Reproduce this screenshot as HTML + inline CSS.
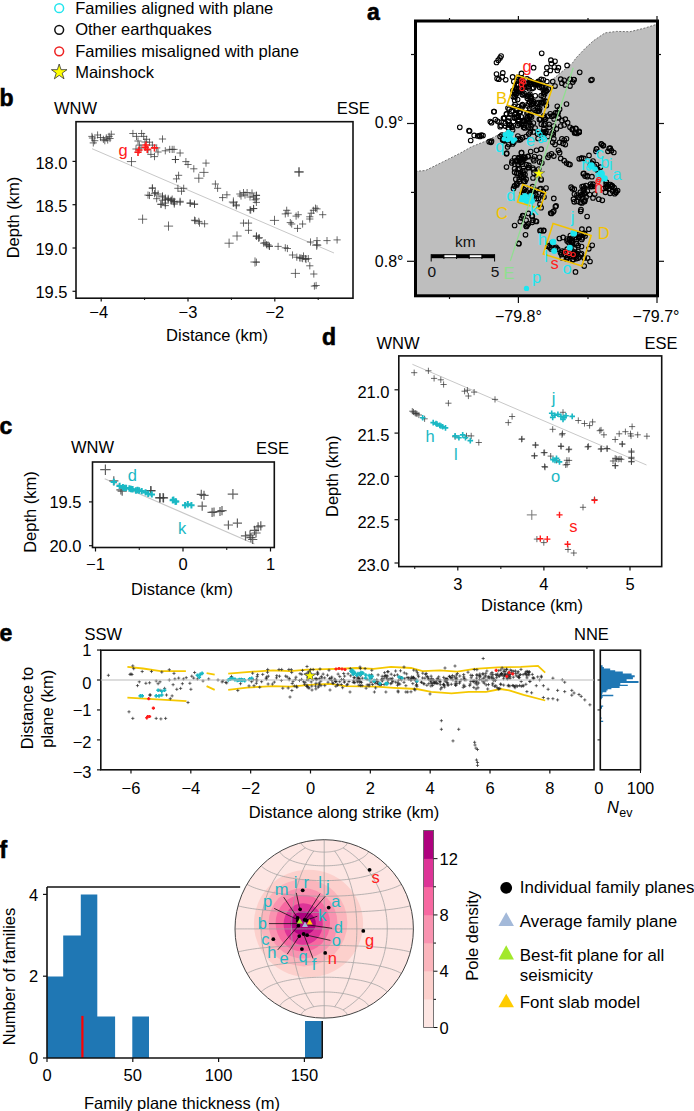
<!DOCTYPE html>
<html><head><meta charset="utf-8"><style>
html,body{margin:0;padding:0;background:#fff;}
body{width:694px;height:1111px;overflow:hidden;}
svg{display:block;font-family:"Liberation Sans", sans-serif;}
</style></head><body>
<svg width="694" height="1111" viewBox="0 0 694 1111">
<circle cx="59.2" cy="8.2" r="4.4" fill="none" stroke="#22e5ee" stroke-width="1.5"/>
<text x="75.2" y="13.8" font-size="16.5" fill="#000">Families aligned with plane</text>
<circle cx="59.2" cy="29.8" r="4.4" fill="none" stroke="#111" stroke-width="1.5"/>
<text x="75.2" y="35.35" font-size="16.5" fill="#000">Other earthquakes</text>
<circle cx="59.2" cy="51.3" r="4.4" fill="none" stroke="#ee2222" stroke-width="1.5"/>
<text x="75.2" y="56.900000000000006" font-size="16.5" fill="#000">Families misaligned with plane</text>
<polygon points="59.20,64.00 61.04,69.67 67.00,69.67 62.18,73.17 64.02,78.83 59.20,75.33 54.38,78.83 56.22,73.17 51.40,69.67 57.36,69.67" fill="#ffff00" stroke="#333" stroke-width="0.8"/>
<text x="75.2" y="78.4" font-size="16.5" fill="#000">Mainshock</text>
<line x1="92" y1="148.7" x2="334" y2="253" stroke="#c8c8c8" stroke-width="1"/>
<g fill="none">
<path d="M88.3,136.4h7.2M91.9,132.8v7.2" stroke="#3a3a3a" stroke-width="1.0" stroke-opacity="0.75"/>
<path d="M91.1,140.7h7.2M94.7,137.1v7.2" stroke="#3a3a3a" stroke-width="1.0" stroke-opacity="0.75"/>
<path d="M94.0,135.0h7.2M97.6,131.4v7.2" stroke="#3a3a3a" stroke-width="1.0" stroke-opacity="0.75"/>
<path d="M99.8,139.3h7.2M103.4,135.7v7.2" stroke="#3a3a3a" stroke-width="1.0" stroke-opacity="0.75"/>
<path d="M102.7,137.9h7.2M106.3,134.3v7.2" stroke="#3a3a3a" stroke-width="1.0" stroke-opacity="0.75"/>
<path d="M105.5,136.4h7.2M109.1,132.8v7.2" stroke="#3a3a3a" stroke-width="1.0" stroke-opacity="0.75"/>
<path d="M107.7,134.2h7.2M111.3,130.6v7.2" stroke="#3a3a3a" stroke-width="1.0" stroke-opacity="0.75"/>
<path d="M89.7,142.9h7.2M93.3,139.3v7.2" stroke="#3a3a3a" stroke-width="1.0" stroke-opacity="0.75"/>
<path d="M101.2,140.7h7.2M104.8,137.1v7.2" stroke="#3a3a3a" stroke-width="1.0" stroke-opacity="0.75"/>
<path d="M104.1,140.0h7.2M107.7,136.4v7.2" stroke="#3a3a3a" stroke-width="1.0" stroke-opacity="0.75"/>
<path d="M88.9,138.0h7.2M92.5,134.4v7.2" stroke="#3a3a3a" stroke-width="1.0" stroke-opacity="0.75"/>
<path d="M96.9,137.5h7.2M100.5,133.9v7.2" stroke="#3a3a3a" stroke-width="1.0" stroke-opacity="0.75"/>
<path d="M106.4,138.5h7.2M110.0,134.9v7.2" stroke="#3a3a3a" stroke-width="1.0" stroke-opacity="0.75"/>
<path d="M129.3,133.5h7.2M132.9,129.9v7.2" stroke="#3a3a3a" stroke-width="1.0" stroke-opacity="0.75"/>
<path d="M132.9,136.4h7.2M136.5,132.8v7.2" stroke="#3a3a3a" stroke-width="1.0" stroke-opacity="0.75"/>
<path d="M138.0,133.5h7.2M141.6,129.9v7.2" stroke="#3a3a3a" stroke-width="1.0" stroke-opacity="0.75"/>
<path d="M140.1,136.4h7.2M143.7,132.8v7.2" stroke="#3a3a3a" stroke-width="1.0" stroke-opacity="0.75"/>
<path d="M143.0,139.3h7.2M146.6,135.7v7.2" stroke="#3a3a3a" stroke-width="1.0" stroke-opacity="0.75"/>
<path d="M145.9,142.2h7.2M149.5,138.6v7.2" stroke="#3a3a3a" stroke-width="1.0" stroke-opacity="0.75"/>
<path d="M148.8,145.1h7.2M152.4,141.5v7.2" stroke="#3a3a3a" stroke-width="1.0" stroke-opacity="0.75"/>
<path d="M153.1,147.9h7.2M156.7,144.3v7.2" stroke="#3a3a3a" stroke-width="1.0" stroke-opacity="0.75"/>
<path d="M158.9,139.0h7.2M162.5,135.4v7.2" stroke="#3a3a3a" stroke-width="1.0" stroke-opacity="0.75"/>
<path d="M135.8,145.1h7.2M139.4,141.5v7.2" stroke="#3a3a3a" stroke-width="1.0" stroke-opacity="0.75"/>
<path d="M147.3,154.4h7.2M150.9,150.8v7.2" stroke="#3a3a3a" stroke-width="1.0" stroke-opacity="0.75"/>
<path d="M150.9,156.6h7.2M154.5,153.0v7.2" stroke="#3a3a3a" stroke-width="1.0" stroke-opacity="0.75"/>
<path d="M126.9,161.6h9.2M131.5,157.0v9.2" stroke="#3a3a3a" stroke-width="1.0" stroke-opacity="0.75"/>
<path d="M161.7,150.8h7.2M165.3,147.2v7.2" stroke="#3a3a3a" stroke-width="1.0" stroke-opacity="0.75"/>
<path d="M166.1,149.4h7.2M169.7,145.8v7.2" stroke="#3a3a3a" stroke-width="1.0" stroke-opacity="0.75"/>
<path d="M170.4,149.4h7.2M174.0,145.8v7.2" stroke="#3a3a3a" stroke-width="1.0" stroke-opacity="0.75"/>
<path d="M171.8,159.5h7.2M175.4,155.9v7.2" stroke="#3a3a3a" stroke-width="1.0" stroke-opacity="0.75"/>
<path d="M134.4,141.0h7.2M138.0,137.4v7.2" stroke="#3a3a3a" stroke-width="1.0" stroke-opacity="0.75"/>
<path d="M141.4,142.0h7.2M145.0,138.4v7.2" stroke="#3a3a3a" stroke-width="1.0" stroke-opacity="0.75"/>
<path d="M137.4,148.0h7.2M141.0,144.4v7.2" stroke="#3a3a3a" stroke-width="1.0" stroke-opacity="0.75"/>
<path d="M132.4,149.0h7.2M136.0,145.4v7.2" stroke="#3a3a3a" stroke-width="1.0" stroke-opacity="0.75"/>
<path d="M144.4,150.0h7.2M148.0,146.4v7.2" stroke="#3a3a3a" stroke-width="1.0" stroke-opacity="0.75"/>
<path d="M154.4,152.0h7.2M158.0,148.4v7.2" stroke="#3a3a3a" stroke-width="1.0" stroke-opacity="0.75"/>
<path d="M148.8,188.3h7.2M152.4,184.7v7.2" stroke="#3a3a3a" stroke-width="1.0" stroke-opacity="0.75"/>
<path d="M145.9,195.5h7.2M149.5,191.9v7.2" stroke="#3a3a3a" stroke-width="1.0" stroke-opacity="0.75"/>
<path d="M151.7,192.6h7.2M155.3,189.0v7.2" stroke="#3a3a3a" stroke-width="1.0" stroke-opacity="0.75"/>
<path d="M154.5,194.0h7.2M158.1,190.4v7.2" stroke="#3a3a3a" stroke-width="1.0" stroke-opacity="0.75"/>
<path d="M158.9,196.9h7.2M162.5,193.3v7.2" stroke="#3a3a3a" stroke-width="1.0" stroke-opacity="0.75"/>
<path d="M161.7,199.8h7.2M165.3,196.2v7.2" stroke="#3a3a3a" stroke-width="1.0" stroke-opacity="0.75"/>
<path d="M164.6,198.4h7.2M168.2,194.8v7.2" stroke="#3a3a3a" stroke-width="1.0" stroke-opacity="0.75"/>
<path d="M167.5,200.6h7.2M171.1,197.0v7.2" stroke="#3a3a3a" stroke-width="1.0" stroke-opacity="0.75"/>
<path d="M170.4,201.3h7.2M174.0,197.7v7.2" stroke="#3a3a3a" stroke-width="1.0" stroke-opacity="0.75"/>
<path d="M157.4,204.1h7.2M161.0,200.5v7.2" stroke="#3a3a3a" stroke-width="1.0" stroke-opacity="0.75"/>
<path d="M161.7,205.6h7.2M165.3,202.0v7.2" stroke="#3a3a3a" stroke-width="1.0" stroke-opacity="0.75"/>
<path d="M148.8,187.9h7.2M152.4,184.3v7.2" stroke="#3a3a3a" stroke-width="1.0" stroke-opacity="0.75"/>
<path d="M144.4,195.1h7.2M148.0,191.5v7.2" stroke="#3a3a3a" stroke-width="1.0" stroke-opacity="0.75"/>
<path d="M150.9,193.7h7.2M154.5,190.1v7.2" stroke="#3a3a3a" stroke-width="1.0" stroke-opacity="0.75"/>
<path d="M158.9,195.9h7.2M162.5,192.3v7.2" stroke="#3a3a3a" stroke-width="1.0" stroke-opacity="0.75"/>
<path d="M161.7,198.0h7.2M165.3,194.4v7.2" stroke="#3a3a3a" stroke-width="1.0" stroke-opacity="0.75"/>
<path d="M164.6,199.5h7.2M168.2,195.9v7.2" stroke="#3a3a3a" stroke-width="1.0" stroke-opacity="0.75"/>
<path d="M167.5,200.2h7.2M171.1,196.6v7.2" stroke="#3a3a3a" stroke-width="1.0" stroke-opacity="0.75"/>
<path d="M170.4,201.6h7.2M174.0,198.0v7.2" stroke="#3a3a3a" stroke-width="1.0" stroke-opacity="0.75"/>
<path d="M157.4,204.5h7.2M161.0,200.9v7.2" stroke="#3a3a3a" stroke-width="1.0" stroke-opacity="0.75"/>
<path d="M161.7,203.1h7.2M165.3,199.5v7.2" stroke="#3a3a3a" stroke-width="1.0" stroke-opacity="0.75"/>
<path d="M153.1,198.7h7.2M156.7,195.1v7.2" stroke="#3a3a3a" stroke-width="1.0" stroke-opacity="0.75"/>
<path d="M158.9,200.2h7.2M162.5,196.6v7.2" stroke="#3a3a3a" stroke-width="1.0" stroke-opacity="0.75"/>
<path d="M138.0,219.2h9.2M142.6,214.6v9.2" stroke="#3a3a3a" stroke-width="1.0" stroke-opacity="0.75"/>
<path d="M163.9,226.1h9.2M168.5,221.5v9.2" stroke="#3a3a3a" stroke-width="1.0" stroke-opacity="0.75"/>
<path d="M168.6,149.4h7.2M172.2,145.8v7.2" stroke="#3a3a3a" stroke-width="1.0" stroke-opacity="0.75"/>
<path d="M176.5,153.0h7.2M180.1,149.4v7.2" stroke="#3a3a3a" stroke-width="1.0" stroke-opacity="0.75"/>
<path d="M171.9,159.5h7.2M175.5,155.9v7.2" stroke="#3a3a3a" stroke-width="1.0" stroke-opacity="0.75"/>
<path d="M182.3,161.6h7.2M185.9,158.0v7.2" stroke="#3a3a3a" stroke-width="1.0" stroke-opacity="0.75"/>
<path d="M184.4,164.5h7.2M188.0,160.9v7.2" stroke="#3a3a3a" stroke-width="1.0" stroke-opacity="0.75"/>
<path d="M190.2,168.8h7.2M193.8,165.2v7.2" stroke="#3a3a3a" stroke-width="1.0" stroke-opacity="0.75"/>
<path d="M194.2,178.2h9.2M198.8,173.6v9.2" stroke="#3a3a3a" stroke-width="1.0" stroke-opacity="0.75"/>
<path d="M199.3,172.4h9.2M203.9,167.8v9.2" stroke="#3a3a3a" stroke-width="1.0" stroke-opacity="0.75"/>
<path d="M202.4,163.1h7.2M206.0,159.5v7.2" stroke="#3a3a3a" stroke-width="1.0" stroke-opacity="0.75"/>
<path d="M175.0,175.3h7.2M178.6,171.7v7.2" stroke="#3a3a3a" stroke-width="1.0" stroke-opacity="0.75"/>
<path d="M172.9,178.9h7.2M176.5,175.3v7.2" stroke="#3a3a3a" stroke-width="1.0" stroke-opacity="0.75"/>
<path d="M174.3,188.3h7.2M177.9,184.7v7.2" stroke="#3a3a3a" stroke-width="1.0" stroke-opacity="0.75"/>
<path d="M177.9,191.2h7.2M181.5,187.6v7.2" stroke="#3a3a3a" stroke-width="1.0" stroke-opacity="0.75"/>
<path d="M180.1,188.3h7.2M183.7,184.7v7.2" stroke="#3a3a3a" stroke-width="1.0" stroke-opacity="0.75"/>
<path d="M168.6,199.1h7.2M172.2,195.5v7.2" stroke="#3a3a3a" stroke-width="1.0" stroke-opacity="0.75"/>
<path d="M176.5,201.3h7.2M180.1,197.7v7.2" stroke="#3a3a3a" stroke-width="1.0" stroke-opacity="0.75"/>
<path d="M170.7,204.1h7.2M174.3,200.5v7.2" stroke="#3a3a3a" stroke-width="1.0" stroke-opacity="0.75"/>
<path d="M186.6,203.4h7.2M190.2,199.8v7.2" stroke="#3a3a3a" stroke-width="1.0" stroke-opacity="0.75"/>
<path d="M190.9,204.1h7.2M194.5,200.5v7.2" stroke="#3a3a3a" stroke-width="1.0" stroke-opacity="0.75"/>
<path d="M211.8,184.0h7.2M215.4,180.4v7.2" stroke="#3a3a3a" stroke-width="1.0" stroke-opacity="0.75"/>
<path d="M214.0,188.3h7.2M217.6,184.7v7.2" stroke="#3a3a3a" stroke-width="1.0" stroke-opacity="0.75"/>
<path d="M219.0,197.6h7.2M222.6,194.0v7.2" stroke="#3a3a3a" stroke-width="1.0" stroke-opacity="0.75"/>
<path d="M223.3,194.8h7.2M226.9,191.2v7.2" stroke="#3a3a3a" stroke-width="1.0" stroke-opacity="0.75"/>
<path d="M228.8,202.0h9.2M233.4,197.4v9.2" stroke="#3a3a3a" stroke-width="1.0" stroke-opacity="0.75"/>
<path d="M232.7,204.9h7.2M236.3,201.3v7.2" stroke="#3a3a3a" stroke-width="1.0" stroke-opacity="0.75"/>
<path d="M236.3,194.0h7.2M239.9,190.4v7.2" stroke="#3a3a3a" stroke-width="1.0" stroke-opacity="0.75"/>
<path d="M239.9,192.6h7.2M243.5,189.0v7.2" stroke="#3a3a3a" stroke-width="1.0" stroke-opacity="0.75"/>
<path d="M243.5,192.6h7.2M247.1,189.0v7.2" stroke="#3a3a3a" stroke-width="1.0" stroke-opacity="0.75"/>
<path d="M250.0,196.9h7.2M253.6,193.3v7.2" stroke="#3a3a3a" stroke-width="1.0" stroke-opacity="0.75"/>
<path d="M252.9,195.5h7.2M256.5,191.9v7.2" stroke="#3a3a3a" stroke-width="1.0" stroke-opacity="0.75"/>
<path d="M251.4,199.8h7.2M255.0,196.2v7.2" stroke="#3a3a3a" stroke-width="1.0" stroke-opacity="0.75"/>
<path d="M246.4,209.9h7.2M250.0,206.3v7.2" stroke="#3a3a3a" stroke-width="1.0" stroke-opacity="0.75"/>
<path d="M250.0,208.5h7.2M253.6,204.9v7.2" stroke="#3a3a3a" stroke-width="1.0" stroke-opacity="0.75"/>
<path d="M191.6,220.7h7.2M195.2,217.1v7.2" stroke="#3a3a3a" stroke-width="1.0" stroke-opacity="0.75"/>
<path d="M195.2,221.4h7.2M198.8,217.8v7.2" stroke="#3a3a3a" stroke-width="1.0" stroke-opacity="0.75"/>
<path d="M237.4,196.0h7.2M241.0,192.4v7.2" stroke="#3a3a3a" stroke-width="1.0" stroke-opacity="0.75"/>
<path d="M241.4,195.0h7.2M245.0,191.4v7.2" stroke="#3a3a3a" stroke-width="1.0" stroke-opacity="0.75"/>
<path d="M246.4,197.0h7.2M250.0,193.4v7.2" stroke="#3a3a3a" stroke-width="1.0" stroke-opacity="0.75"/>
<path d="M248.4,193.0h7.2M252.0,189.4v7.2" stroke="#3a3a3a" stroke-width="1.0" stroke-opacity="0.75"/>
<path d="M294.4,172.2h9.2M299.0,167.6v9.2" stroke="#3a3a3a" stroke-width="1.0" stroke-opacity="0.75"/>
<path d="M252.8,195.2h7.2M256.4,191.6v7.2" stroke="#3a3a3a" stroke-width="1.0" stroke-opacity="0.75"/>
<path d="M252.8,198.8h7.2M256.4,195.2v7.2" stroke="#3a3a3a" stroke-width="1.0" stroke-opacity="0.75"/>
<path d="M252.8,202.4h7.2M256.4,198.8v7.2" stroke="#3a3a3a" stroke-width="1.0" stroke-opacity="0.75"/>
<path d="M269.9,220.4h9.2M274.5,215.8v9.2" stroke="#3a3a3a" stroke-width="1.0" stroke-opacity="0.75"/>
<path d="M283.1,210.3h7.2M286.7,206.7v7.2" stroke="#3a3a3a" stroke-width="1.0" stroke-opacity="0.75"/>
<path d="M281.7,213.9h7.2M285.3,210.3v7.2" stroke="#3a3a3a" stroke-width="1.0" stroke-opacity="0.75"/>
<path d="M284.5,213.2h7.2M288.1,209.6v7.2" stroke="#3a3a3a" stroke-width="1.0" stroke-opacity="0.75"/>
<path d="M292.5,216.1h7.2M296.1,212.5v7.2" stroke="#3a3a3a" stroke-width="1.0" stroke-opacity="0.75"/>
<path d="M294.6,214.7h7.2M298.2,211.1v7.2" stroke="#3a3a3a" stroke-width="1.0" stroke-opacity="0.75"/>
<path d="M286.7,222.6h7.2M290.3,219.0v7.2" stroke="#3a3a3a" stroke-width="1.0" stroke-opacity="0.75"/>
<path d="M288.1,224.0h7.2M291.7,220.4v7.2" stroke="#3a3a3a" stroke-width="1.0" stroke-opacity="0.75"/>
<path d="M293.9,228.4h7.2M297.5,224.8v7.2" stroke="#3a3a3a" stroke-width="1.0" stroke-opacity="0.75"/>
<path d="M299.0,224.0h7.2M302.6,220.4v7.2" stroke="#3a3a3a" stroke-width="1.0" stroke-opacity="0.75"/>
<path d="M306.2,216.8h7.2M309.8,213.2v7.2" stroke="#3a3a3a" stroke-width="1.0" stroke-opacity="0.75"/>
<path d="M307.6,213.2h7.2M311.2,209.6v7.2" stroke="#3a3a3a" stroke-width="1.0" stroke-opacity="0.75"/>
<path d="M309.8,210.3h7.2M313.4,206.7v7.2" stroke="#3a3a3a" stroke-width="1.0" stroke-opacity="0.75"/>
<path d="M311.9,208.2h7.2M315.5,204.6v7.2" stroke="#3a3a3a" stroke-width="1.0" stroke-opacity="0.75"/>
<path d="M313.4,208.9h7.2M317.0,205.3v7.2" stroke="#3a3a3a" stroke-width="1.0" stroke-opacity="0.75"/>
<path d="M319.1,214.7h7.2M322.7,211.1v7.2" stroke="#3a3a3a" stroke-width="1.0" stroke-opacity="0.75"/>
<path d="M306.2,219.0h7.2M309.8,215.4v7.2" stroke="#3a3a3a" stroke-width="1.0" stroke-opacity="0.75"/>
<path d="M306.9,242.0h7.2M310.5,238.4v7.2" stroke="#3a3a3a" stroke-width="1.0" stroke-opacity="0.75"/>
<path d="M313.4,240.6h7.2M317.0,237.0v7.2" stroke="#3a3a3a" stroke-width="1.0" stroke-opacity="0.75"/>
<path d="M313.4,244.9h7.2M317.0,241.3v7.2" stroke="#3a3a3a" stroke-width="1.0" stroke-opacity="0.75"/>
<path d="M323.4,240.6h7.2M327.0,237.0v7.2" stroke="#3a3a3a" stroke-width="1.0" stroke-opacity="0.75"/>
<path d="M333.5,239.9h7.2M337.1,236.3v7.2" stroke="#3a3a3a" stroke-width="1.0" stroke-opacity="0.75"/>
<path d="M252.8,236.3h7.2M256.4,232.7v7.2" stroke="#3a3a3a" stroke-width="1.0" stroke-opacity="0.75"/>
<path d="M255.7,237.7h7.2M259.3,234.1v7.2" stroke="#3a3a3a" stroke-width="1.0" stroke-opacity="0.75"/>
<path d="M261.5,242.8h7.2M265.1,239.2v7.2" stroke="#3a3a3a" stroke-width="1.0" stroke-opacity="0.75"/>
<path d="M264.4,244.9h7.2M268.0,241.3v7.2" stroke="#3a3a3a" stroke-width="1.0" stroke-opacity="0.75"/>
<path d="M265.8,246.4h7.2M269.4,242.8v7.2" stroke="#3a3a3a" stroke-width="1.0" stroke-opacity="0.75"/>
<path d="M274.5,246.4h7.2M278.1,242.8v7.2" stroke="#3a3a3a" stroke-width="1.0" stroke-opacity="0.75"/>
<path d="M281.7,247.8h7.2M285.3,244.2v7.2" stroke="#3a3a3a" stroke-width="1.0" stroke-opacity="0.75"/>
<path d="M283.8,248.5h7.2M287.4,244.9v7.2" stroke="#3a3a3a" stroke-width="1.0" stroke-opacity="0.75"/>
<path d="M288.9,255.0h7.2M292.5,251.4v7.2" stroke="#3a3a3a" stroke-width="1.0" stroke-opacity="0.75"/>
<path d="M293.2,257.2h7.2M296.8,253.6v7.2" stroke="#3a3a3a" stroke-width="1.0" stroke-opacity="0.75"/>
<path d="M296.1,257.9h7.2M299.7,254.3v7.2" stroke="#3a3a3a" stroke-width="1.0" stroke-opacity="0.75"/>
<path d="M299.0,258.6h7.2M302.6,255.0v7.2" stroke="#3a3a3a" stroke-width="1.0" stroke-opacity="0.75"/>
<path d="M301.8,258.6h7.2M305.4,255.0v7.2" stroke="#3a3a3a" stroke-width="1.0" stroke-opacity="0.75"/>
<path d="M304.7,258.6h7.2M308.3,255.0v7.2" stroke="#3a3a3a" stroke-width="1.0" stroke-opacity="0.75"/>
<path d="M306.2,265.8h7.2M309.8,262.2v7.2" stroke="#3a3a3a" stroke-width="1.0" stroke-opacity="0.75"/>
<path d="M252.8,262.2h7.2M256.4,258.6v7.2" stroke="#3a3a3a" stroke-width="1.0" stroke-opacity="0.75"/>
<path d="M190.9,220.2h7.2M194.5,216.6v7.2" stroke="#3a3a3a" stroke-width="1.0" stroke-opacity="0.75"/>
<path d="M195.9,223.1h7.2M199.5,219.5v7.2" stroke="#3a3a3a" stroke-width="1.0" stroke-opacity="0.75"/>
<path d="M201.0,223.8h7.2M204.6,220.2v7.2" stroke="#3a3a3a" stroke-width="1.0" stroke-opacity="0.75"/>
<path d="M232.4,236.0h9.2M237.0,231.4v9.2" stroke="#3a3a3a" stroke-width="1.0" stroke-opacity="0.75"/>
<path d="M224.5,243.2h9.2M229.1,238.6v9.2" stroke="#3a3a3a" stroke-width="1.0" stroke-opacity="0.75"/>
<path d="M250.4,262.0h9.2M255.0,257.4v9.2" stroke="#3a3a3a" stroke-width="1.0" stroke-opacity="0.75"/>
<path d="M239.9,223.1h7.2M243.5,219.5v7.2" stroke="#3a3a3a" stroke-width="1.0" stroke-opacity="0.75"/>
<path d="M244.9,223.1h7.2M248.5,219.5v7.2" stroke="#3a3a3a" stroke-width="1.0" stroke-opacity="0.75"/>
<path d="M244.9,230.3h7.2M248.5,226.7v7.2" stroke="#3a3a3a" stroke-width="1.0" stroke-opacity="0.75"/>
<path d="M252.9,236.0h7.2M256.5,232.4v7.2" stroke="#3a3a3a" stroke-width="1.0" stroke-opacity="0.75"/>
<path d="M255.0,238.2h7.2M258.6,234.6v7.2" stroke="#3a3a3a" stroke-width="1.0" stroke-opacity="0.75"/>
<path d="M260.1,243.2h7.2M263.7,239.6v7.2" stroke="#3a3a3a" stroke-width="1.0" stroke-opacity="0.75"/>
<path d="M262.9,244.7h7.2M266.5,241.1v7.2" stroke="#3a3a3a" stroke-width="1.0" stroke-opacity="0.75"/>
<path d="M265.8,246.1h7.2M269.4,242.5v7.2" stroke="#3a3a3a" stroke-width="1.0" stroke-opacity="0.75"/>
<path d="M247.1,210.1h7.2M250.7,206.5v7.2" stroke="#3a3a3a" stroke-width="1.0" stroke-opacity="0.75"/>
<path d="M250.0,208.6h7.2M253.6,205.0v7.2" stroke="#3a3a3a" stroke-width="1.0" stroke-opacity="0.75"/>
<path d="M229.8,202.9h7.2M233.4,199.3v7.2" stroke="#3a3a3a" stroke-width="1.0" stroke-opacity="0.75"/>
<path d="M232.7,205.8h7.2M236.3,202.2v7.2" stroke="#3a3a3a" stroke-width="1.0" stroke-opacity="0.75"/>
<path d="M170.7,202.9h7.2M174.3,199.3v7.2" stroke="#3a3a3a" stroke-width="1.0" stroke-opacity="0.75"/>
<path d="M176.5,202.2h7.2M180.1,198.6v7.2" stroke="#3a3a3a" stroke-width="1.0" stroke-opacity="0.75"/>
<path d="M186.6,202.9h7.2M190.2,199.3v7.2" stroke="#3a3a3a" stroke-width="1.0" stroke-opacity="0.75"/>
<path d="M190.9,204.3h7.2M194.5,200.7v7.2" stroke="#3a3a3a" stroke-width="1.0" stroke-opacity="0.75"/>
<path d="M294.4,171.7h9.2M299.0,167.1v9.2" stroke="#3a3a3a" stroke-width="1.0" stroke-opacity="0.75"/>
<path d="M299.9,256.0h7.2M303.5,252.4v7.2" stroke="#3a3a3a" stroke-width="1.0" stroke-opacity="0.75"/>
<path d="M302.4,259.5h7.2M306.0,255.9v7.2" stroke="#3a3a3a" stroke-width="1.0" stroke-opacity="0.75"/>
<path d="M297.4,258.0h7.2M301.0,254.4v7.2" stroke="#3a3a3a" stroke-width="1.0" stroke-opacity="0.75"/>
<path d="M290.8,273.4h9.2M295.4,268.8v9.2" stroke="#3a3a3a" stroke-width="1.0" stroke-opacity="0.75"/>
<path d="M310.2,274.0h7.2M313.8,270.4v7.2" stroke="#3a3a3a" stroke-width="1.0" stroke-opacity="0.75"/>
<path d="M310.8,286.1h7.2M314.4,282.5v7.2" stroke="#3a3a3a" stroke-width="1.0" stroke-opacity="0.75"/>
<path d="M312.5,285.5h7.2M316.1,281.9v7.2" stroke="#3a3a3a" stroke-width="1.0" stroke-opacity="0.75"/>
<path d="M312.1,245.2h9.2M316.7,240.6v9.2" stroke="#3a3a3a" stroke-width="1.0" stroke-opacity="0.75"/>
<path d="M134.4,152.3h7.2M138.0,148.7v7.2" stroke="#ff1a1a" stroke-width="1.6"/>
<path d="M141.6,147.2h7.2M145.2,143.6v7.2" stroke="#ff1a1a" stroke-width="1.6"/>
<path d="M143.7,149.4h7.2M147.3,145.8v7.2" stroke="#ff1a1a" stroke-width="1.6"/>
<path d="M150.9,147.9h7.2M154.5,144.3v7.2" stroke="#ff1a1a" stroke-width="1.6"/>
<path d="M135.4,150.0h7.2M139.0,146.4v7.2" stroke="#ff1a1a" stroke-width="1.6"/>
<path d="M142.4,145.0h7.2M146.0,141.4v7.2" stroke="#ff1a1a" stroke-width="1.6"/>
</g>
<text x="118.5" y="156" font-size="16.5" fill="#ff1a1a">g</text>
<line x1="104.7" y1="478.8" x2="254.5" y2="544" stroke="#c8c8c8" stroke-width="1.2"/>
<g fill="none">
<path d="M146.3,490.8h9.2M150.9,486.2v9.2" stroke="#3a3a3a" stroke-width="1.2" stroke-opacity="0.8"/>
<path d="M155.3,498.0h9.2M159.9,493.4v9.2" stroke="#3a3a3a" stroke-width="1.2" stroke-opacity="0.8"/>
<path d="M158.9,498.0h9.2M163.5,493.4v9.2" stroke="#3a3a3a" stroke-width="1.2" stroke-opacity="0.8"/>
<path d="M196.7,494.4h9.2M201.3,489.8v9.2" stroke="#3a3a3a" stroke-width="1.2" stroke-opacity="0.8"/>
<path d="M199.4,495.3h9.2M204.0,490.7v9.2" stroke="#3a3a3a" stroke-width="1.2" stroke-opacity="0.8"/>
<path d="M197.6,506.1h9.2M202.2,501.5v9.2" stroke="#3a3a3a" stroke-width="1.2" stroke-opacity="0.8"/>
<path d="M207.5,512.4h9.2M212.1,507.8v9.2" stroke="#3a3a3a" stroke-width="1.2" stroke-opacity="0.8"/>
<path d="M217.4,510.6h9.2M222.0,506.0v9.2" stroke="#3a3a3a" stroke-width="1.2" stroke-opacity="0.8"/>
<path d="M227.7,494.1h10.4M232.9,488.9v10.4" stroke="#3a3a3a" stroke-width="1.2" stroke-opacity="0.8"/>
<path d="M223.8,525.0h9.2M228.4,520.4v9.2" stroke="#3a3a3a" stroke-width="1.2" stroke-opacity="0.8"/>
<path d="M232.8,523.2h9.2M237.4,518.6v9.2" stroke="#3a3a3a" stroke-width="1.2" stroke-opacity="0.8"/>
<path d="M240.9,535.8h9.2M245.5,531.2v9.2" stroke="#3a3a3a" stroke-width="1.2" stroke-opacity="0.8"/>
<path d="M246.3,537.6h9.2M250.9,533.0v9.2" stroke="#3a3a3a" stroke-width="1.2" stroke-opacity="0.8"/>
<path d="M249.9,530.4h9.2M254.5,525.8v9.2" stroke="#3a3a3a" stroke-width="1.2" stroke-opacity="0.8"/>
<path d="M253.5,526.8h9.2M258.1,522.2v9.2" stroke="#3a3a3a" stroke-width="1.2" stroke-opacity="0.8"/>
<path d="M256.2,525.9h9.2M260.8,521.3v9.2" stroke="#3a3a3a" stroke-width="1.2" stroke-opacity="0.8"/>
<path d="M248.1,539.5h9.2M252.7,534.9v9.2" stroke="#3a3a3a" stroke-width="1.2" stroke-opacity="0.8"/>
<path d="M100.2,469.7h10.4M105.4,464.5v10.4" stroke="#3a3a3a" stroke-width="1.2" stroke-opacity="0.8"/>
<path d="M109.2,480.8h9.2M113.8,476.2v9.2" stroke="#3a3a3a" stroke-width="1.2" stroke-opacity="0.8"/>
<path d="M116.3,489.8h9.2M120.9,485.2v9.2" stroke="#3a3a3a" stroke-width="1.2" stroke-opacity="0.8"/>
<path d="M117.6,491.1h9.2M122.2,486.5v9.2" stroke="#3a3a3a" stroke-width="1.2" stroke-opacity="0.8"/>
<path d="M146.2,490.5h9.2M150.8,485.9v9.2" stroke="#3a3a3a" stroke-width="1.2" stroke-opacity="0.8"/>
<path d="M155.3,497.6h9.2M159.9,493.0v9.2" stroke="#3a3a3a" stroke-width="1.2" stroke-opacity="0.8"/>
<path d="M158.5,497.6h9.2M163.1,493.0v9.2" stroke="#3a3a3a" stroke-width="1.2" stroke-opacity="0.8"/>
<path d="M209.4,512.0h9.2M214.0,507.4v9.2" stroke="#3a3a3a" stroke-width="1.2" stroke-opacity="0.8"/>
<path d="M215.4,511.5h9.2M220.0,506.9v9.2" stroke="#3a3a3a" stroke-width="1.2" stroke-opacity="0.8"/>
<path d="M245.4,535.0h9.2M250.0,530.4v9.2" stroke="#3a3a3a" stroke-width="1.2" stroke-opacity="0.8"/>
<path d="M251.4,533.0h9.2M256.0,528.4v9.2" stroke="#3a3a3a" stroke-width="1.2" stroke-opacity="0.8"/>
<path d="M148.6,494.4h6.4M151.8,491.2v6.4" stroke="#1ab8c4" stroke-width="2.0"/>
<path d="M170.2,499.8h6.4M173.4,496.6v6.4" stroke="#1ab8c4" stroke-width="2.0"/>
<path d="M172.9,501.6h6.4M176.1,498.4v6.4" stroke="#1ab8c4" stroke-width="2.0"/>
<path d="M181.9,505.2h6.4M185.1,502.0v6.4" stroke="#1ab8c4" stroke-width="2.0"/>
<path d="M184.6,504.3h6.4M187.8,501.1v6.4" stroke="#1ab8c4" stroke-width="2.0"/>
<path d="M188.2,505.2h6.4M191.4,502.0v6.4" stroke="#1ab8c4" stroke-width="2.0"/>
<path d="M110.6,482.0h6.4M113.8,478.8v6.4" stroke="#1ab8c4" stroke-width="2.0"/>
<path d="M116.4,485.9h6.4M119.6,482.7v6.4" stroke="#1ab8c4" stroke-width="2.0"/>
<path d="M119.7,487.2h6.4M122.9,484.0v6.4" stroke="#1ab8c4" stroke-width="2.0"/>
<path d="M122.9,487.9h6.4M126.1,484.7v6.4" stroke="#1ab8c4" stroke-width="2.0"/>
<path d="M126.2,488.5h6.4M129.4,485.3v6.4" stroke="#1ab8c4" stroke-width="2.0"/>
<path d="M129.4,489.2h6.4M132.6,486.0v6.4" stroke="#1ab8c4" stroke-width="2.0"/>
<path d="M132.7,490.5h6.4M135.9,487.3v6.4" stroke="#1ab8c4" stroke-width="2.0"/>
<path d="M135.9,490.5h6.4M139.1,487.3v6.4" stroke="#1ab8c4" stroke-width="2.0"/>
<path d="M138.5,491.1h6.4M141.7,487.9v6.4" stroke="#1ab8c4" stroke-width="2.0"/>
<path d="M142.4,492.4h6.4M145.6,489.2v6.4" stroke="#1ab8c4" stroke-width="2.0"/>
<path d="M145.0,493.7h6.4M148.2,490.5v6.4" stroke="#1ab8c4" stroke-width="2.0"/>
<path d="M169.6,500.2h6.4M172.8,497.0v6.4" stroke="#1ab8c4" stroke-width="2.0"/>
<path d="M172.2,501.5h6.4M175.4,498.3v6.4" stroke="#1ab8c4" stroke-width="2.0"/>
<path d="M121.3,488.0h6.4M124.5,484.8v6.4" stroke="#1ab8c4" stroke-width="2.0"/>
<path d="M127.8,489.0h6.4M131.0,485.8v6.4" stroke="#1ab8c4" stroke-width="2.0"/>
<path d="M134.3,490.0h6.4M137.5,486.8v6.4" stroke="#1ab8c4" stroke-width="2.0"/>
</g>
<text x="127.7" y="480.8" font-size="16.5" fill="#1ab8c4">d</text>
<text x="178" y="534" font-size="16.5" fill="#1ab8c4">k</text>
<line x1="412.4" y1="364.3" x2="646.5" y2="465" stroke="#c8c8c8" stroke-width="1"/>
<g fill="none">
<path d="M411.1,372.7h6.2M414.2,369.6v6.2" stroke="#3a3a3a" stroke-width="1.0" stroke-opacity="0.75"/>
<path d="M425.3,370.8h6.2M428.4,367.7v6.2" stroke="#3a3a3a" stroke-width="1.0" stroke-opacity="0.75"/>
<path d="M431.0,378.4h6.2M434.1,375.3v6.2" stroke="#3a3a3a" stroke-width="1.0" stroke-opacity="0.75"/>
<path d="M437.7,379.8h6.2M440.8,376.7v6.2" stroke="#3a3a3a" stroke-width="1.0" stroke-opacity="0.75"/>
<path d="M440.5,384.5h6.2M443.6,381.4v6.2" stroke="#3a3a3a" stroke-width="1.0" stroke-opacity="0.75"/>
<path d="M461.5,391.2h6.2M464.6,388.1v6.2" stroke="#3a3a3a" stroke-width="1.0" stroke-opacity="0.75"/>
<path d="M464.3,390.2h6.2M467.4,387.1v6.2" stroke="#3a3a3a" stroke-width="1.0" stroke-opacity="0.75"/>
<path d="M465.3,396.0h6.2M468.4,392.9v6.2" stroke="#3a3a3a" stroke-width="1.0" stroke-opacity="0.75"/>
<path d="M471.0,392.1h6.2M474.1,389.0v6.2" stroke="#3a3a3a" stroke-width="1.0" stroke-opacity="0.75"/>
<path d="M491.9,399.4h6.2M495.0,396.3v6.2" stroke="#3a3a3a" stroke-width="1.0" stroke-opacity="0.75"/>
<path d="M445.3,403.2h6.2M448.4,400.1v6.2" stroke="#3a3a3a" stroke-width="1.0" stroke-opacity="0.75"/>
<path d="M409.2,411.2h6.2M412.3,408.1v6.2" stroke="#3a3a3a" stroke-width="1.0" stroke-opacity="0.75"/>
<path d="M412.0,413.1h6.2M415.1,410.0v6.2" stroke="#3a3a3a" stroke-width="1.0" stroke-opacity="0.75"/>
<path d="M413.9,414.0h6.2M417.0,410.9v6.2" stroke="#3a3a3a" stroke-width="1.0" stroke-opacity="0.75"/>
<path d="M415.8,415.0h6.2M418.9,411.9v6.2" stroke="#3a3a3a" stroke-width="1.0" stroke-opacity="0.75"/>
<path d="M421.5,418.8h6.2M424.6,415.7v6.2" stroke="#3a3a3a" stroke-width="1.0" stroke-opacity="0.75"/>
<path d="M505.2,422.6h6.2M508.3,419.5v6.2" stroke="#3a3a3a" stroke-width="1.0" stroke-opacity="0.75"/>
<path d="M509.0,416.5h6.2M512.1,413.4v6.2" stroke="#3a3a3a" stroke-width="1.0" stroke-opacity="0.75"/>
<path d="M518.5,439.3h6.2M521.6,436.2v6.2" stroke="#3a3a3a" stroke-width="1.0" stroke-opacity="0.75"/>
<path d="M463.4,435.9h6.2M466.5,432.8v6.2" stroke="#3a3a3a" stroke-width="1.0" stroke-opacity="0.75"/>
<path d="M468.1,435.9h6.2M471.2,432.8v6.2" stroke="#3a3a3a" stroke-width="1.0" stroke-opacity="0.75"/>
<path d="M475.7,442.5h6.2M478.8,439.4v6.2" stroke="#3a3a3a" stroke-width="1.0" stroke-opacity="0.75"/>
<path d="M452.0,436.8h6.2M455.1,433.7v6.2" stroke="#3a3a3a" stroke-width="1.0" stroke-opacity="0.75"/>
<path d="M559.9,412.3h6.2M563.0,409.2v6.2" stroke="#3a3a3a" stroke-width="1.0" stroke-opacity="0.75"/>
<path d="M575.2,420.5h6.2M578.3,417.4v6.2" stroke="#3a3a3a" stroke-width="1.0" stroke-opacity="0.75"/>
<path d="M581.4,423.5h6.2M584.5,420.4v6.2" stroke="#3a3a3a" stroke-width="1.0" stroke-opacity="0.75"/>
<path d="M586.5,425.6h6.2M589.6,422.5v6.2" stroke="#3a3a3a" stroke-width="1.0" stroke-opacity="0.75"/>
<path d="M589.5,421.9h6.2M592.6,418.8v6.2" stroke="#3a3a3a" stroke-width="1.0" stroke-opacity="0.75"/>
<path d="M596.7,430.7h6.2M599.8,427.6v6.2" stroke="#3a3a3a" stroke-width="1.0" stroke-opacity="0.75"/>
<path d="M600.8,434.8h6.2M603.9,431.7v6.2" stroke="#3a3a3a" stroke-width="1.0" stroke-opacity="0.75"/>
<path d="M549.6,429.3h6.2M552.7,426.2v6.2" stroke="#3a3a3a" stroke-width="1.0" stroke-opacity="0.75"/>
<path d="M558.9,434.8h6.2M562.0,431.7v6.2" stroke="#3a3a3a" stroke-width="1.0" stroke-opacity="0.75"/>
<path d="M518.9,438.9h6.2M522.0,435.8v6.2" stroke="#3a3a3a" stroke-width="1.0" stroke-opacity="0.75"/>
<path d="M532.2,445.0h6.2M535.3,441.9v6.2" stroke="#3a3a3a" stroke-width="1.0" stroke-opacity="0.75"/>
<path d="M531.2,455.9h6.2M534.3,452.8v6.2" stroke="#3a3a3a" stroke-width="1.0" stroke-opacity="0.75"/>
<path d="M541.5,452.6h6.2M544.6,449.5v6.2" stroke="#3a3a3a" stroke-width="1.0" stroke-opacity="0.75"/>
<path d="M557.8,446.0h6.2M560.9,442.9v6.2" stroke="#3a3a3a" stroke-width="1.0" stroke-opacity="0.75"/>
<path d="M566.0,449.1h6.2M569.1,446.0v6.2" stroke="#3a3a3a" stroke-width="1.0" stroke-opacity="0.75"/>
<path d="M566.0,460.4h6.2M569.1,457.3v6.2" stroke="#3a3a3a" stroke-width="1.0" stroke-opacity="0.75"/>
<path d="M564.0,464.5h6.2M567.1,461.4v6.2" stroke="#3a3a3a" stroke-width="1.0" stroke-opacity="0.75"/>
<path d="M541.5,466.5h6.2M544.6,463.4v6.2" stroke="#3a3a3a" stroke-width="1.0" stroke-opacity="0.75"/>
<path d="M585.4,446.4h6.2M588.5,443.3v6.2" stroke="#3a3a3a" stroke-width="1.0" stroke-opacity="0.75"/>
<path d="M597.7,449.1h6.2M600.8,446.0v6.2" stroke="#3a3a3a" stroke-width="1.0" stroke-opacity="0.75"/>
<path d="M603.9,448.5h6.2M607.0,445.4v6.2" stroke="#3a3a3a" stroke-width="1.0" stroke-opacity="0.75"/>
<path d="M612.1,439.5h6.2M615.2,436.4v6.2" stroke="#3a3a3a" stroke-width="1.0" stroke-opacity="0.75"/>
<path d="M616.1,433.8h6.2M619.2,430.7v6.2" stroke="#3a3a3a" stroke-width="1.0" stroke-opacity="0.75"/>
<path d="M622.3,431.7h6.2M625.4,428.6v6.2" stroke="#3a3a3a" stroke-width="1.0" stroke-opacity="0.75"/>
<path d="M627.4,433.8h6.2M630.5,430.7v6.2" stroke="#3a3a3a" stroke-width="1.0" stroke-opacity="0.75"/>
<path d="M629.0,426.6h6.2M632.1,423.5v6.2" stroke="#3a3a3a" stroke-width="1.0" stroke-opacity="0.75"/>
<path d="M634.6,434.8h6.2M637.7,431.7v6.2" stroke="#3a3a3a" stroke-width="1.0" stroke-opacity="0.75"/>
<path d="M643.8,436.2h6.2M646.9,433.1v6.2" stroke="#3a3a3a" stroke-width="1.0" stroke-opacity="0.75"/>
<path d="M619.2,444.0h6.2M622.3,440.9v6.2" stroke="#3a3a3a" stroke-width="1.0" stroke-opacity="0.75"/>
<path d="M612.1,458.3h6.2M615.2,455.2v6.2" stroke="#3a3a3a" stroke-width="1.0" stroke-opacity="0.75"/>
<path d="M615.1,459.3h6.2M618.2,456.2v6.2" stroke="#3a3a3a" stroke-width="1.0" stroke-opacity="0.75"/>
<path d="M618.2,459.3h6.2M621.3,456.2v6.2" stroke="#3a3a3a" stroke-width="1.0" stroke-opacity="0.75"/>
<path d="M628.4,452.2h6.2M631.5,449.1v6.2" stroke="#3a3a3a" stroke-width="1.0" stroke-opacity="0.75"/>
<path d="M628.4,457.3h6.2M631.5,454.2v6.2" stroke="#3a3a3a" stroke-width="1.0" stroke-opacity="0.75"/>
<path d="M628.4,461.4h6.2M631.5,458.3v6.2" stroke="#3a3a3a" stroke-width="1.0" stroke-opacity="0.75"/>
<path d="M612.1,465.5h6.2M615.2,462.4v6.2" stroke="#3a3a3a" stroke-width="1.0" stroke-opacity="0.75"/>
<path d="M532.6,445.1h6.2M535.7,442.0v6.2" stroke="#3a3a3a" stroke-width="1.0" stroke-opacity="0.75"/>
<path d="M558.0,446.5h6.2M561.1,443.4v6.2" stroke="#3a3a3a" stroke-width="1.0" stroke-opacity="0.75"/>
<path d="M565.6,449.7h6.2M568.7,446.6v6.2" stroke="#3a3a3a" stroke-width="1.0" stroke-opacity="0.75"/>
<path d="M531.5,455.7h6.2M534.6,452.6v6.2" stroke="#3a3a3a" stroke-width="1.0" stroke-opacity="0.75"/>
<path d="M540.7,452.7h6.2M543.8,449.6v6.2" stroke="#3a3a3a" stroke-width="1.0" stroke-opacity="0.75"/>
<path d="M547.6,456.1h6.2M550.7,453.0v6.2" stroke="#3a3a3a" stroke-width="1.0" stroke-opacity="0.75"/>
<path d="M553.4,460.3h6.2M556.5,457.2v6.2" stroke="#3a3a3a" stroke-width="1.0" stroke-opacity="0.75"/>
<path d="M563.8,460.3h6.2M566.9,457.2v6.2" stroke="#3a3a3a" stroke-width="1.0" stroke-opacity="0.75"/>
<path d="M562.6,464.9h6.2M565.7,461.8v6.2" stroke="#3a3a3a" stroke-width="1.0" stroke-opacity="0.75"/>
<path d="M541.9,467.2h6.2M545.0,464.1v6.2" stroke="#3a3a3a" stroke-width="1.0" stroke-opacity="0.75"/>
<path d="M584.5,446.9h6.2M587.6,443.8v6.2" stroke="#3a3a3a" stroke-width="1.0" stroke-opacity="0.75"/>
<path d="M598.3,448.8h6.2M601.4,445.7v6.2" stroke="#3a3a3a" stroke-width="1.0" stroke-opacity="0.75"/>
<path d="M604.1,448.8h6.2M607.2,445.7v6.2" stroke="#3a3a3a" stroke-width="1.0" stroke-opacity="0.75"/>
<path d="M619.1,444.1h6.2M622.2,441.0v6.2" stroke="#3a3a3a" stroke-width="1.0" stroke-opacity="0.75"/>
<path d="M613.3,458.9h6.2M616.4,455.8v6.2" stroke="#3a3a3a" stroke-width="1.0" stroke-opacity="0.75"/>
<path d="M616.8,458.9h6.2M619.9,455.8v6.2" stroke="#3a3a3a" stroke-width="1.0" stroke-opacity="0.75"/>
<path d="M628.3,458.4h6.2M631.4,455.3v6.2" stroke="#3a3a3a" stroke-width="1.0" stroke-opacity="0.75"/>
<path d="M628.3,461.9h6.2M631.4,458.8v6.2" stroke="#3a3a3a" stroke-width="1.0" stroke-opacity="0.75"/>
<path d="M612.2,465.8h6.2M615.3,462.7v6.2" stroke="#3a3a3a" stroke-width="1.0" stroke-opacity="0.75"/>
<path d="M628.3,451.1h6.2M631.4,448.0v6.2" stroke="#3a3a3a" stroke-width="1.0" stroke-opacity="0.75"/>
<path d="M579.9,507.3h6.2M583.0,504.2v6.2" stroke="#3a3a3a" stroke-width="1.0" stroke-opacity="0.75"/>
<path d="M591.4,499.5h6.2M594.5,496.4v6.2" stroke="#3a3a3a" stroke-width="1.0" stroke-opacity="0.75"/>
<path d="M533.8,539.1h6.2M536.9,536.0v6.2" stroke="#3a3a3a" stroke-width="1.0" stroke-opacity="0.75"/>
<path d="M540.7,542.6h6.2M543.8,539.5v6.2" stroke="#3a3a3a" stroke-width="1.0" stroke-opacity="0.75"/>
<path d="M564.9,549.5h6.2M568.0,546.4v6.2" stroke="#3a3a3a" stroke-width="1.0" stroke-opacity="0.75"/>
<path d="M570.7,553.0h6.2M573.8,549.9v6.2" stroke="#3a3a3a" stroke-width="1.0" stroke-opacity="0.75"/>
<path d="M597.9,430.0h6.2M601.0,426.9v6.2" stroke="#3a3a3a" stroke-width="1.0" stroke-opacity="0.75"/>
<path d="M627.9,436.0h6.2M631.0,432.9v6.2" stroke="#3a3a3a" stroke-width="1.0" stroke-opacity="0.75"/>
<path d="M609.9,461.0h6.2M613.0,457.9v6.2" stroke="#3a3a3a" stroke-width="1.0" stroke-opacity="0.75"/>
<path d="M559.4,433.5h6.2M562.5,430.4v6.2" stroke="#3a3a3a" stroke-width="1.0" stroke-opacity="0.75"/>
<path d="M410.4,412.0h6.2M413.5,408.9v6.2" stroke="#3a3a3a" stroke-width="1.0" stroke-opacity="0.75"/>
<path d="M412.9,413.5h6.2M416.0,410.4v6.2" stroke="#3a3a3a" stroke-width="1.0" stroke-opacity="0.75"/>
<path d="M526.8,514.9h10.0M531.8,509.9v10.0" stroke="#777" stroke-width="1.0"/>
<path d="M419.9,417.8h5.6M422.7,415.0v5.6" stroke="#1ab8c4" stroke-width="1.6"/>
<path d="M430.4,422.6h5.6M433.2,419.8v5.6" stroke="#1ab8c4" stroke-width="1.6"/>
<path d="M434.2,424.1h5.6M437.0,421.3v5.6" stroke="#1ab8c4" stroke-width="1.6"/>
<path d="M437.0,425.4h5.6M439.8,422.6v5.6" stroke="#1ab8c4" stroke-width="1.6"/>
<path d="M439.9,426.7h5.6M442.7,423.9v5.6" stroke="#1ab8c4" stroke-width="1.6"/>
<path d="M442.7,427.9h5.6M445.5,425.1v5.6" stroke="#1ab8c4" stroke-width="1.6"/>
<path d="M452.3,435.9h5.6M455.1,433.1v5.6" stroke="#1ab8c4" stroke-width="1.6"/>
<path d="M456.1,437.8h5.6M458.9,435.0v5.6" stroke="#1ab8c4" stroke-width="1.6"/>
<path d="M459.9,434.9h5.6M462.7,432.1v5.6" stroke="#1ab8c4" stroke-width="1.6"/>
<path d="M462.7,437.8h5.6M465.5,435.0v5.6" stroke="#1ab8c4" stroke-width="1.6"/>
<path d="M467.5,440.6h5.6M470.3,437.8v5.6" stroke="#1ab8c4" stroke-width="1.6"/>
<path d="M548.9,413.3h5.6M551.7,410.5v5.6" stroke="#1ab8c4" stroke-width="1.6"/>
<path d="M552.0,415.3h5.6M554.8,412.5v5.6" stroke="#1ab8c4" stroke-width="1.6"/>
<path d="M555.1,414.3h5.6M557.9,411.5v5.6" stroke="#1ab8c4" stroke-width="1.6"/>
<path d="M558.1,416.4h5.6M560.9,413.6v5.6" stroke="#1ab8c4" stroke-width="1.6"/>
<path d="M561.2,417.4h5.6M564.0,414.6v5.6" stroke="#1ab8c4" stroke-width="1.6"/>
<path d="M563.2,415.8h5.6M566.0,413.0v5.6" stroke="#1ab8c4" stroke-width="1.6"/>
<path d="M569.4,416.4h5.6M572.2,413.6v5.6" stroke="#1ab8c4" stroke-width="1.6"/>
<path d="M549.9,417.4h5.6M552.7,414.6v5.6" stroke="#1ab8c4" stroke-width="1.6"/>
<path d="M560.2,419.4h5.6M563.0,416.6v5.6" stroke="#1ab8c4" stroke-width="1.6"/>
<path d="M550.2,459.6h5.6M553.0,456.8v5.6" stroke="#1ab8c4" stroke-width="1.6"/>
<path d="M553.7,458.4h5.6M556.5,455.6v5.6" stroke="#1ab8c4" stroke-width="1.6"/>
<path d="M556.7,461.9h5.6M559.5,459.1v5.6" stroke="#1ab8c4" stroke-width="1.6"/>
<path d="M552.2,460.5h5.6M555.0,457.7v5.6" stroke="#1ab8c4" stroke-width="1.6"/>
<path d="M438.2,426.0h5.6M441.0,423.2v5.6" stroke="#1ab8c4" stroke-width="1.6"/>
<path d="M433.2,423.5h5.6M436.0,420.7v5.6" stroke="#1ab8c4" stroke-width="1.6"/>
<path d="M591.4,500.4h6.2M594.5,497.3v6.2" stroke="#ff1a1a" stroke-width="1.4"/>
<path d="M556.4,514.9h6.2M559.5,511.8v6.2" stroke="#ff1a1a" stroke-width="1.4"/>
<path d="M537.2,538.7h6.2M540.3,535.6v6.2" stroke="#ff1a1a" stroke-width="1.4"/>
<path d="M544.2,539.1h6.2M547.3,536.0v6.2" stroke="#ff1a1a" stroke-width="1.4"/>
<path d="M564.5,544.2h6.2M567.6,541.1v6.2" stroke="#ff1a1a" stroke-width="1.4"/>
</g>
<text x="425.5" y="441.6" font-size="16.5" fill="#1ab8c4">h</text>
<text x="454.1" y="459.7" font-size="16.5" fill="#1ab8c4">l</text>
<text x="551.7" y="404" font-size="16.5" fill="#1ab8c4">j</text>
<text x="550.9" y="481.5" font-size="16.5" fill="#1ab8c4">o</text>
<text x="569.3" y="532.2" font-size="16.5" fill="#ff1a1a">s</text>
<polyline points="127.4,666.8 143,668.5 160.5,671.1 185.9,671.1" fill="none" stroke="#f5c800" stroke-width="1.8"/>
<polyline points="127.4,697.6 186.5,701.1" fill="none" stroke="#f5c800" stroke-width="1.8"/>
<polyline points="206.6,673.1 214.7,674.6" fill="none" stroke="#f5c800" stroke-width="1.8"/>
<polyline points="206.6,686.1 214.7,689.9" fill="none" stroke="#f5c800" stroke-width="1.8"/>
<polyline points="228.2,673.7 252.7,671.7 272.9,670.3 290,671.1 307.3,669.7 336.1,668.8 356.3,668 373.6,668.8 390.9,666.8 411,668 422.6,671.1 439.9,670.3 457.3,671.7 474.6,668.8 497.6,667.4 520.7,666.8 538,665.9 545.2,672.6" fill="none" stroke="#f5c800" stroke-width="1.8"/>
<polyline points="228.2,689.9 247,687.6 272.9,686.1 290,686.7 313,684.7 330.3,683.8 344.8,686.1 376.5,686.7 393.7,687.8 416.8,689 431.2,691.9 451.5,693.3 468.8,691.9 486.1,691.9 500.5,689 509.2,690.4 523.6,694.8 545.2,700.5" fill="none" stroke="#f5c800" stroke-width="1.8"/>
<g fill="none" stroke="#222" stroke-width="0.9" stroke-opacity="0.75">
<path d="M131.2,665.9h3.2M132.8,664.3v3.2"/>
<path d="M132.1,668.7h3.2M133.7,667.1v3.2"/>
<path d="M128.4,674.4h3.2M130.0,672.8v3.2"/>
<path d="M140.6,671.5h3.2M142.2,669.9v3.2"/>
<path d="M149.9,671.5h3.2M151.5,669.9v3.2"/>
<path d="M160.2,672.1h3.2M161.8,670.5v3.2"/>
<path d="M167.7,669.7h3.2M169.3,668.1v3.2"/>
<path d="M172.4,673.4h3.2M174.0,671.8v3.2"/>
<path d="M193.0,672.5h3.2M194.6,670.9v3.2"/>
<path d="M106.8,675.3h3.2M108.4,673.7v3.2"/>
<path d="M137.7,681.8h3.2M139.3,680.2v3.2"/>
<path d="M144.3,683.3h3.2M145.9,681.7v3.2"/>
<path d="M154.6,680.9h3.2M156.2,679.3v3.2"/>
<path d="M158.4,681.8h3.2M160.0,680.2v3.2"/>
<path d="M167.7,680.0h3.2M169.3,678.4v3.2"/>
<path d="M173.3,679.0h3.2M174.9,677.4v3.2"/>
<path d="M177.1,678.1h3.2M178.7,676.5v3.2"/>
<path d="M181.8,679.0h3.2M183.4,677.4v3.2"/>
<path d="M184.6,677.7h3.2M186.2,676.1v3.2"/>
<path d="M190.2,676.2h3.2M191.8,674.6v3.2"/>
<path d="M192.1,678.1h3.2M193.7,676.5v3.2"/>
<path d="M195.8,679.0h3.2M197.4,677.4v3.2"/>
<path d="M201.4,680.9h3.2M203.0,679.3v3.2"/>
<path d="M207.1,679.0h3.2M208.7,677.4v3.2"/>
<path d="M216.4,680.0h3.2M218.0,678.4v3.2"/>
<path d="M135.9,685.6h3.2M137.5,684.0v3.2"/>
<path d="M148.0,682.8h3.2M149.6,681.2v3.2"/>
<path d="M156.5,683.7h3.2M158.1,682.1v3.2"/>
<path d="M171.5,684.7h3.2M173.1,683.1v3.2"/>
<path d="M180.8,683.7h3.2M182.4,682.1v3.2"/>
<path d="M188.3,683.3h3.2M189.9,681.7v3.2"/>
<path d="M175.2,689.3h3.2M176.8,687.7v3.2"/>
<path d="M179.0,688.4h3.2M180.6,686.8v3.2"/>
<path d="M189.3,689.3h3.2M190.9,687.7v3.2"/>
<path d="M163.0,688.4h3.2M164.6,686.8v3.2"/>
<path d="M158.4,690.3h3.2M160.0,688.7v3.2"/>
<path d="M148.0,695.0h3.2M149.6,693.4v3.2"/>
<path d="M148.9,695.0h3.2M150.5,693.4v3.2"/>
<path d="M164.9,695.0h3.2M166.5,693.4v3.2"/>
<path d="M170.5,695.9h3.2M172.1,694.3v3.2"/>
<path d="M186.4,702.5h3.2M188.0,700.9v3.2"/>
<path d="M168.7,698.7h3.2M170.3,697.1v3.2"/>
<path d="M127.4,711.8h3.2M129.0,710.2v3.2"/>
<path d="M131.2,718.4h3.2M132.8,716.8v3.2"/>
<path d="M154.6,718.4h3.2M156.2,716.8v3.2"/>
<path d="M159.3,718.9h3.2M160.9,717.3v3.2"/>
<path d="M164.0,718.4h3.2M165.6,716.8v3.2"/>
<path d="M129.4,674.0h3.2M131.0,672.4v3.2"/>
<path d="M130.4,674.5h3.2M132.0,672.9v3.2"/>
<path d="M534.7,685.7h3.2M536.3,684.1v3.2"/>
<path d="M541.8,685.7h3.2M543.4,684.1v3.2"/>
<path d="M551.3,678.2h3.2M552.9,676.6v3.2"/>
<path d="M560.7,679.8h3.2M562.3,678.2v3.2"/>
<path d="M563.1,682.2h3.2M564.7,680.6v3.2"/>
<path d="M546.5,689.3h3.2M548.1,687.7v3.2"/>
<path d="M556.0,690.4h3.2M557.6,688.8v3.2"/>
<path d="M563.1,691.6h3.2M564.7,690.0v3.2"/>
<path d="M570.2,695.2h3.2M571.8,693.6v3.2"/>
<path d="M579.6,696.4h3.2M581.2,694.8v3.2"/>
<path d="M583.2,699.9h3.2M584.8,698.3v3.2"/>
<path d="M570.2,690.4h3.2M571.8,688.8v3.2"/>
<path d="M525.3,691.6h3.2M526.9,690.0v3.2"/>
<path d="M530.0,692.8h3.2M531.6,691.2v3.2"/>
<path d="M541.8,697.5h3.2M543.4,695.9v3.2"/>
<path d="M546.5,698.7h3.2M548.1,697.1v3.2"/>
<path d="M551.3,698.7h3.2M552.9,697.1v3.2"/>
<path d="M556.0,699.9h3.2M557.6,698.3v3.2"/>
<path d="M481.6,658.5h3.2M483.2,656.9v3.2"/>
<path d="M588.3,704.8h3.2M589.9,703.2v3.2"/>
<path d="M572.4,693.0h3.2M574.0,691.4v3.2"/>
<path d="M577.4,694.5h3.2M579.0,692.9v3.2"/>
<path d="M473.0,742.3h3.2M474.6,740.7v3.2"/>
<path d="M474.4,748.1h3.2M476.0,746.5v3.2"/>
<path d="M475.9,749.5h3.2M477.5,747.9v3.2"/>
<path d="M475.9,762.5h3.2M477.5,760.9v3.2"/>
<path d="M475.9,765.4h3.2M477.5,763.8v3.2"/>
<path d="M451.4,740.9h3.2M453.0,739.3v3.2"/>
<path d="M439.8,720.7h3.2M441.4,719.1v3.2"/>
<path d="M439.8,729.3h3.2M441.4,727.7v3.2"/>
<path d="M457.1,729.3h3.2M458.7,727.7v3.2"/>
<path d="M473.4,745.0h3.2M475.0,743.4v3.2"/>
<path d="M474.9,760.0h3.2M476.5,758.4v3.2"/>
<path d="M288.4,697.0h3.2M290.0,695.4v3.2"/>
<path d="M305.4,666.5h3.2M307.0,664.9v3.2"/>
<path d="M318.4,669.0h3.2M320.0,667.4v3.2"/>
<path d="M310.4,690.0h3.2M312.0,688.4v3.2"/>
<path d="M328.4,690.0h3.2M330.0,688.4v3.2"/>
<path d="M348.4,692.0h3.2M350.0,690.4v3.2"/>
<path d="M358.4,667.0h3.2M360.0,665.4v3.2"/>
<path d="M396.4,691.0h3.2M398.0,689.4v3.2"/>
<path d="M413.4,690.0h3.2M415.0,688.4v3.2"/>
<path d="M428.4,694.0h3.2M430.0,692.4v3.2"/>
<path d="M402.4,667.0h3.2M404.0,665.4v3.2"/>
<path d="M443.4,668.0h3.2M445.0,666.4v3.2"/>
<path d="M453.4,666.0h3.2M455.0,664.4v3.2"/>
<path d="M247.4,685.9h3.2M249.0,684.3v3.2"/>
<path d="M252.4,685.7h3.2M254.0,684.1v3.2"/>
<path d="M221.4,680.7h3.2M223.0,679.1v3.2"/>
<path d="M236.2,690.5h3.2M237.8,688.9v3.2"/>
<path d="M251.0,673.2h3.2M252.6,671.6v3.2"/>
<path d="M224.2,682.5h3.2M225.8,680.9v3.2"/>
<path d="M238.9,683.7h3.2M240.5,682.1v3.2"/>
<path d="M239.9,679.3h3.2M241.5,677.7v3.2"/>
<path d="M229.9,676.5h3.2M231.5,674.9v3.2"/>
<path d="M251.6,679.7h3.2M253.2,678.1v3.2"/>
<path d="M247.5,679.7h3.2M249.1,678.1v3.2"/>
<path d="M225.1,682.9h3.2M226.7,681.3v3.2"/>
<path d="M220.5,681.9h3.2M222.1,680.3v3.2"/>
<path d="M250.0,681.7h3.2M251.6,680.1v3.2"/>
<path d="M287.8,678.4h3.2M289.4,676.8v3.2"/>
<path d="M284.1,676.1h3.2M285.7,674.5v3.2"/>
<path d="M272.7,682.1h3.2M274.3,680.5v3.2"/>
<path d="M277.4,669.5h3.2M279.0,667.9v3.2"/>
<path d="M277.9,676.2h3.2M279.5,674.6v3.2"/>
<path d="M287.3,669.5h3.2M288.9,667.9v3.2"/>
<path d="M266.7,676.2h3.2M268.3,674.6v3.2"/>
<path d="M260.0,681.7h3.2M261.6,680.1v3.2"/>
<path d="M264.6,678.2h3.2M266.2,676.6v3.2"/>
<path d="M274.9,677.9h3.2M276.5,676.3v3.2"/>
<path d="M265.9,672.3h3.2M267.5,670.7v3.2"/>
<path d="M264.9,679.1h3.2M266.5,677.5v3.2"/>
<path d="M265.1,677.0h3.2M266.7,675.4v3.2"/>
<path d="M270.8,684.1h3.2M272.4,682.5v3.2"/>
<path d="M287.6,679.7h3.2M289.2,678.1v3.2"/>
<path d="M255.2,680.8h3.2M256.8,679.2v3.2"/>
<path d="M255.0,679.3h3.2M256.6,677.7v3.2"/>
<path d="M281.2,688.2h3.2M282.8,686.6v3.2"/>
<path d="M254.7,683.3h3.2M256.3,681.7v3.2"/>
<path d="M256.0,674.7h3.2M257.6,673.1v3.2"/>
<path d="M261.1,674.4h3.2M262.7,672.8v3.2"/>
<path d="M280.1,669.5h3.2M281.7,667.9v3.2"/>
<path d="M266.1,669.5h3.2M267.7,667.9v3.2"/>
<path d="M266.5,684.0h3.2M268.1,682.4v3.2"/>
<path d="M258.1,687.2h3.2M259.7,685.6v3.2"/>
<path d="M279.8,680.5h3.2M281.4,678.9v3.2"/>
<path d="M255.6,676.6h3.2M257.2,675.0v3.2"/>
<path d="M286.6,688.0h3.2M288.2,686.4v3.2"/>
<path d="M275.2,675.7h3.2M276.8,674.1v3.2"/>
<path d="M285.6,677.0h3.2M287.2,675.4v3.2"/>
<path d="M310.2,686.1h3.2M311.8,684.5v3.2"/>
<path d="M300.9,670.4h3.2M302.5,668.8v3.2"/>
<path d="M291.5,681.3h3.2M293.1,679.7v3.2"/>
<path d="M294.4,677.2h3.2M296.0,675.6v3.2"/>
<path d="M294.9,686.3h3.2M296.5,684.7v3.2"/>
<path d="M290.3,690.5h3.2M291.9,688.9v3.2"/>
<path d="M304.6,673.9h3.2M306.2,672.3v3.2"/>
<path d="M297.9,680.5h3.2M299.5,678.9v3.2"/>
<path d="M306.6,687.8h3.2M308.2,686.2v3.2"/>
<path d="M305.3,685.2h3.2M306.9,683.6v3.2"/>
<path d="M289.7,669.6h3.2M291.3,668.0v3.2"/>
<path d="M308.1,676.2h3.2M309.7,674.6v3.2"/>
<path d="M317.7,678.6h3.2M319.3,677.0v3.2"/>
<path d="M326.4,682.2h3.2M328.0,680.6v3.2"/>
<path d="M292.7,686.0h3.2M294.3,684.4v3.2"/>
<path d="M305.8,686.4h3.2M307.4,684.8v3.2"/>
<path d="M300.2,674.3h3.2M301.8,672.7v3.2"/>
<path d="M306.5,672.2h3.2M308.1,670.6v3.2"/>
<path d="M327.4,670.2h3.2M329.0,668.6v3.2"/>
<path d="M306.5,680.0h3.2M308.1,678.4v3.2"/>
<path d="M307.6,688.0h3.2M309.2,686.4v3.2"/>
<path d="M300.0,679.4h3.2M301.6,677.8v3.2"/>
<path d="M303.5,682.3h3.2M305.1,680.7v3.2"/>
<path d="M327.9,678.4h3.2M329.5,676.8v3.2"/>
<path d="M308.4,673.2h3.2M310.0,671.6v3.2"/>
<path d="M301.9,681.8h3.2M303.5,680.2v3.2"/>
<path d="M319.7,676.6h3.2M321.3,675.0v3.2"/>
<path d="M323.1,677.9h3.2M324.7,676.3v3.2"/>
<path d="M319.4,685.6h3.2M321.0,684.0v3.2"/>
<path d="M316.2,673.3h3.2M317.8,671.7v3.2"/>
<path d="M302.9,684.3h3.2M304.5,682.7v3.2"/>
<path d="M316.6,687.2h3.2M318.2,685.6v3.2"/>
<path d="M319.2,681.1h3.2M320.8,679.5v3.2"/>
<path d="M316.0,674.4h3.2M317.6,672.8v3.2"/>
<path d="M314.4,683.3h3.2M316.0,681.7v3.2"/>
<path d="M311.6,669.5h3.2M313.2,667.9v3.2"/>
<path d="M298.4,673.7h3.2M300.0,672.1v3.2"/>
<path d="M315.3,679.5h3.2M316.9,677.9v3.2"/>
<path d="M314.3,688.9h3.2M315.9,687.3v3.2"/>
<path d="M320.3,677.9h3.2M321.9,676.3v3.2"/>
<path d="M317.9,684.1h3.2M319.5,682.5v3.2"/>
<path d="M321.5,674.1h3.2M323.1,672.5v3.2"/>
<path d="M323.2,685.6h3.2M324.8,684.0v3.2"/>
<path d="M315.9,672.2h3.2M317.5,670.6v3.2"/>
<path d="M309.1,669.5h3.2M310.7,667.9v3.2"/>
<path d="M309.6,681.9h3.2M311.2,680.3v3.2"/>
<path d="M325.9,675.2h3.2M327.5,673.6v3.2"/>
<path d="M307.5,671.8h3.2M309.1,670.2v3.2"/>
<path d="M317.6,682.9h3.2M319.2,681.3v3.2"/>
<path d="M295.3,687.4h3.2M296.9,685.8v3.2"/>
<path d="M315.0,678.8h3.2M316.6,677.2v3.2"/>
<path d="M305.2,686.5h3.2M306.8,684.9v3.2"/>
<path d="M313.9,686.1h3.2M315.5,684.5v3.2"/>
<path d="M317.2,686.0h3.2M318.8,684.4v3.2"/>
<path d="M306.0,677.1h3.2M307.6,675.5v3.2"/>
<path d="M314.4,679.5h3.2M316.0,677.9v3.2"/>
<path d="M313.6,678.5h3.2M315.2,676.9v3.2"/>
<path d="M290.1,672.5h3.2M291.7,670.9v3.2"/>
<path d="M290.6,683.5h3.2M292.2,681.9v3.2"/>
<path d="M293.7,679.4h3.2M295.3,677.8v3.2"/>
<path d="M338.1,681.7h3.2M339.7,680.1v3.2"/>
<path d="M330.2,677.1h3.2M331.8,675.5v3.2"/>
<path d="M359.0,685.6h3.2M360.6,684.0v3.2"/>
<path d="M357.9,679.1h3.2M359.5,677.5v3.2"/>
<path d="M328.4,679.4h3.2M330.0,677.8v3.2"/>
<path d="M348.7,668.6h3.2M350.3,667.0v3.2"/>
<path d="M334.2,681.3h3.2M335.8,679.7v3.2"/>
<path d="M370.0,674.7h3.2M371.6,673.1v3.2"/>
<path d="M359.1,681.4h3.2M360.7,679.8v3.2"/>
<path d="M333.1,679.2h3.2M334.7,677.6v3.2"/>
<path d="M357.4,685.2h3.2M359.0,683.6v3.2"/>
<path d="M376.3,681.7h3.2M377.9,680.1v3.2"/>
<path d="M369.0,677.9h3.2M370.6,676.3v3.2"/>
<path d="M360.5,685.6h3.2M362.1,684.0v3.2"/>
<path d="M358.2,682.4h3.2M359.8,680.8v3.2"/>
<path d="M356.6,678.0h3.2M358.2,676.4v3.2"/>
<path d="M358.8,668.6h3.2M360.4,667.0v3.2"/>
<path d="M346.0,684.2h3.2M347.6,682.6v3.2"/>
<path d="M333.8,680.1h3.2M335.4,678.5v3.2"/>
<path d="M356.7,680.4h3.2M358.3,678.8v3.2"/>
<path d="M359.9,682.6h3.2M361.5,681.0v3.2"/>
<path d="M373.0,682.3h3.2M374.6,680.7v3.2"/>
<path d="M339.7,684.5h3.2M341.3,682.9v3.2"/>
<path d="M343.0,676.1h3.2M344.6,674.5v3.2"/>
<path d="M376.5,674.9h3.2M378.1,673.3v3.2"/>
<path d="M374.1,681.2h3.2M375.7,679.6v3.2"/>
<path d="M377.4,683.9h3.2M379.0,682.3v3.2"/>
<path d="M353.2,682.7h3.2M354.8,681.1v3.2"/>
<path d="M377.6,684.5h3.2M379.2,682.9v3.2"/>
<path d="M353.0,677.8h3.2M354.6,676.2v3.2"/>
<path d="M334.5,681.7h3.2M336.1,680.1v3.2"/>
<path d="M359.5,674.1h3.2M361.1,672.5v3.2"/>
<path d="M367.5,684.6h3.2M369.1,683.0v3.2"/>
<path d="M369.7,678.7h3.2M371.3,677.1v3.2"/>
<path d="M342.1,673.5h3.2M343.7,671.9v3.2"/>
<path d="M375.2,679.7h3.2M376.8,678.1v3.2"/>
<path d="M341.8,679.5h3.2M343.4,677.9v3.2"/>
<path d="M336.1,684.4h3.2M337.7,682.8v3.2"/>
<path d="M358.8,675.7h3.2M360.4,674.1v3.2"/>
<path d="M352.1,680.6h3.2M353.7,679.0v3.2"/>
<path d="M365.6,684.9h3.2M367.2,683.3v3.2"/>
<path d="M334.3,686.3h3.2M335.9,684.7v3.2"/>
<path d="M355.1,680.0h3.2M356.7,678.4v3.2"/>
<path d="M345.2,685.0h3.2M346.8,683.4v3.2"/>
<path d="M351.6,682.3h3.2M353.2,680.7v3.2"/>
<path d="M346.5,673.8h3.2M348.1,672.2v3.2"/>
<path d="M330.2,680.5h3.2M331.8,678.9v3.2"/>
<path d="M341.0,687.7h3.2M342.6,686.1v3.2"/>
<path d="M372.8,692.0h3.2M374.4,690.4v3.2"/>
<path d="M355.7,676.9h3.2M357.3,675.3v3.2"/>
<path d="M349.8,670.7h3.2M351.4,669.1v3.2"/>
<path d="M357.2,679.4h3.2M358.8,677.8v3.2"/>
<path d="M352.5,682.3h3.2M354.1,680.7v3.2"/>
<path d="M374.0,687.9h3.2M375.6,686.3v3.2"/>
<path d="M371.0,684.5h3.2M372.6,682.9v3.2"/>
<path d="M338.2,676.6h3.2M339.8,675.0v3.2"/>
<path d="M331.7,683.3h3.2M333.3,681.7v3.2"/>
<path d="M370.2,670.3h3.2M371.8,668.7v3.2"/>
<path d="M342.7,682.3h3.2M344.3,680.7v3.2"/>
<path d="M367.4,685.9h3.2M369.0,684.3v3.2"/>
<path d="M352.3,677.7h3.2M353.9,676.1v3.2"/>
<path d="M355.9,681.9h3.2M357.5,680.3v3.2"/>
<path d="M336.1,685.3h3.2M337.7,683.7v3.2"/>
<path d="M357.7,680.2h3.2M359.3,678.6v3.2"/>
<path d="M339.9,679.5h3.2M341.5,677.9v3.2"/>
<path d="M369.4,682.2h3.2M371.0,680.6v3.2"/>
<path d="M329.7,678.2h3.2M331.3,676.6v3.2"/>
<path d="M364.5,688.2h3.2M366.1,686.6v3.2"/>
<path d="M363.5,668.6h3.2M365.1,667.0v3.2"/>
<path d="M330.8,683.0h3.2M332.4,681.4v3.2"/>
<path d="M360.7,678.2h3.2M362.3,676.6v3.2"/>
<path d="M376.0,683.6h3.2M377.6,682.0v3.2"/>
<path d="M343.0,681.0h3.2M344.6,679.4v3.2"/>
<path d="M374.3,683.2h3.2M375.9,681.6v3.2"/>
<path d="M349.1,675.8h3.2M350.7,674.2v3.2"/>
<path d="M336.5,674.1h3.2M338.1,672.5v3.2"/>
<path d="M333.8,681.5h3.2M335.4,679.9v3.2"/>
<path d="M347.4,681.5h3.2M349.0,679.9v3.2"/>
<path d="M357.2,678.6h3.2M358.8,677.0v3.2"/>
<path d="M365.5,679.5h3.2M367.1,677.9v3.2"/>
<path d="M400.0,677.8h3.2M401.6,676.2v3.2"/>
<path d="M394.1,682.1h3.2M395.7,680.5v3.2"/>
<path d="M425.3,685.3h3.2M426.9,683.7v3.2"/>
<path d="M397.1,683.9h3.2M398.7,682.3v3.2"/>
<path d="M386.0,671.7h3.2M387.6,670.1v3.2"/>
<path d="M410.0,677.0h3.2M411.6,675.4v3.2"/>
<path d="M406.1,692.0h3.2M407.7,690.4v3.2"/>
<path d="M409.4,680.5h3.2M411.0,678.9v3.2"/>
<path d="M391.1,680.6h3.2M392.7,679.0v3.2"/>
<path d="M415.9,672.8h3.2M417.5,671.2v3.2"/>
<path d="M390.1,683.0h3.2M391.7,681.4v3.2"/>
<path d="M397.0,680.3h3.2M398.6,678.7v3.2"/>
<path d="M414.1,680.3h3.2M415.7,678.7v3.2"/>
<path d="M411.2,683.6h3.2M412.8,682.0v3.2"/>
<path d="M383.0,672.7h3.2M384.6,671.1v3.2"/>
<path d="M384.6,675.7h3.2M386.2,674.1v3.2"/>
<path d="M422.2,683.5h3.2M423.8,681.9v3.2"/>
<path d="M402.4,682.3h3.2M404.0,680.7v3.2"/>
<path d="M379.9,684.5h3.2M381.5,682.9v3.2"/>
<path d="M414.7,670.9h3.2M416.3,669.3v3.2"/>
<path d="M426.0,676.9h3.2M427.6,675.3v3.2"/>
<path d="M412.5,678.9h3.2M414.1,677.3v3.2"/>
<path d="M427.0,679.5h3.2M428.6,677.9v3.2"/>
<path d="M411.7,677.2h3.2M413.3,675.6v3.2"/>
<path d="M409.6,678.7h3.2M411.2,677.1v3.2"/>
<path d="M396.1,682.8h3.2M397.7,681.2v3.2"/>
<path d="M409.1,679.5h3.2M410.7,677.9v3.2"/>
<path d="M395.8,674.9h3.2M397.4,673.3v3.2"/>
<path d="M420.0,682.3h3.2M421.6,680.7v3.2"/>
<path d="M410.8,678.0h3.2M412.4,676.4v3.2"/>
<path d="M421.0,678.0h3.2M422.6,676.4v3.2"/>
<path d="M404.3,685.7h3.2M405.9,684.1v3.2"/>
<path d="M415.4,686.2h3.2M417.0,684.6v3.2"/>
<path d="M398.2,684.1h3.2M399.8,682.5v3.2"/>
<path d="M388.5,678.8h3.2M390.1,677.2v3.2"/>
<path d="M380.4,679.2h3.2M382.0,677.6v3.2"/>
<path d="M416.4,675.0h3.2M418.0,673.4v3.2"/>
<path d="M378.4,684.2h3.2M380.0,682.6v3.2"/>
<path d="M409.4,691.8h3.2M411.0,690.2v3.2"/>
<path d="M399.8,677.8h3.2M401.4,676.2v3.2"/>
<path d="M386.1,682.6h3.2M387.7,681.0v3.2"/>
<path d="M386.4,679.4h3.2M388.0,677.8v3.2"/>
<path d="M422.4,684.0h3.2M424.0,682.4v3.2"/>
<path d="M386.0,676.0h3.2M387.6,674.4v3.2"/>
<path d="M386.5,680.1h3.2M388.1,678.5v3.2"/>
<path d="M392.8,675.4h3.2M394.4,673.8v3.2"/>
<path d="M380.0,679.4h3.2M381.6,677.8v3.2"/>
<path d="M424.6,673.5h3.2M426.2,671.9v3.2"/>
<path d="M412.8,689.1h3.2M414.4,687.5v3.2"/>
<path d="M412.1,670.1h3.2M413.7,668.5v3.2"/>
<path d="M384.3,692.0h3.2M385.9,690.4v3.2"/>
<path d="M411.8,677.6h3.2M413.4,676.0v3.2"/>
<path d="M414.9,682.2h3.2M416.5,680.6v3.2"/>
<path d="M386.6,671.7h3.2M388.2,670.1v3.2"/>
<path d="M389.9,679.6h3.2M391.5,678.0v3.2"/>
<path d="M382.3,678.8h3.2M383.9,677.2v3.2"/>
<path d="M396.6,692.0h3.2M398.2,690.4v3.2"/>
<path d="M394.0,671.0h3.2M395.6,669.4v3.2"/>
<path d="M415.0,684.6h3.2M416.6,683.0v3.2"/>
<path d="M414.3,679.1h3.2M415.9,677.5v3.2"/>
<path d="M412.0,677.8h3.2M413.6,676.2v3.2"/>
<path d="M425.4,676.4h3.2M427.0,674.8v3.2"/>
<path d="M427.2,683.7h3.2M428.8,682.1v3.2"/>
<path d="M378.7,684.8h3.2M380.3,683.2v3.2"/>
<path d="M398.9,670.8h3.2M400.5,669.2v3.2"/>
<path d="M380.6,676.3h3.2M382.2,674.7v3.2"/>
<path d="M404.3,692.0h3.2M405.9,690.4v3.2"/>
<path d="M395.9,685.2h3.2M397.5,683.6v3.2"/>
<path d="M423.3,678.2h3.2M424.9,676.6v3.2"/>
<path d="M403.0,678.8h3.2M404.6,677.2v3.2"/>
<path d="M390.6,678.3h3.2M392.2,676.7v3.2"/>
<path d="M380.9,680.7h3.2M382.5,679.1v3.2"/>
<path d="M391.2,681.6h3.2M392.8,680.0v3.2"/>
<path d="M398.8,678.8h3.2M400.4,677.2v3.2"/>
<path d="M380.3,680.6h3.2M381.9,679.0v3.2"/>
<path d="M427.0,678.3h3.2M428.6,676.7v3.2"/>
<path d="M398.5,677.1h3.2M400.1,675.5v3.2"/>
<path d="M405.0,673.9h3.2M406.6,672.3v3.2"/>
<path d="M383.8,675.7h3.2M385.4,674.1v3.2"/>
<path d="M405.5,677.5h3.2M407.1,675.9v3.2"/>
<path d="M421.2,673.2h3.2M422.8,671.6v3.2"/>
<path d="M389.1,683.7h3.2M390.7,682.1v3.2"/>
<path d="M402.7,672.9h3.2M404.3,671.3v3.2"/>
<path d="M407.0,679.2h3.2M408.6,677.6v3.2"/>
<path d="M414.7,685.7h3.2M416.3,684.1v3.2"/>
<path d="M424.0,674.4h3.2M425.6,672.8v3.2"/>
<path d="M419.7,682.2h3.2M421.3,680.6v3.2"/>
<path d="M389.6,674.2h3.2M391.2,672.6v3.2"/>
<path d="M382.8,676.3h3.2M384.4,674.7v3.2"/>
<path d="M417.0,676.7h3.2M418.6,675.1v3.2"/>
<path d="M384.9,677.9h3.2M386.5,676.3v3.2"/>
<path d="M382.5,684.5h3.2M384.1,682.9v3.2"/>
<path d="M399.8,679.9h3.2M401.4,678.3v3.2"/>
<path d="M407.2,677.6h3.2M408.8,676.0v3.2"/>
<path d="M413.4,679.9h3.2M415.0,678.3v3.2"/>
<path d="M429.3,680.2h3.2M430.9,678.6v3.2"/>
<path d="M435.1,680.6h3.2M436.7,679.0v3.2"/>
<path d="M430.2,678.7h3.2M431.8,677.1v3.2"/>
<path d="M441.9,684.2h3.2M443.5,682.6v3.2"/>
<path d="M438.4,680.0h3.2M440.0,678.4v3.2"/>
<path d="M442.1,677.4h3.2M443.7,675.8v3.2"/>
<path d="M438.7,684.7h3.2M440.3,683.1v3.2"/>
<path d="M440.2,687.6h3.2M441.8,686.0v3.2"/>
<path d="M445.6,679.2h3.2M447.2,677.6v3.2"/>
<path d="M433.2,682.3h3.2M434.8,680.7v3.2"/>
<path d="M443.0,687.0h3.2M444.6,685.4v3.2"/>
<path d="M429.6,682.9h3.2M431.2,681.3v3.2"/>
<path d="M431.4,680.2h3.2M433.0,678.6v3.2"/>
<path d="M433.5,681.9h3.2M435.1,680.3v3.2"/>
<path d="M429.5,676.2h3.2M431.1,674.6v3.2"/>
<path d="M428.9,681.1h3.2M430.5,679.5v3.2"/>
<path d="M429.3,686.0h3.2M430.9,684.4v3.2"/>
<path d="M443.9,679.2h3.2M445.5,677.6v3.2"/>
<path d="M445.5,679.1h3.2M447.1,677.5v3.2"/>
<path d="M436.1,683.5h3.2M437.7,681.9v3.2"/>
<path d="M434.9,683.2h3.2M436.5,681.6v3.2"/>
<path d="M438.9,681.8h3.2M440.5,680.2v3.2"/>
<path d="M443.3,681.0h3.2M444.9,679.4v3.2"/>
<path d="M437.9,681.7h3.2M439.5,680.1v3.2"/>
<path d="M431.5,683.1h3.2M433.1,681.5v3.2"/>
<path d="M445.3,682.5h3.2M446.9,680.9v3.2"/>
<path d="M442.7,685.2h3.2M444.3,683.6v3.2"/>
<path d="M444.9,679.2h3.2M446.5,677.6v3.2"/>
<path d="M436.7,679.4h3.2M438.3,677.8v3.2"/>
<path d="M442.2,685.0h3.2M443.8,683.4v3.2"/>
<path d="M445.3,680.0h3.2M446.9,678.4v3.2"/>
<path d="M439.1,689.0h3.2M440.7,687.4v3.2"/>
<path d="M430.3,683.4h3.2M431.9,681.8v3.2"/>
<path d="M429.3,680.0h3.2M430.9,678.4v3.2"/>
<path d="M446.0,684.9h3.2M447.6,683.3v3.2"/>
<path d="M437.1,676.9h3.2M438.7,675.3v3.2"/>
<path d="M444.3,680.5h3.2M445.9,678.9v3.2"/>
<path d="M433.4,683.4h3.2M435.0,681.8v3.2"/>
<path d="M432.0,679.9h3.2M433.6,678.3v3.2"/>
<path d="M441.9,684.6h3.2M443.5,683.0v3.2"/>
<path d="M432.7,682.8h3.2M434.3,681.2v3.2"/>
<path d="M446.1,683.1h3.2M447.7,681.5v3.2"/>
<path d="M443.5,679.3h3.2M445.1,677.7v3.2"/>
<path d="M435.6,678.6h3.2M437.2,677.0v3.2"/>
<path d="M431.0,685.5h3.2M432.6,683.9v3.2"/>
<path d="M448.0,676.6h3.2M449.6,675.0v3.2"/>
<path d="M453.5,683.9h3.2M455.1,682.3v3.2"/>
<path d="M484.2,673.3h3.2M485.8,671.7v3.2"/>
<path d="M454.8,675.0h3.2M456.4,673.4v3.2"/>
<path d="M475.1,678.1h3.2M476.7,676.5v3.2"/>
<path d="M482.7,683.2h3.2M484.3,681.6v3.2"/>
<path d="M462.2,685.2h3.2M463.8,683.6v3.2"/>
<path d="M446.8,685.1h3.2M448.4,683.5v3.2"/>
<path d="M454.2,685.4h3.2M455.8,683.8v3.2"/>
<path d="M462.7,679.7h3.2M464.3,678.1v3.2"/>
<path d="M459.5,679.7h3.2M461.1,678.1v3.2"/>
<path d="M462.5,678.3h3.2M464.1,676.7v3.2"/>
<path d="M463.2,686.4h3.2M464.8,684.8v3.2"/>
<path d="M487.7,678.2h3.2M489.3,676.6v3.2"/>
<path d="M475.5,675.0h3.2M477.1,673.4v3.2"/>
<path d="M474.5,688.9h3.2M476.1,687.3v3.2"/>
<path d="M461.6,687.3h3.2M463.2,685.7v3.2"/>
<path d="M471.3,681.1h3.2M472.9,679.5v3.2"/>
<path d="M458.3,681.7h3.2M459.9,680.1v3.2"/>
<path d="M449.7,684.3h3.2M451.3,682.7v3.2"/>
<path d="M470.8,675.5h3.2M472.4,673.9v3.2"/>
<path d="M478.3,677.0h3.2M479.9,675.4v3.2"/>
<path d="M485.4,680.1h3.2M487.0,678.5v3.2"/>
<path d="M457.9,683.1h3.2M459.5,681.5v3.2"/>
<path d="M478.0,679.6h3.2M479.6,678.0v3.2"/>
<path d="M474.5,681.0h3.2M476.1,679.4v3.2"/>
<path d="M475.3,669.7h3.2M476.9,668.1v3.2"/>
<path d="M481.6,681.9h3.2M483.2,680.3v3.2"/>
<path d="M455.2,679.7h3.2M456.8,678.1v3.2"/>
<path d="M468.1,685.6h3.2M469.7,684.0v3.2"/>
<path d="M487.3,676.5h3.2M488.9,674.9v3.2"/>
<path d="M469.2,681.3h3.2M470.8,679.7v3.2"/>
<path d="M462.8,679.5h3.2M464.4,677.9v3.2"/>
<path d="M453.9,679.0h3.2M455.5,677.4v3.2"/>
<path d="M484.6,684.9h3.2M486.2,683.3v3.2"/>
<path d="M472.2,687.4h3.2M473.8,685.8v3.2"/>
<path d="M475.3,680.9h3.2M476.9,679.3v3.2"/>
<path d="M469.6,677.8h3.2M471.2,676.2v3.2"/>
<path d="M483.6,680.2h3.2M485.2,678.6v3.2"/>
<path d="M455.3,683.6h3.2M456.9,682.0v3.2"/>
<path d="M472.5,680.5h3.2M474.1,678.9v3.2"/>
<path d="M484.1,675.8h3.2M485.7,674.2v3.2"/>
<path d="M478.6,676.0h3.2M480.2,674.4v3.2"/>
<path d="M455.8,673.6h3.2M457.4,672.0v3.2"/>
<path d="M481.3,673.7h3.2M482.9,672.1v3.2"/>
<path d="M483.3,677.0h3.2M484.9,675.4v3.2"/>
<path d="M464.3,679.9h3.2M465.9,678.3v3.2"/>
<path d="M468.6,684.0h3.2M470.2,682.4v3.2"/>
<path d="M458.2,676.0h3.2M459.8,674.4v3.2"/>
<path d="M471.8,681.5h3.2M473.4,679.9v3.2"/>
<path d="M447.7,676.3h3.2M449.3,674.7v3.2"/>
<path d="M451.3,679.9h3.2M452.9,678.3v3.2"/>
<path d="M454.1,685.1h3.2M455.7,683.5v3.2"/>
<path d="M454.4,681.7h3.2M456.0,680.1v3.2"/>
<path d="M475.4,684.8h3.2M477.0,683.2v3.2"/>
<path d="M477.0,683.0h3.2M478.6,681.4v3.2"/>
<path d="M481.5,674.3h3.2M483.1,672.7v3.2"/>
<path d="M486.6,677.2h3.2M488.2,675.6v3.2"/>
<path d="M473.5,683.0h3.2M475.1,681.4v3.2"/>
<path d="M485.3,671.0h3.2M486.9,669.4v3.2"/>
<path d="M481.7,678.3h3.2M483.3,676.7v3.2"/>
<path d="M466.4,672.2h3.2M468.0,670.6v3.2"/>
<path d="M453.0,676.8h3.2M454.6,675.2v3.2"/>
<path d="M450.3,677.5h3.2M451.9,675.9v3.2"/>
<path d="M450.8,675.5h3.2M452.4,673.9v3.2"/>
<path d="M478.2,674.0h3.2M479.8,672.4v3.2"/>
<path d="M480.2,680.0h3.2M481.8,678.4v3.2"/>
<path d="M476.4,687.8h3.2M478.0,686.2v3.2"/>
<path d="M472.7,669.5h3.2M474.3,667.9v3.2"/>
<path d="M486.9,684.6h3.2M488.5,683.0v3.2"/>
<path d="M449.1,677.5h3.2M450.7,675.9v3.2"/>
<path d="M455.1,677.9h3.2M456.7,676.3v3.2"/>
<path d="M475.0,682.9h3.2M476.6,681.3v3.2"/>
<path d="M477.6,675.6h3.2M479.2,674.0v3.2"/>
<path d="M469.2,675.2h3.2M470.8,673.6v3.2"/>
<path d="M462.2,676.9h3.2M463.8,675.3v3.2"/>
<path d="M462.1,674.6h3.2M463.7,673.0v3.2"/>
<path d="M475.1,675.0h3.2M476.7,673.4v3.2"/>
<path d="M486.1,689.0h3.2M487.7,687.4v3.2"/>
<path d="M449.4,678.9h3.2M451.0,677.3v3.2"/>
<path d="M500.2,674.4h3.2M501.8,672.8v3.2"/>
<path d="M493.1,679.9h3.2M494.7,678.3v3.2"/>
<path d="M517.9,677.7h3.2M519.5,676.1v3.2"/>
<path d="M525.1,674.4h3.2M526.7,672.8v3.2"/>
<path d="M508.4,676.7h3.2M510.0,675.1v3.2"/>
<path d="M516.3,673.0h3.2M517.9,671.4v3.2"/>
<path d="M500.2,673.7h3.2M501.8,672.1v3.2"/>
<path d="M501.9,678.8h3.2M503.5,677.2v3.2"/>
<path d="M490.4,672.5h3.2M492.0,670.9v3.2"/>
<path d="M505.2,677.9h3.2M506.8,676.3v3.2"/>
<path d="M491.3,674.4h3.2M492.9,672.8v3.2"/>
<path d="M499.2,670.0h3.2M500.8,668.4v3.2"/>
<path d="M527.8,671.7h3.2M529.4,670.1v3.2"/>
<path d="M510.1,672.7h3.2M511.7,671.1v3.2"/>
<path d="M492.1,680.4h3.2M493.7,678.8v3.2"/>
<path d="M502.6,669.9h3.2M504.2,668.3v3.2"/>
<path d="M519.0,674.6h3.2M520.6,673.0v3.2"/>
<path d="M502.8,675.1h3.2M504.4,673.5v3.2"/>
<path d="M506.7,672.3h3.2M508.3,670.7v3.2"/>
<path d="M503.7,674.5h3.2M505.3,672.9v3.2"/>
<path d="M497.1,675.8h3.2M498.7,674.2v3.2"/>
<path d="M527.4,674.9h3.2M529.0,673.3v3.2"/>
<path d="M491.8,678.2h3.2M493.4,676.6v3.2"/>
<path d="M499.6,673.5h3.2M501.2,671.9v3.2"/>
<path d="M508.7,670.1h3.2M510.3,668.5v3.2"/>
<path d="M490.5,676.1h3.2M492.1,674.5v3.2"/>
<path d="M505.8,679.1h3.2M507.4,677.5v3.2"/>
<path d="M512.1,671.3h3.2M513.7,669.7v3.2"/>
<path d="M513.8,671.0h3.2M515.4,669.4v3.2"/>
<path d="M489.8,677.4h3.2M491.4,675.8v3.2"/>
<path d="M504.9,669.3h3.2M506.5,667.7v3.2"/>
<path d="M523.4,673.9h3.2M525.0,672.3v3.2"/>
<path d="M503.5,671.5h3.2M505.1,669.9v3.2"/>
<path d="M528.4,681.1h3.2M530.0,679.5v3.2"/>
<path d="M494.3,674.5h3.2M495.9,672.9v3.2"/>
<path d="M519.6,681.5h3.2M521.2,679.9v3.2"/>
<path d="M528.2,681.5h3.2M529.8,679.9v3.2"/>
<path d="M497.1,670.7h3.2M498.7,669.1v3.2"/>
<path d="M507.2,677.0h3.2M508.8,675.4v3.2"/>
<path d="M499.9,673.5h3.2M501.5,671.9v3.2"/>
<path d="M495.2,675.6h3.2M496.8,674.0v3.2"/>
<path d="M506.7,676.2h3.2M508.3,674.6v3.2"/>
<path d="M524.3,671.9h3.2M525.9,670.3v3.2"/>
<path d="M523.8,673.4h3.2M525.4,671.8v3.2"/>
<path d="M521.5,674.6h3.2M523.1,673.0v3.2"/>
<path d="M526.8,674.2h3.2M528.4,672.6v3.2"/>
<path d="M497.9,676.2h3.2M499.5,674.6v3.2"/>
<path d="M525.2,675.8h3.2M526.8,674.2v3.2"/>
<path d="M495.8,674.0h3.2M497.4,672.4v3.2"/>
<path d="M505.6,675.1h3.2M507.2,673.5v3.2"/>
<path d="M503.3,675.3h3.2M504.9,673.7v3.2"/>
<path d="M519.4,669.4h3.2M521.0,667.8v3.2"/>
<path d="M527.4,672.5h3.2M529.0,670.9v3.2"/>
<path d="M516.5,671.6h3.2M518.1,670.0v3.2"/>
<path d="M514.1,673.4h3.2M515.7,671.8v3.2"/>
<path d="M503.4,673.9h3.2M505.0,672.3v3.2"/>
<path d="M511.7,677.2h3.2M513.3,675.6v3.2"/>
<path d="M527.0,672.1h3.2M528.6,670.5v3.2"/>
<path d="M498.9,674.5h3.2M500.5,672.9v3.2"/>
<path d="M510.2,670.6h3.2M511.8,669.0v3.2"/>
<path d="M507.6,675.0h3.2M509.2,673.4v3.2"/>
<path d="M516.6,676.5h3.2M518.2,674.9v3.2"/>
<path d="M505.2,669.3h3.2M506.8,667.7v3.2"/>
<path d="M508.6,674.5h3.2M510.2,672.9v3.2"/>
<path d="M490.6,679.1h3.2M492.2,677.5v3.2"/>
<path d="M508.4,678.4h3.2M510.0,676.8v3.2"/>
<path d="M502.2,671.7h3.2M503.8,670.1v3.2"/>
<path d="M489.3,674.0h3.2M490.9,672.4v3.2"/>
<path d="M514.6,675.8h3.2M516.2,674.2v3.2"/>
<path d="M525.4,671.4h3.2M527.0,669.8v3.2"/>
<path d="M516.9,677.5h3.2M518.5,675.9v3.2"/>
<path d="M525.9,671.9h3.2M527.5,670.3v3.2"/>
<path d="M500.5,668.0h3.2M502.1,666.4v3.2"/>
<path d="M495.1,677.7h3.2M496.7,676.1v3.2"/>
<path d="M506.3,673.6h3.2M507.9,672.0v3.2"/>
<path d="M517.8,675.3h3.2M519.4,673.7v3.2"/>
<path d="M525.4,677.9h3.2M527.0,676.3v3.2"/>
<path d="M500.4,675.3h3.2M502.0,673.7v3.2"/>
<path d="M493.9,680.5h3.2M495.5,678.9v3.2"/>
<path d="M502.4,676.7h3.2M504.0,675.1v3.2"/>
<path d="M496.7,688.8h3.2M498.3,687.2v3.2"/>
<path d="M506.6,685.9h3.2M508.2,684.3v3.2"/>
<path d="M502.1,685.1h3.2M503.7,683.5v3.2"/>
<path d="M494.2,685.7h3.2M495.8,684.1v3.2"/>
<path d="M499.4,684.4h3.2M501.0,682.8v3.2"/>
<path d="M519.7,686.3h3.2M521.3,684.7v3.2"/>
<path d="M521.6,686.1h3.2M523.2,684.5v3.2"/>
<path d="M513.4,687.7h3.2M515.0,686.1v3.2"/>
<path d="M498.2,688.3h3.2M499.8,686.7v3.2"/>
<path d="M498.9,684.1h3.2M500.5,682.5v3.2"/>
<path d="M524.3,684.3h3.2M525.9,682.7v3.2"/>
<path d="M495.5,687.6h3.2M497.1,686.0v3.2"/>
<path d="M518.0,685.5h3.2M519.6,683.9v3.2"/>
<path d="M510.8,685.5h3.2M512.4,683.9v3.2"/>
<path d="M521.4,685.4h3.2M523.0,683.8v3.2"/>
<path d="M508.2,686.0h3.2M509.8,684.4v3.2"/>
<path d="M512.0,685.6h3.2M513.6,684.0v3.2"/>
<path d="M493.1,686.4h3.2M494.7,684.8v3.2"/>
<path d="M512.9,686.5h3.2M514.5,684.9v3.2"/>
<path d="M497.3,688.9h3.2M498.9,687.3v3.2"/>
<path d="M491.0,685.0h3.2M492.6,683.4v3.2"/>
<path d="M515.8,686.3h3.2M517.4,684.7v3.2"/>
<path d="M506.8,685.3h3.2M508.4,683.7v3.2"/>
<path d="M514.4,685.6h3.2M516.0,684.0v3.2"/>
<path d="M491.2,683.3h3.2M492.8,681.7v3.2"/>
<path d="M538.0,679.9h3.2M539.6,678.3v3.2"/>
<path d="M539.7,676.2h3.2M541.3,674.6v3.2"/>
<path d="M532.3,678.2h3.2M533.9,676.6v3.2"/>
<path d="M539.8,677.1h3.2M541.4,675.5v3.2"/>
<path d="M536.1,676.9h3.2M537.7,675.3v3.2"/>
<path d="M530.7,674.4h3.2M532.3,672.8v3.2"/>
<path d="M531.6,678.8h3.2M533.2,677.2v3.2"/>
<path d="M531.5,677.6h3.2M533.1,676.0v3.2"/>
</g>
<g fill="none" stroke="#1ab8c4" stroke-width="1.6">
<path d="M138.5,695.9h3.6M140.3,694.1v3.6"/>
<path d="M140.4,695.9h3.6M142.2,694.1v3.6"/>
<path d="M154.4,695.9h3.6M156.2,694.1v3.6"/>
<path d="M157.2,695.9h3.6M159.0,694.1v3.6"/>
<path d="M160.0,695.0h3.6M161.8,693.2v3.6"/>
<path d="M156.3,690.3h3.6M158.1,688.5v3.6"/>
<path d="M160.0,691.2h3.6M161.8,689.4v3.6"/>
<path d="M162.8,690.3h3.6M164.6,688.5v3.6"/>
<path d="M195.6,675.3h3.6M197.4,673.5v3.6"/>
<path d="M198.4,674.4h3.6M200.2,672.6v3.6"/>
<path d="M200.3,673.4h3.6M202.1,671.6v3.6"/>
<path d="M197.5,677.2h3.6M199.3,675.4v3.6"/>
<path d="M226.5,680.0h3.6M228.3,678.2v3.6"/>
<path d="M415.2,681.0h3.6M417.0,679.2v3.6"/>
<path d="M397.2,677.0h3.6M399.0,675.2v3.6"/>
<path d="M400.2,678.0h3.6M402.0,676.2v3.6"/>
<path d="M228.5,679.0h3.6M230.3,677.2v3.6"/>
<path d="M228.3,679.1h3.6M230.1,677.3v3.6"/>
<path d="M242.4,679.8h3.6M244.2,678.0v3.6"/>
<path d="M230.7,678.4h3.6M232.5,676.6v3.6"/>
<path d="M239.0,679.9h3.6M240.8,678.1v3.6"/>
<path d="M237.8,679.5h3.6M239.6,677.7v3.6"/>
<path d="M249.9,678.4h3.6M251.7,676.6v3.6"/>
<path d="M233.2,679.3h3.6M235.0,677.5v3.6"/>
<path d="M240.1,680.4h3.6M241.9,678.6v3.6"/>
<path d="M240.6,679.8h3.6M242.4,678.0v3.6"/>
<path d="M237.1,680.1h3.6M238.9,678.3v3.6"/>
<path d="M247.9,678.8h3.6M249.7,677.0v3.6"/>
<path d="M229.0,678.7h3.6M230.8,676.9v3.6"/>
<path d="M235.5,680.4h3.6M237.3,678.6v3.6"/>
<path d="M233.1,679.7h3.6M234.9,677.9v3.6"/>
<path d="M242.9,680.6h3.6M244.7,678.8v3.6"/>
<path d="M352.6,673.5h3.6M354.4,671.7v3.6"/>
<path d="M361.0,673.2h3.6M362.8,671.4v3.6"/>
<path d="M372.2,681.1h3.6M374.0,679.3v3.6"/>
<path d="M370.3,676.4h3.6M372.1,674.6v3.6"/>
<path d="M385.1,683.5h3.6M386.9,681.7v3.6"/>
<path d="M372.4,680.5h3.6M374.2,678.7v3.6"/>
<path d="M358.1,673.7h3.6M359.9,671.9v3.6"/>
<path d="M360.7,673.1h3.6M362.5,671.3v3.6"/>
<path d="M350.6,672.5h3.6M352.4,670.7v3.6"/>
<path d="M363.8,678.1h3.6M365.6,676.3v3.6"/>
<path d="M350.6,670.4h3.6M352.4,668.6v3.6"/>
<path d="M355.0,675.2h3.6M356.8,673.4v3.6"/>
<path d="M378.2,683.5h3.6M380.0,681.7v3.6"/>
<path d="M367.4,675.6h3.6M369.2,673.8v3.6"/>
<path d="M364.0,675.0h3.6M365.8,673.2v3.6"/>
<path d="M349.2,671.2h3.6M351.0,669.4v3.6"/>
<path d="M359.2,672.6h3.6M361.0,670.8v3.6"/>
<path d="M367.6,679.8h3.6M369.4,678.0v3.6"/>
<path d="M384.1,683.6h3.6M385.9,681.8v3.6"/>
<path d="M352.1,673.3h3.6M353.9,671.5v3.6"/>
<path d="M352.6,672.3h3.6M354.4,670.5v3.6"/>
<path d="M351.4,674.1h3.6M353.2,672.3v3.6"/>
<path d="M368.8,677.8h3.6M370.6,676.0v3.6"/>
<path d="M358.5,674.6h3.6M360.3,672.8v3.6"/>
<path d="M385.2,683.8h3.6M387.0,682.0v3.6"/>
<path d="M356.2,673.5h3.6M358.0,671.7v3.6"/>
</g>
<g fill="none" stroke="#ff1a1a" stroke-width="1.6">
<path d="M147.1,698.7h3.2M148.7,697.1v3.2"/>
<path d="M151.8,708.1h3.2M153.4,706.5v3.2"/>
<path d="M146.2,716.5h3.2M147.8,714.9v3.2"/>
<path d="M148.0,716.5h3.2M149.6,714.9v3.2"/>
<path d="M145.2,717.8h3.2M146.8,716.2v3.2"/>
<path d="M334.4,669.0h3.2M336.0,667.4v3.2"/>
<path d="M337.4,668.5h3.2M339.0,666.9v3.2"/>
<path d="M340.4,669.0h3.2M342.0,667.4v3.2"/>
<path d="M343.4,669.5h3.2M345.0,667.9v3.2"/>
<path d="M494.6,670.4h3.2M496.2,668.8v3.2"/>
<path d="M507.6,672.7h3.2M509.2,671.1v3.2"/>
<path d="M505.2,676.3h3.2M506.8,674.7v3.2"/>
<path d="M511.1,673.9h3.2M512.7,672.3v3.2"/>
</g>
<polygon points="309.90,669.60 311.29,673.88 315.80,673.88 312.15,676.53 313.54,680.82 309.90,678.17 306.26,680.82 307.65,676.53 304.00,673.88 308.51,673.88" fill="#ffff00" stroke="#333" stroke-width="0.7"/>
<text x="-0.5" y="105.5" font-size="23" fill="#000" font-weight="bold" stroke="#000" stroke-width="0.6">b</text>
<text x="54" y="114.2" font-size="16.5" fill="#000">WNW</text>
<text x="336.8" y="113.6" font-size="16.5" fill="#000">ESE</text>
<rect x="76" y="121.7" width="277" height="176.5" fill="none" stroke="#111" stroke-width="1.6"/>
<line x1="101.2" y1="297.8" x2="101.2" y2="301.5" stroke="#111" stroke-width="1.2"/>
<text x="98.7" y="318.4" font-size="16.5" fill="#000" text-anchor="middle">&#8722;4</text>
<line x1="188.0" y1="297.8" x2="188.0" y2="301.5" stroke="#111" stroke-width="1.2"/>
<text x="188.0" y="318.4" font-size="16.5" fill="#000" text-anchor="middle">&#8722;3</text>
<line x1="274.8" y1="297.8" x2="274.8" y2="301.5" stroke="#111" stroke-width="1.2"/>
<text x="274.8" y="318.4" font-size="16.5" fill="#000" text-anchor="middle">&#8722;2</text>
<line x1="144.6" y1="297.8" x2="144.6" y2="300" stroke="#111" stroke-width="1"/>
<line x1="231.4" y1="297.8" x2="231.4" y2="300" stroke="#111" stroke-width="1"/>
<line x1="318.2" y1="297.8" x2="318.2" y2="300" stroke="#111" stroke-width="1"/>
<line x1="72.5" y1="161.4" x2="76" y2="161.4" stroke="#111" stroke-width="1.2"/>
<text x="67.5" y="168.5" font-size="16.5" fill="#000" text-anchor="end">18.0</text>
<line x1="72.5" y1="204.7" x2="76" y2="204.7" stroke="#111" stroke-width="1.2"/>
<text x="67.5" y="211.79999999999998" font-size="16.5" fill="#000" text-anchor="end">18.5</text>
<line x1="72.5" y1="248.0" x2="76" y2="248.0" stroke="#111" stroke-width="1.2"/>
<text x="67.5" y="255.1" font-size="16.5" fill="#000" text-anchor="end">19.0</text>
<line x1="72.5" y1="291.29999999999995" x2="76" y2="291.29999999999995" stroke="#111" stroke-width="1.2"/>
<text x="67.5" y="298.4" font-size="16.5" fill="#000" text-anchor="end">19.5</text>
<text x="217" y="341.2" font-size="16.5" fill="#000" text-anchor="middle">Distance (km)</text>
<text x="19.2" y="217.5" font-size="16.5" fill="#000" text-anchor="middle" transform="rotate(-90 19.2 217.5)">Depth (km)</text>
<text x="367" y="20.2" font-size="23" fill="#000" font-weight="bold" stroke="#000" stroke-width="0.6">a</text>
<path d="M415.5,171.3 L425.5,170.5 L442.8,161.9 L460.1,153.2 L471.6,146.7 L486,141 L500.5,133.8 L514,128.7 L522,118 L532,104 L542,92 L552,80 L561.7,71.8 L571.8,63.9 L576,58 L584.8,48.7 L593.4,40.8 L605,32.9 L616.5,31.4 L630,31.7 L645,28 L657,24.2 L657.5,295.8 L415.5,295.8 Z" fill="#bebebe" stroke="none" stroke-width="1"/>
<path d="M415.5,171.3 L425.5,170.5 L442.8,161.9 L460.1,153.2 L471.6,146.7 L486,141 L500.5,133.8 L514,128.7 L522,118 L532,104 L542,92 L552,80 L561.7,71.8 L571.8,63.9 L576,58 L584.8,48.7 L593.4,40.8 L605,32.9 L616.5,31.4 L630,31.7 L645,28 L657,24.2" fill="none" stroke="#555" stroke-width="0.8" stroke-dasharray="2,1.5"/>
<g fill="none" stroke="#000" stroke-width="1.1">
<circle cx="496.5" cy="62.5" r="2.3"/>
<circle cx="498.2" cy="60.2" r="2.3"/>
<circle cx="500.0" cy="57.9" r="2.3"/>
<circle cx="501.1" cy="56.1" r="2.3"/>
<circle cx="496.5" cy="74.0" r="2.3"/>
<circle cx="502.8" cy="72.9" r="2.3"/>
<circle cx="497.1" cy="78.6" r="2.3"/>
<circle cx="498.8" cy="79.2" r="2.3"/>
<circle cx="502.2" cy="76.9" r="2.3"/>
<circle cx="505.7" cy="79.8" r="2.3"/>
<circle cx="508.0" cy="108.0" r="2.3"/>
<circle cx="509.2" cy="109.2" r="2.3"/>
<circle cx="494.2" cy="111.5" r="2.3"/>
<circle cx="495.3" cy="119.5" r="2.3"/>
<circle cx="512.6" cy="76.9" r="2.3"/>
<circle cx="513.8" cy="81.5" r="2.3"/>
<circle cx="541.7" cy="53.3" r="2.3"/>
<circle cx="550.9" cy="60.2" r="2.3"/>
<circle cx="555.0" cy="61.3" r="2.3"/>
<circle cx="551.5" cy="63.6" r="2.3"/>
<circle cx="546.9" cy="67.7" r="2.3"/>
<circle cx="550.3" cy="70.5" r="2.3"/>
<circle cx="554.4" cy="67.1" r="2.3"/>
<circle cx="558.4" cy="67.7" r="2.3"/>
<circle cx="557.3" cy="70.5" r="2.3"/>
<circle cx="546.3" cy="73.4" r="2.3"/>
<circle cx="567.1" cy="65.4" r="2.3"/>
<circle cx="579.7" cy="72.3" r="2.3"/>
<circle cx="533.6" cy="67.7" r="2.3"/>
<circle cx="521.5" cy="73.4" r="2.3"/>
<circle cx="543.4" cy="79.8" r="2.3"/>
<circle cx="546.9" cy="81.5" r="2.3"/>
<circle cx="552.7" cy="81.5" r="2.3"/>
<circle cx="555.0" cy="86.1" r="2.3"/>
<circle cx="545.7" cy="87.3" r="2.3"/>
<circle cx="560.7" cy="79.2" r="2.3"/>
<circle cx="564.2" cy="80.3" r="2.3"/>
<circle cx="561.9" cy="83.2" r="2.3"/>
<circle cx="565.3" cy="85.0" r="2.3"/>
<circle cx="570.0" cy="79.2" r="2.3"/>
<circle cx="574.0" cy="79.8" r="2.3"/>
<circle cx="572.8" cy="82.1" r="2.3"/>
<circle cx="570.0" cy="86.1" r="2.3"/>
<circle cx="566.5" cy="104.0" r="2.3"/>
<circle cx="557.3" cy="106.3" r="2.3"/>
<circle cx="559.6" cy="109.2" r="2.3"/>
<circle cx="550.3" cy="113.8" r="2.3"/>
<circle cx="548.0" cy="116.1" r="2.3"/>
<circle cx="592.0" cy="79.5" r="2.3"/>
<circle cx="591.0" cy="80.3" r="2.3"/>
<circle cx="573.9" cy="79.5" r="2.3"/>
<circle cx="459.8" cy="127.3" r="2.3"/>
<circle cx="469.0" cy="130.7" r="2.3"/>
<circle cx="469.6" cy="131.0" r="2.3"/>
<circle cx="474.2" cy="135.4" r="2.3"/>
<circle cx="470.7" cy="140.5" r="2.3"/>
<circle cx="477.7" cy="136.0" r="2.3"/>
<circle cx="479.5" cy="135.5" r="2.3"/>
<circle cx="481.5" cy="135.2" r="2.3"/>
<circle cx="483.0" cy="135.6" r="2.3"/>
<circle cx="480.0" cy="136.5" r="2.3"/>
<circle cx="490.3" cy="121.5" r="2.3"/>
<circle cx="491.5" cy="122.7" r="2.3"/>
<circle cx="497.3" cy="121.0" r="2.3"/>
<circle cx="499.0" cy="122.1" r="2.3"/>
<circle cx="493.8" cy="111.7" r="2.3"/>
<circle cx="490.9" cy="142.3" r="2.3"/>
<circle cx="489.2" cy="141.7" r="2.3"/>
<circle cx="491.5" cy="141.2" r="2.3"/>
<circle cx="505.3" cy="126.1" r="2.3"/>
<circle cx="510.0" cy="125.0" r="2.3"/>
<circle cx="513.4" cy="121.5" r="2.3"/>
<circle cx="518.0" cy="120.4" r="2.3"/>
<circle cx="519.2" cy="123.8" r="2.3"/>
<circle cx="523.8" cy="125.0" r="2.3"/>
<circle cx="514.6" cy="114.6" r="2.3"/>
<circle cx="519.2" cy="112.3" r="2.3"/>
<circle cx="521.5" cy="116.9" r="2.3"/>
<circle cx="508.8" cy="144.6" r="2.3"/>
<circle cx="507.6" cy="146.9" r="2.3"/>
<circle cx="506.5" cy="153.8" r="2.3"/>
<circle cx="506.8" cy="153.2" r="2.3"/>
<circle cx="518.0" cy="138.8" r="2.3"/>
<circle cx="522.6" cy="137.7" r="2.3"/>
<circle cx="526.0" cy="136.5" r="2.3"/>
<circle cx="521.5" cy="152.7" r="2.3"/>
<circle cx="519.2" cy="158.4" r="2.3"/>
<circle cx="523.8" cy="157.3" r="2.3"/>
<circle cx="514.6" cy="164.2" r="2.3"/>
<circle cx="518.0" cy="164.2" r="2.3"/>
<circle cx="522.6" cy="164.2" r="2.3"/>
<circle cx="514.6" cy="168.8" r="2.3"/>
<circle cx="519.2" cy="168.8" r="2.3"/>
<circle cx="506.5" cy="167.1" r="2.3"/>
<circle cx="514.6" cy="172.2" r="2.3"/>
<circle cx="520.3" cy="175.7" r="2.3"/>
<circle cx="523.8" cy="176.9" r="2.3"/>
<circle cx="519.2" cy="179.2" r="2.3"/>
<circle cx="525.0" cy="181.5" r="2.3"/>
<circle cx="514.6" cy="186.1" r="2.3"/>
<circle cx="516.9" cy="183.8" r="2.3"/>
<circle cx="561.9" cy="120.4" r="2.3"/>
<circle cx="565.3" cy="119.2" r="2.3"/>
<circle cx="567.6" cy="122.7" r="2.3"/>
<circle cx="564.2" cy="125.0" r="2.3"/>
<circle cx="570.0" cy="127.3" r="2.3"/>
<circle cx="572.2" cy="129.6" r="2.3"/>
<circle cx="575.7" cy="128.4" r="2.3"/>
<circle cx="579.2" cy="131.3" r="2.3"/>
<circle cx="574.6" cy="133.0" r="2.3"/>
<circle cx="560.7" cy="126.1" r="2.3"/>
<circle cx="577.0" cy="133.5" r="2.3"/>
<circle cx="561.9" cy="138.8" r="2.3"/>
<circle cx="564.2" cy="140.0" r="2.3"/>
<circle cx="566.5" cy="138.8" r="2.3"/>
<circle cx="559.6" cy="142.3" r="2.3"/>
<circle cx="563.0" cy="143.4" r="2.3"/>
<circle cx="565.3" cy="144.6" r="2.3"/>
<circle cx="558.4" cy="150.3" r="2.3"/>
<circle cx="559.6" cy="152.7" r="2.3"/>
<circle cx="555.0" cy="144.6" r="2.3"/>
<circle cx="553.8" cy="138.8" r="2.3"/>
<circle cx="552.7" cy="142.3" r="2.3"/>
<circle cx="549.2" cy="155.0" r="2.3"/>
<circle cx="548.0" cy="157.3" r="2.3"/>
<circle cx="551.5" cy="153.8" r="2.3"/>
<circle cx="553.8" cy="156.1" r="2.3"/>
<circle cx="560.7" cy="158.4" r="2.3"/>
<circle cx="564.2" cy="160.7" r="2.3"/>
<circle cx="566.5" cy="163.0" r="2.3"/>
<circle cx="568.8" cy="164.2" r="2.3"/>
<circle cx="521.5" cy="152.7" r="2.3"/>
<circle cx="530.7" cy="151.5" r="2.3"/>
<circle cx="536.5" cy="150.3" r="2.3"/>
<circle cx="541.1" cy="149.2" r="2.3"/>
<circle cx="515.8" cy="179.2" r="2.3"/>
<circle cx="521.5" cy="176.9" r="2.3"/>
<circle cx="525.0" cy="174.6" r="2.3"/>
<circle cx="526.1" cy="179.2" r="2.3"/>
<circle cx="516.9" cy="185.0" r="2.3"/>
<circle cx="513.5" cy="188.4" r="2.3"/>
<circle cx="533.0" cy="178.0" r="2.3"/>
<circle cx="541.1" cy="179.2" r="2.3"/>
<circle cx="523.8" cy="181.5" r="2.3"/>
<circle cx="581.5" cy="158.4" r="2.3"/>
<circle cx="583.8" cy="158.4" r="2.3"/>
<circle cx="583.8" cy="173.4" r="2.3"/>
<circle cx="587.2" cy="175.7" r="2.3"/>
<circle cx="571.1" cy="187.2" r="2.3"/>
<circle cx="575.8" cy="132.3" r="2.3"/>
<circle cx="579.2" cy="132.3" r="2.3"/>
<circle cx="601.1" cy="143.8" r="2.3"/>
<circle cx="603.4" cy="145.6" r="2.3"/>
<circle cx="596.5" cy="149.0" r="2.3"/>
<circle cx="595.9" cy="151.3" r="2.3"/>
<circle cx="609.2" cy="148.4" r="2.3"/>
<circle cx="611.5" cy="150.7" r="2.3"/>
<circle cx="613.8" cy="152.5" r="2.3"/>
<circle cx="608.0" cy="151.3" r="2.3"/>
<circle cx="589.0" cy="155.4" r="2.3"/>
<circle cx="579.2" cy="158.8" r="2.3"/>
<circle cx="581.5" cy="158.2" r="2.3"/>
<circle cx="583.3" cy="173.8" r="2.3"/>
<circle cx="587.3" cy="176.7" r="2.3"/>
<circle cx="591.9" cy="176.7" r="2.3"/>
<circle cx="585.0" cy="176.1" r="2.3"/>
<circle cx="570.0" cy="164.6" r="2.3"/>
<circle cx="596.5" cy="164.6" r="2.3"/>
<circle cx="597.7" cy="169.2" r="2.3"/>
<circle cx="593.0" cy="161.0" r="2.3"/>
<circle cx="594.5" cy="166.0" r="2.3"/>
<circle cx="572.3" cy="188.8" r="2.3"/>
<circle cx="580.4" cy="192.2" r="2.3"/>
<circle cx="583.8" cy="190.0" r="2.3"/>
<circle cx="587.3" cy="191.1" r="2.3"/>
<circle cx="590.7" cy="186.5" r="2.3"/>
<circle cx="593.0" cy="184.2" r="2.3"/>
<circle cx="579.2" cy="196.9" r="2.3"/>
<circle cx="582.7" cy="198.0" r="2.3"/>
<circle cx="586.1" cy="196.9" r="2.3"/>
<circle cx="589.6" cy="194.6" r="2.3"/>
<circle cx="593.0" cy="198.0" r="2.3"/>
<circle cx="598.8" cy="199.2" r="2.3"/>
<circle cx="602.3" cy="200.3" r="2.3"/>
<circle cx="576.9" cy="201.5" r="2.3"/>
<circle cx="580.4" cy="202.6" r="2.3"/>
<circle cx="583.8" cy="201.5" r="2.3"/>
<circle cx="573.5" cy="199.2" r="2.3"/>
<circle cx="581.0" cy="209.5" r="2.3"/>
<circle cx="577.0" cy="195.0" r="2.3"/>
<circle cx="585.0" cy="193.0" r="2.3"/>
<circle cx="572.6" cy="128.7" r="2.3"/>
<circle cx="575.8" cy="128.7" r="2.3"/>
<circle cx="579.1" cy="132.0" r="2.3"/>
<circle cx="575.2" cy="132.6" r="2.3"/>
<circle cx="601.8" cy="144.3" r="2.3"/>
<circle cx="603.0" cy="145.6" r="2.3"/>
<circle cx="596.6" cy="148.8" r="2.3"/>
<circle cx="610.2" cy="148.2" r="2.3"/>
<circle cx="514.6" cy="185.8" r="2.3"/>
<circle cx="516.9" cy="183.5" r="2.3"/>
<circle cx="519.2" cy="181.7" r="2.3"/>
<circle cx="523.8" cy="181.2" r="2.3"/>
<circle cx="541.1" cy="180.0" r="2.3"/>
<circle cx="553.8" cy="198.4" r="2.3"/>
<circle cx="556.1" cy="205.9" r="2.3"/>
<circle cx="551.5" cy="213.4" r="2.3"/>
<circle cx="553.8" cy="211.1" r="2.3"/>
<circle cx="522.7" cy="215.7" r="2.3"/>
<circle cx="523.2" cy="216.0" r="2.3"/>
<circle cx="521.5" cy="218.0" r="2.3"/>
<circle cx="528.4" cy="213.4" r="2.3"/>
<circle cx="531.9" cy="215.7" r="2.3"/>
<circle cx="526.1" cy="220.3" r="2.3"/>
<circle cx="520.3" cy="221.5" r="2.3"/>
<circle cx="533.0" cy="220.3" r="2.3"/>
<circle cx="536.5" cy="221.5" r="2.3"/>
<circle cx="527.3" cy="225.0" r="2.3"/>
<circle cx="526.1" cy="226.1" r="2.3"/>
<circle cx="526.5" cy="226.5" r="2.3"/>
<circle cx="528.4" cy="223.8" r="2.3"/>
<circle cx="514.6" cy="225.5" r="2.3"/>
<circle cx="540.0" cy="230.7" r="2.3"/>
<circle cx="543.4" cy="230.7" r="2.3"/>
<circle cx="525.5" cy="234.8" r="2.3"/>
<circle cx="518.6" cy="243.4" r="2.3"/>
<circle cx="518.9" cy="243.7" r="2.3"/>
<circle cx="540.0" cy="204.2" r="2.3"/>
<circle cx="541.1" cy="207.7" r="2.3"/>
<circle cx="550.7" cy="213.1" r="2.3"/>
<circle cx="553.1" cy="211.9" r="2.3"/>
<circle cx="555.4" cy="206.7" r="2.3"/>
<circle cx="580.7" cy="211.3" r="2.3"/>
<circle cx="587.1" cy="216.5" r="2.3"/>
<circle cx="541.0" cy="230.4" r="2.3"/>
<circle cx="543.8" cy="230.4" r="2.3"/>
<circle cx="532.3" cy="216.5" r="2.3"/>
<circle cx="535.8" cy="221.1" r="2.3"/>
<circle cx="532.3" cy="222.3" r="2.3"/>
<circle cx="581.9" cy="229.2" r="2.3"/>
<circle cx="588.8" cy="229.2" r="2.3"/>
<circle cx="592.2" cy="245.3" r="2.3"/>
<circle cx="588.8" cy="248.8" r="2.3"/>
<circle cx="587.6" cy="258.0" r="2.3"/>
<circle cx="590.0" cy="261.5" r="2.3"/>
<circle cx="584.2" cy="266.1" r="2.3"/>
<circle cx="575.5" cy="271.9" r="2.3"/>
<circle cx="584.2" cy="258.0" r="2.3"/>
<circle cx="562.3" cy="251.1" r="2.3"/>
<circle cx="562.3" cy="258.0" r="2.3"/>
<circle cx="537.0" cy="196.0" r="2.3"/>
<circle cx="544.0" cy="197.0" r="2.3"/>
<circle cx="546.0" cy="188.0" r="2.3"/>
<circle cx="527.0" cy="78.9" r="2.3"/>
<circle cx="534.2" cy="82.9" r="2.3"/>
<circle cx="518.0" cy="85.6" r="2.3"/>
<circle cx="517.3" cy="84.2" r="2.3"/>
<circle cx="518.4" cy="77.7" r="2.3"/>
<circle cx="520.2" cy="80.2" r="2.3"/>
<circle cx="535.6" cy="83.5" r="2.3"/>
<circle cx="520.9" cy="78.2" r="2.3"/>
<circle cx="522.1" cy="87.1" r="2.3"/>
<circle cx="537.7" cy="83.1" r="2.3"/>
<circle cx="518.0" cy="79.9" r="2.3"/>
<circle cx="539.1" cy="84.1" r="2.3"/>
<circle cx="526.7" cy="87.1" r="2.3"/>
<circle cx="531.4" cy="81.7" r="2.3"/>
<circle cx="543.0" cy="89.3" r="2.3"/>
<circle cx="524.3" cy="86.9" r="2.3"/>
<circle cx="521.2" cy="85.3" r="2.3"/>
<circle cx="542.0" cy="86.9" r="2.3"/>
<circle cx="539.6" cy="87.3" r="2.3"/>
<circle cx="535.7" cy="84.7" r="2.3"/>
<circle cx="544.6" cy="93.9" r="2.3"/>
<circle cx="532.1" cy="88.6" r="2.3"/>
<circle cx="529.1" cy="88.7" r="2.3"/>
<circle cx="516.8" cy="84.8" r="2.3"/>
<circle cx="521.7" cy="78.2" r="2.3"/>
<circle cx="520.4" cy="80.7" r="2.3"/>
<circle cx="518.7" cy="84.5" r="2.3"/>
<circle cx="543.9" cy="92.4" r="2.3"/>
<circle cx="525.5" cy="83.9" r="2.3"/>
<circle cx="522.0" cy="80.4" r="2.3"/>
<circle cx="523.9" cy="85.2" r="2.3"/>
<circle cx="528.6" cy="86.8" r="2.3"/>
<circle cx="548.4" cy="89.1" r="2.3"/>
<circle cx="533.5" cy="87.7" r="2.3"/>
<circle cx="546.6" cy="90.8" r="2.3"/>
<circle cx="545.7" cy="91.2" r="2.3"/>
<circle cx="529.3" cy="83.6" r="2.3"/>
<circle cx="518.1" cy="77.3" r="2.3"/>
<circle cx="514.5" cy="91.9" r="2.3"/>
<circle cx="516.1" cy="89.3" r="2.3"/>
<circle cx="513.2" cy="96.7" r="2.3"/>
<circle cx="519.4" cy="91.6" r="2.3"/>
<circle cx="515.0" cy="96.3" r="2.3"/>
<circle cx="516.4" cy="90.9" r="2.3"/>
<circle cx="517.6" cy="99.6" r="2.3"/>
<circle cx="513.0" cy="90.5" r="2.3"/>
<circle cx="516.1" cy="94.4" r="2.3"/>
<circle cx="521.9" cy="91.9" r="2.3"/>
<circle cx="518.3" cy="91.5" r="2.3"/>
<circle cx="518.5" cy="88.6" r="2.3"/>
<circle cx="522.4" cy="104.7" r="2.3"/>
<circle cx="515.1" cy="96.8" r="2.3"/>
<circle cx="514.0" cy="106.5" r="2.3"/>
<circle cx="518.4" cy="106.7" r="2.3"/>
<circle cx="516.0" cy="93.4" r="2.3"/>
<circle cx="522.2" cy="107.3" r="2.3"/>
<circle cx="521.8" cy="105.8" r="2.3"/>
<circle cx="514.7" cy="100.4" r="2.3"/>
<circle cx="516.3" cy="88.7" r="2.3"/>
<circle cx="515.1" cy="104.6" r="2.3"/>
<circle cx="546.1" cy="101.4" r="2.3"/>
<circle cx="530.6" cy="96.8" r="2.3"/>
<circle cx="530.1" cy="96.3" r="2.3"/>
<circle cx="539.1" cy="110.9" r="2.3"/>
<circle cx="543.6" cy="102.1" r="2.3"/>
<circle cx="539.7" cy="108.8" r="2.3"/>
<circle cx="527.8" cy="105.9" r="2.3"/>
<circle cx="541.8" cy="102.0" r="2.3"/>
<circle cx="529.7" cy="108.6" r="2.3"/>
<circle cx="533.0" cy="108.8" r="2.3"/>
<circle cx="541.2" cy="95.6" r="2.3"/>
<circle cx="528.7" cy="95.2" r="2.3"/>
<circle cx="533.4" cy="103.5" r="2.3"/>
<circle cx="546.4" cy="105.6" r="2.3"/>
<circle cx="537.1" cy="111.6" r="2.3"/>
<circle cx="535.1" cy="110.3" r="2.3"/>
<circle cx="543.3" cy="96.4" r="2.3"/>
<circle cx="531.3" cy="98.2" r="2.3"/>
<circle cx="531.1" cy="104.3" r="2.3"/>
<circle cx="531.4" cy="100.8" r="2.3"/>
<circle cx="533.4" cy="101.6" r="2.3"/>
<circle cx="538.3" cy="111.0" r="2.3"/>
<circle cx="536.5" cy="103.2" r="2.3"/>
<circle cx="535.2" cy="95.8" r="2.3"/>
<circle cx="529.6" cy="101.9" r="2.3"/>
<circle cx="541.2" cy="103.7" r="2.3"/>
<circle cx="532.8" cy="102.9" r="2.3"/>
<circle cx="537.7" cy="108.5" r="2.3"/>
<circle cx="528.2" cy="103.8" r="2.3"/>
<circle cx="531.2" cy="97.8" r="2.3"/>
<circle cx="542.2" cy="102.7" r="2.3"/>
<circle cx="537.8" cy="108.0" r="2.3"/>
<circle cx="545.2" cy="101.3" r="2.3"/>
<circle cx="538.9" cy="102.6" r="2.3"/>
<circle cx="538.2" cy="84.9" r="2.3"/>
<circle cx="537.0" cy="83.3" r="2.3"/>
<circle cx="542.0" cy="86.8" r="2.3"/>
<circle cx="530.4" cy="82.4" r="2.3"/>
<circle cx="529.5" cy="80.4" r="2.3"/>
<circle cx="543.7" cy="87.0" r="2.3"/>
<circle cx="541.2" cy="79.4" r="2.3"/>
<circle cx="536.0" cy="82.9" r="2.3"/>
<circle cx="531.2" cy="82.3" r="2.3"/>
<circle cx="538.3" cy="81.4" r="2.3"/>
<circle cx="523.2" cy="94.9" r="2.3"/>
<circle cx="527.1" cy="96.0" r="2.3"/>
<circle cx="527.9" cy="96.6" r="2.3"/>
<circle cx="522.2" cy="94.4" r="2.3"/>
<circle cx="524.0" cy="93.2" r="2.3"/>
<circle cx="530.0" cy="94.3" r="2.3"/>
<circle cx="527.3" cy="98.3" r="2.3"/>
<circle cx="541.3" cy="124.2" r="2.3"/>
<circle cx="538.1" cy="138.5" r="2.3"/>
<circle cx="505.0" cy="140.5" r="2.3"/>
<circle cx="504.0" cy="140.8" r="2.3"/>
<circle cx="527.2" cy="120.9" r="2.3"/>
<circle cx="516.1" cy="112.9" r="2.3"/>
<circle cx="531.6" cy="117.1" r="2.3"/>
<circle cx="506.6" cy="114.1" r="2.3"/>
<circle cx="518.7" cy="119.6" r="2.3"/>
<circle cx="545.6" cy="119.0" r="2.3"/>
<circle cx="530.0" cy="114.8" r="2.3"/>
<circle cx="520.8" cy="108.7" r="2.3"/>
<circle cx="544.0" cy="128.9" r="2.3"/>
<circle cx="511.4" cy="126.0" r="2.3"/>
<circle cx="549.1" cy="124.4" r="2.3"/>
<circle cx="523.6" cy="127.3" r="2.3"/>
<circle cx="520.6" cy="139.6" r="2.3"/>
<circle cx="542.4" cy="132.2" r="2.3"/>
<circle cx="524.3" cy="121.2" r="2.3"/>
<circle cx="504.2" cy="136.2" r="2.3"/>
<circle cx="515.3" cy="114.2" r="2.3"/>
<circle cx="505.1" cy="140.0" r="2.3"/>
<circle cx="552.2" cy="133.5" r="2.3"/>
<circle cx="516.9" cy="117.2" r="2.3"/>
<circle cx="517.6" cy="125.5" r="2.3"/>
<circle cx="509.5" cy="124.9" r="2.3"/>
<circle cx="518.6" cy="121.6" r="2.3"/>
<circle cx="528.5" cy="127.1" r="2.3"/>
<circle cx="512.1" cy="127.2" r="2.3"/>
<circle cx="505.4" cy="123.2" r="2.3"/>
<circle cx="518.3" cy="116.8" r="2.3"/>
<circle cx="535.1" cy="128.1" r="2.3"/>
<circle cx="545.0" cy="133.0" r="2.3"/>
<circle cx="523.4" cy="120.4" r="2.3"/>
<circle cx="543.4" cy="132.4" r="2.3"/>
<circle cx="502.6" cy="139.7" r="2.3"/>
<circle cx="553.5" cy="131.8" r="2.3"/>
<circle cx="508.4" cy="127.9" r="2.3"/>
<circle cx="541.0" cy="134.3" r="2.3"/>
<circle cx="508.0" cy="121.7" r="2.3"/>
<circle cx="506.3" cy="139.8" r="2.3"/>
<circle cx="533.5" cy="131.9" r="2.3"/>
<circle cx="537.6" cy="133.9" r="2.3"/>
<circle cx="547.9" cy="136.4" r="2.3"/>
<circle cx="530.2" cy="128.3" r="2.3"/>
<circle cx="544.2" cy="117.6" r="2.3"/>
<circle cx="504.5" cy="118.1" r="2.3"/>
<circle cx="543.8" cy="115.8" r="2.3"/>
<circle cx="529.6" cy="122.5" r="2.3"/>
<circle cx="528.7" cy="134.0" r="2.3"/>
<circle cx="546.0" cy="131.4" r="2.3"/>
<circle cx="508.8" cy="117.6" r="2.3"/>
<circle cx="544.6" cy="119.6" r="2.3"/>
<circle cx="503.6" cy="118.2" r="2.3"/>
<circle cx="540.3" cy="134.3" r="2.3"/>
<circle cx="540.5" cy="119.1" r="2.3"/>
<circle cx="531.0" cy="125.7" r="2.3"/>
<circle cx="528.0" cy="112.5" r="2.3"/>
<circle cx="553.6" cy="115.6" r="2.3"/>
<circle cx="501.1" cy="125.4" r="2.3"/>
<circle cx="527.0" cy="118.2" r="2.3"/>
<circle cx="512.6" cy="143.9" r="2.3"/>
<circle cx="512.6" cy="130.1" r="2.3"/>
<circle cx="508.5" cy="127.9" r="2.3"/>
<circle cx="557.2" cy="113.0" r="2.3"/>
<circle cx="549.2" cy="127.3" r="2.3"/>
<circle cx="553.2" cy="134.7" r="2.3"/>
<circle cx="513.9" cy="142.1" r="2.3"/>
<circle cx="500.2" cy="126.7" r="2.3"/>
<circle cx="527.0" cy="119.5" r="2.3"/>
<circle cx="508.4" cy="121.1" r="2.3"/>
<circle cx="519.0" cy="139.9" r="2.3"/>
<circle cx="500.1" cy="136.5" r="2.3"/>
<circle cx="554.1" cy="119.0" r="2.3"/>
<circle cx="522.3" cy="122.9" r="2.3"/>
<circle cx="521.6" cy="124.3" r="2.3"/>
<circle cx="516.5" cy="109.8" r="2.3"/>
<circle cx="506.1" cy="139.7" r="2.3"/>
<circle cx="515.0" cy="118.1" r="2.3"/>
<circle cx="530.7" cy="115.2" r="2.3"/>
<circle cx="556.4" cy="128.9" r="2.3"/>
<circle cx="543.9" cy="125.1" r="2.3"/>
<circle cx="545.2" cy="132.5" r="2.3"/>
<circle cx="517.2" cy="109.9" r="2.3"/>
<circle cx="555.6" cy="112.8" r="2.3"/>
<circle cx="528.3" cy="121.1" r="2.3"/>
<circle cx="517.9" cy="136.1" r="2.3"/>
<circle cx="558.6" cy="117.9" r="2.3"/>
<circle cx="539.4" cy="119.4" r="2.3"/>
<circle cx="533.4" cy="123.0" r="2.3"/>
<circle cx="510.0" cy="114.1" r="2.3"/>
<circle cx="512.5" cy="142.4" r="2.3"/>
<circle cx="529.8" cy="116.4" r="2.3"/>
<circle cx="527.0" cy="113.3" r="2.3"/>
<circle cx="511.5" cy="111.4" r="2.3"/>
<circle cx="520.5" cy="111.5" r="2.3"/>
<circle cx="514.3" cy="117.8" r="2.3"/>
<circle cx="545.0" cy="123.7" r="2.3"/>
<circle cx="524.8" cy="127.9" r="2.3"/>
<circle cx="522.6" cy="120.9" r="2.3"/>
<circle cx="503.7" cy="118.5" r="2.3"/>
<circle cx="558.1" cy="112.8" r="2.3"/>
<circle cx="530.2" cy="131.9" r="2.3"/>
<circle cx="551.8" cy="116.2" r="2.3"/>
<circle cx="516.3" cy="117.4" r="2.3"/>
<circle cx="524.0" cy="124.9" r="2.3"/>
<circle cx="501.9" cy="135.0" r="2.3"/>
<circle cx="553.7" cy="126.0" r="2.3"/>
<circle cx="558.3" cy="117.4" r="2.3"/>
<circle cx="506.5" cy="113.9" r="2.3"/>
<circle cx="528.8" cy="167.7" r="2.3"/>
<circle cx="533.3" cy="169.6" r="2.3"/>
<circle cx="526.5" cy="164.7" r="2.3"/>
<circle cx="518.4" cy="173.2" r="2.3"/>
<circle cx="533.2" cy="159.0" r="2.3"/>
<circle cx="514.6" cy="157.8" r="2.3"/>
<circle cx="532.9" cy="168.1" r="2.3"/>
<circle cx="528.9" cy="165.4" r="2.3"/>
<circle cx="524.0" cy="157.1" r="2.3"/>
<circle cx="520.9" cy="162.6" r="2.3"/>
<circle cx="541.8" cy="162.9" r="2.3"/>
<circle cx="518.5" cy="157.7" r="2.3"/>
<circle cx="527.9" cy="167.5" r="2.3"/>
<circle cx="525.1" cy="157.9" r="2.3"/>
<circle cx="534.0" cy="173.3" r="2.3"/>
<circle cx="522.2" cy="161.7" r="2.3"/>
<circle cx="534.6" cy="156.6" r="2.3"/>
<circle cx="538.7" cy="169.0" r="2.3"/>
<circle cx="528.2" cy="156.7" r="2.3"/>
<circle cx="539.5" cy="157.3" r="2.3"/>
<circle cx="518.0" cy="169.5" r="2.3"/>
<circle cx="520.6" cy="173.9" r="2.3"/>
<circle cx="527.8" cy="156.3" r="2.3"/>
<circle cx="518.0" cy="161.6" r="2.3"/>
<circle cx="515.3" cy="161.0" r="2.3"/>
<circle cx="512.2" cy="161.0" r="2.3"/>
<circle cx="516.7" cy="173.5" r="2.3"/>
<circle cx="533.9" cy="160.7" r="2.3"/>
<circle cx="523.5" cy="159.6" r="2.3"/>
<circle cx="520.1" cy="160.1" r="2.3"/>
<circle cx="522.8" cy="170.9" r="2.3"/>
<circle cx="539.6" cy="161.9" r="2.3"/>
<circle cx="511.8" cy="162.9" r="2.3"/>
<circle cx="523.4" cy="173.1" r="2.3"/>
<circle cx="516.9" cy="160.4" r="2.3"/>
<circle cx="524.8" cy="170.7" r="2.3"/>
<circle cx="536.9" cy="172.7" r="2.3"/>
<circle cx="522.2" cy="158.3" r="2.3"/>
<circle cx="519.4" cy="168.5" r="2.3"/>
<circle cx="521.4" cy="158.3" r="2.3"/>
<circle cx="617.6" cy="190.5" r="2.3"/>
<circle cx="606.0" cy="188.1" r="2.3"/>
<circle cx="608.6" cy="184.8" r="2.3"/>
<circle cx="609.3" cy="188.4" r="2.3"/>
<circle cx="615.6" cy="192.1" r="2.3"/>
<circle cx="616.0" cy="192.6" r="2.3"/>
<circle cx="612.3" cy="185.9" r="2.3"/>
<circle cx="607.4" cy="186.4" r="2.3"/>
<circle cx="605.4" cy="192.3" r="2.3"/>
<circle cx="606.2" cy="182.0" r="2.3"/>
<circle cx="606.5" cy="182.3" r="2.3"/>
<circle cx="603.6" cy="188.5" r="2.3"/>
<circle cx="614.1" cy="187.7" r="2.3"/>
<circle cx="606.0" cy="187.3" r="2.3"/>
<circle cx="612.5" cy="191.1" r="2.3"/>
<circle cx="614.7" cy="193.7" r="2.3"/>
<circle cx="611.6" cy="186.6" r="2.3"/>
<circle cx="606.2" cy="184.7" r="2.3"/>
<circle cx="611.8" cy="185.9" r="2.3"/>
<circle cx="610.6" cy="184.5" r="2.3"/>
<circle cx="615.7" cy="190.8" r="2.3"/>
<circle cx="610.1" cy="193.3" r="2.3"/>
<circle cx="590.5" cy="164.7" r="2.3"/>
<circle cx="591.4" cy="163.0" r="2.3"/>
<circle cx="600.4" cy="167.2" r="2.3"/>
<circle cx="597.2" cy="169.9" r="2.3"/>
<circle cx="592.6" cy="165.9" r="2.3"/>
<circle cx="591.7" cy="163.3" r="2.3"/>
<circle cx="580.6" cy="195.2" r="2.3"/>
<circle cx="590.9" cy="186.5" r="2.3"/>
<circle cx="574.3" cy="189.2" r="2.3"/>
<circle cx="591.6" cy="186.1" r="2.3"/>
<circle cx="582.1" cy="186.5" r="2.3"/>
<circle cx="594.7" cy="194.1" r="2.3"/>
<circle cx="584.3" cy="194.1" r="2.3"/>
<circle cx="590.6" cy="184.0" r="2.3"/>
<circle cx="578.3" cy="197.3" r="2.3"/>
<circle cx="584.7" cy="188.2" r="2.3"/>
<circle cx="582.0" cy="203.0" r="2.3"/>
<circle cx="582.1" cy="194.5" r="2.3"/>
<circle cx="583.3" cy="191.2" r="2.3"/>
<circle cx="583.5" cy="186.3" r="2.3"/>
<circle cx="592.9" cy="186.5" r="2.3"/>
<circle cx="574.2" cy="201.8" r="2.3"/>
<circle cx="585.0" cy="200.0" r="2.3"/>
<circle cx="584.6" cy="201.4" r="2.3"/>
<circle cx="586.0" cy="185.6" r="2.3"/>
<circle cx="574.4" cy="194.1" r="2.3"/>
<circle cx="536.4" cy="198.7" r="2.3"/>
<circle cx="523.1" cy="194.7" r="2.3"/>
<circle cx="529.9" cy="193.1" r="2.3"/>
<circle cx="524.5" cy="190.0" r="2.3"/>
<circle cx="523.6" cy="192.9" r="2.3"/>
<circle cx="525.7" cy="187.8" r="2.3"/>
<circle cx="532.6" cy="186.7" r="2.3"/>
<circle cx="543.2" cy="191.4" r="2.3"/>
<circle cx="542.7" cy="194.7" r="2.3"/>
<circle cx="539.9" cy="189.1" r="2.3"/>
<circle cx="540.9" cy="188.6" r="2.3"/>
<circle cx="526.2" cy="191.6" r="2.3"/>
<circle cx="533.4" cy="191.4" r="2.3"/>
<circle cx="524.0" cy="189.5" r="2.3"/>
<circle cx="538.4" cy="198.6" r="2.3"/>
<circle cx="522.0" cy="193.9" r="2.3"/>
<circle cx="535.4" cy="193.7" r="2.3"/>
<circle cx="536.0" cy="190.3" r="2.3"/>
<circle cx="531.1" cy="194.2" r="2.3"/>
<circle cx="531.2" cy="195.2" r="2.3"/>
<circle cx="531.7" cy="192.1" r="2.3"/>
<circle cx="532.7" cy="189.3" r="2.3"/>
<circle cx="577.2" cy="253.5" r="2.3"/>
<circle cx="552.3" cy="242.6" r="2.3"/>
<circle cx="576.1" cy="253.4" r="2.3"/>
<circle cx="567.1" cy="241.0" r="2.3"/>
<circle cx="584.6" cy="233.4" r="2.3"/>
<circle cx="576.0" cy="254.5" r="2.3"/>
<circle cx="566.6" cy="259.0" r="2.3"/>
<circle cx="583.2" cy="234.3" r="2.3"/>
<circle cx="578.2" cy="258.1" r="2.3"/>
<circle cx="576.9" cy="234.1" r="2.3"/>
<circle cx="582.4" cy="237.8" r="2.3"/>
<circle cx="579.3" cy="233.7" r="2.3"/>
<circle cx="567.0" cy="257.8" r="2.3"/>
<circle cx="567.1" cy="239.1" r="2.3"/>
<circle cx="573.9" cy="257.0" r="2.3"/>
<circle cx="551.8" cy="245.7" r="2.3"/>
<circle cx="572.2" cy="240.4" r="2.3"/>
<circle cx="581.5" cy="246.5" r="2.3"/>
<circle cx="570.0" cy="256.6" r="2.3"/>
<circle cx="572.0" cy="241.5" r="2.3"/>
<circle cx="578.6" cy="237.4" r="2.3"/>
<circle cx="561.4" cy="253.0" r="2.3"/>
<circle cx="579.4" cy="237.1" r="2.3"/>
<circle cx="572.4" cy="259.8" r="2.3"/>
<circle cx="570.3" cy="249.8" r="2.3"/>
<circle cx="571.4" cy="242.6" r="2.3"/>
<circle cx="567.4" cy="257.1" r="2.3"/>
<circle cx="556.1" cy="247.3" r="2.3"/>
<circle cx="570.4" cy="235.6" r="2.3"/>
<circle cx="571.8" cy="244.0" r="2.3"/>
<circle cx="551.1" cy="249.0" r="2.3"/>
<circle cx="581.5" cy="253.5" r="2.3"/>
<circle cx="563.1" cy="237.4" r="2.3"/>
<circle cx="569.3" cy="240.1" r="2.3"/>
<circle cx="572.6" cy="243.0" r="2.3"/>
<circle cx="549.0" cy="245.7" r="2.3"/>
<circle cx="547.8" cy="246.3" r="2.3"/>
<circle cx="584.2" cy="233.6" r="2.3"/>
<circle cx="555.1" cy="248.1" r="2.3"/>
<circle cx="567.2" cy="249.2" r="2.3"/>
<circle cx="579.2" cy="234.6" r="2.3"/>
<circle cx="559.4" cy="238.5" r="2.3"/>
<circle cx="578.0" cy="251.4" r="2.3"/>
<circle cx="576.5" cy="243.7" r="2.3"/>
<circle cx="576.4" cy="243.3" r="2.3"/>
<circle cx="560.5" cy="252.5" r="2.3"/>
<circle cx="574.5" cy="255.5" r="2.3"/>
<circle cx="575.2" cy="237.5" r="2.3"/>
<circle cx="569.0" cy="242.8" r="2.3"/>
<circle cx="578.2" cy="245.5" r="2.3"/>
<circle cx="557.7" cy="249.2" r="2.3"/>
<circle cx="585.1" cy="235.9" r="2.3"/>
<circle cx="576.5" cy="258.6" r="2.3"/>
<circle cx="576.5" cy="239.4" r="2.3"/>
<circle cx="581.8" cy="239.4" r="2.3"/>
<circle cx="572.0" cy="250.7" r="2.3"/>
<circle cx="573.4" cy="259.6" r="2.3"/>
<circle cx="565.7" cy="255.3" r="2.3"/>
<circle cx="574.6" cy="255.9" r="2.3"/>
<circle cx="564.4" cy="251.7" r="2.3"/>
<circle cx="569.7" cy="238.8" r="2.3"/>
<circle cx="555.6" cy="248.6" r="2.3"/>
<circle cx="574.5" cy="248.9" r="2.3"/>
<circle cx="574.6" cy="252.1" r="2.3"/>
<circle cx="549.9" cy="247.6" r="2.3"/>
<circle cx="561.5" cy="254.6" r="2.3"/>
<circle cx="579.4" cy="256.9" r="2.3"/>
<circle cx="580.5" cy="254.5" r="2.3"/>
<circle cx="572.2" cy="254.9" r="2.3"/>
<circle cx="572.1" cy="238.1" r="2.3"/>
</g>
<g fill="#1ee6f0">
<circle cx="553.1" cy="241.9" r="3.2"/>
<circle cx="554.2" cy="251.1" r="3"/>
<circle cx="573.8" cy="233.2" r="3.4"/>
<circle cx="569.8" cy="247.7" r="3"/>
<circle cx="591.3" cy="165.7" r="3.5"/>
<circle cx="601.1" cy="173.8" r="3.8"/>
<circle cx="604.6" cy="178.4" r="3.2"/>
<circle cx="595" cy="169" r="2.8"/>
<circle cx="526.4" cy="288.4" r="2.6"/>
<circle cx="527" cy="288.8" r="2.2"/>
<circle cx="522" cy="199" r="3.5"/>
<circle cx="527" cy="201" r="3.5"/>
<circle cx="532" cy="201" r="3"/>
<circle cx="525" cy="196" r="3"/>
<circle cx="531" cy="196" r="3"/>
<circle cx="520" cy="197" r="2.5"/>
<circle cx="505" cy="134.5" r="2.5"/>
<circle cx="508.5" cy="132" r="2.5"/>
<circle cx="511.5" cy="134" r="2.4"/>
<circle cx="504" cy="139" r="2.4"/>
<circle cx="507.5" cy="140" r="2.4"/>
<circle cx="511" cy="138.5" r="2.4"/>
<circle cx="513" cy="141.5" r="2.2"/>
<circle cx="515" cy="139.5" r="2.2"/>
<circle cx="508.5" cy="136" r="2.4"/>
</g>
<g fill="none" stroke="#1ee6f0" stroke-width="1.1">
<circle cx="538.2" cy="131.3" r="2.1"/>
<circle cx="540" cy="134.2" r="2.1"/>
<circle cx="543.4" cy="137.7" r="2.1"/>
<circle cx="541.1" cy="140.5" r="2.1"/>
<circle cx="544.6" cy="139.4" r="2.1"/>
<circle cx="587.5" cy="161" r="2.1"/>
<circle cx="589" cy="168" r="2.1"/>
<circle cx="598" cy="175" r="2.1"/>
<circle cx="600" cy="179.5" r="2.1"/>
</g>
<g fill="none" stroke="#ff2020" stroke-width="1.2">
<circle cx="521.8" cy="80.5" r="2.1"/>
<circle cx="521.5" cy="84.5" r="2.1"/>
<circle cx="522" cy="88.5" r="2.1"/>
<circle cx="523.5" cy="82" r="2.1"/>
<circle cx="565.7" cy="252.3" r="2.1"/>
<circle cx="569.2" cy="253.4" r="2.1"/>
<circle cx="573.2" cy="254.6" r="2.1"/>
<circle cx="598.8" cy="179.6" r="2.1"/>
<circle cx="598" cy="181.5" r="2.1"/>
</g>
<polygon points="516.7,75.2 552.6,86.7 542.8,116.7 507.1,105.1" fill="none" stroke="#f2c200" stroke-width="1.6"/>
<polygon points="522.7,184.6 545.7,192.7 539.9,208.8 517.5,201.9" fill="none" stroke="#f2c200" stroke-width="1.6"/>
<polygon points="553.1,223.4 591.1,235.5 581.9,266.1 543.3,254" fill="none" stroke="#f2c200" stroke-width="1.6"/>
<line x1="573.2" y1="67.8" x2="510.3" y2="261" stroke="#8fe08f" stroke-width="1.2"/>
<polygon points="538.80,167.30 540.21,171.65 544.79,171.65 541.09,174.34 542.50,178.70 538.80,176.01 535.10,178.70 536.51,174.34 532.81,171.65 537.39,171.65" fill="#ffff00" stroke="#555" stroke-width="0.6"/>
<text x="522.4000000000001" y="72.0" font-size="16.5" fill="#ff2020">g</text>
<text x="495.9" y="104" font-size="16.5" fill="#f2c200">B</text>
<text x="495.2" y="151.5" font-size="16.5" fill="#1ee6f0">q</text>
<text x="525.9000000000001" y="145.7" font-size="16.5" fill="#1ee6f0">e</text>
<text x="595.7" y="158.8" font-size="16.5" fill="#1ee6f0">c</text>
<text x="581.3000000000001" y="170.3" font-size="16.5" fill="#1ee6f0">r</text>
<text x="600.2" y="168" font-size="16.5" fill="#1ee6f0">b</text>
<text x="609.0" y="170.3" font-size="16.5" fill="#1ee6f0">i</text>
<text x="612.4000000000001" y="179.6" font-size="16.5" fill="#1ee6f0">a</text>
<text x="594.0" y="192.8" font-size="16.5" fill="#ff2020">n</text>
<text x="506.3" y="201.3" font-size="16.5" fill="#1ee6f0">d</text>
<text x="495.9" y="219.2" font-size="16.5" fill="#f2c200">C</text>
<text x="529.9000000000001" y="214.6" font-size="16.5" fill="#1ee6f0">k</text>
<text x="570.7" y="222.8" font-size="16.5" fill="#1ee6f0">j</text>
<text x="597.8000000000001" y="239" font-size="16.5" fill="#f2c200">D</text>
<text x="538.0" y="244.6" font-size="16.5" fill="#1ee6f0">h</text>
<text x="544.2" y="262" font-size="16.5" fill="#1ee6f0">l</text>
<text x="550.5" y="269" font-size="16.5" fill="#ff2020">s</text>
<text x="562.6" y="273.6" font-size="16.5" fill="#1ee6f0">o</text>
<text x="532.1" y="282.5" font-size="16.5" fill="#1ee6f0">p</text>
<text x="503.5" y="279.1" font-size="16.5" fill="#8fe08f">E</text>
<rect x="431.2" y="254.2" width="63.4" height="4" fill="#000"/>
<rect x="443.9" y="255.2" width="12.7" height="2" fill="#fff"/>
<rect x="469.2" y="255.2" width="12.7" height="2" fill="#fff"/>
<line x1="431.2" y1="254.2" x2="431.2" y2="261.5" stroke="#000" stroke-width="1"/>
<line x1="443.9" y1="254.2" x2="443.9" y2="259" stroke="#000" stroke-width="1"/>
<line x1="456.6" y1="254.2" x2="456.6" y2="259" stroke="#000" stroke-width="1"/>
<line x1="469.2" y1="254.2" x2="469.2" y2="259" stroke="#000" stroke-width="1"/>
<line x1="481.9" y1="254.2" x2="481.9" y2="259" stroke="#000" stroke-width="1"/>
<line x1="494.6" y1="254.2" x2="494.6" y2="261.5" stroke="#000" stroke-width="1"/>
<text x="465.4" y="246.5" font-size="15.5" fill="#111" text-anchor="middle">km</text>
<text x="431.8" y="277.3" font-size="15.5" fill="#111" text-anchor="middle">0</text>
<text x="495" y="277.3" font-size="15.5" fill="#111" text-anchor="middle">5</text>
<rect x="415.5" y="21" width="242.0" height="274.8" fill="none" stroke="#000" stroke-width="3"/>
<line x1="449.5" y1="18" x2="449.5" y2="21" stroke="#111" stroke-width="1.2"/>
<line x1="449.5" y1="295.8" x2="449.5" y2="299" stroke="#111" stroke-width="1.2"/>
<line x1="518.4" y1="16" x2="518.4" y2="21" stroke="#111" stroke-width="1.2"/>
<line x1="518.4" y1="295.8" x2="518.4" y2="303" stroke="#111" stroke-width="1.2"/>
<line x1="588" y1="18" x2="588" y2="21" stroke="#111" stroke-width="1.2"/>
<line x1="588" y1="295.8" x2="588" y2="299" stroke="#111" stroke-width="1.2"/>
<line x1="657" y1="16" x2="657" y2="21" stroke="#111" stroke-width="1.2"/>
<line x1="657" y1="295.8" x2="657" y2="303" stroke="#111" stroke-width="1.2"/>
<line x1="411" y1="54.5" x2="415.5" y2="54.5" stroke="#111" stroke-width="1.2"/>
<line x1="657" y1="54.5" x2="661" y2="54.5" stroke="#111" stroke-width="1.2"/>
<line x1="407" y1="123.5" x2="415.5" y2="123.5" stroke="#111" stroke-width="1.2"/>
<line x1="657" y1="123.5" x2="664" y2="123.5" stroke="#111" stroke-width="1.2"/>
<line x1="411" y1="192.4" x2="415.5" y2="192.4" stroke="#111" stroke-width="1.2"/>
<line x1="657" y1="192.4" x2="661" y2="192.4" stroke="#111" stroke-width="1.2"/>
<line x1="407" y1="261.3" x2="415.5" y2="261.3" stroke="#111" stroke-width="1.2"/>
<line x1="657" y1="261.3" x2="664" y2="261.3" stroke="#111" stroke-width="1.2"/>
<text x="403.5" y="128" font-size="16" fill="#000" text-anchor="end">0.9°</text>
<text x="403.5" y="267" font-size="16" fill="#000" text-anchor="end">0.8°</text>
<text x="518.4" y="322" font-size="16" fill="#000" text-anchor="middle">&#8722;79.8°</text>
<text x="656" y="322" font-size="16" fill="#000" text-anchor="middle">&#8722;79.7°</text>
<text x="-0.5" y="433.8" font-size="23" fill="#000" font-weight="bold" stroke="#000" stroke-width="0.6">c</text>
<text x="71" y="453.2" font-size="16.5" fill="#000">WNW</text>
<text x="256" y="453.8" font-size="16.5" fill="#000">ESE</text>
<rect x="92.5" y="462" width="181.8" height="85.5" fill="none" stroke="#111" stroke-width="1.6"/>
<line x1="95.5" y1="547.5" x2="95.5" y2="551.5" stroke="#111" stroke-width="1.2"/>
<text x="95.5" y="570.2" font-size="16.5" fill="#000" text-anchor="middle">&#8722;1</text>
<line x1="183.0" y1="547.5" x2="183.0" y2="551.5" stroke="#111" stroke-width="1.2"/>
<text x="183.0" y="570.2" font-size="16.5" fill="#000" text-anchor="middle">0</text>
<line x1="270.5" y1="547.5" x2="270.5" y2="551.5" stroke="#111" stroke-width="1.2"/>
<text x="270.5" y="570.2" font-size="16.5" fill="#000" text-anchor="middle">1</text>
<line x1="139.25" y1="547.5" x2="139.25" y2="550" stroke="#111" stroke-width="1"/>
<line x1="226.75" y1="547.5" x2="226.75" y2="550" stroke="#111" stroke-width="1"/>
<line x1="89" y1="501.9" x2="93" y2="501.9" stroke="#111" stroke-width="1.2"/>
<text x="81.5" y="508.2" font-size="16.5" fill="#000" text-anchor="end">19.5</text>
<line x1="89" y1="545.6999999999999" x2="93" y2="545.6999999999999" stroke="#111" stroke-width="1.2"/>
<text x="81.5" y="551.9999999999999" font-size="16.5" fill="#000" text-anchor="end">20.0</text>
<text x="182" y="595" font-size="16.5" fill="#000" text-anchor="middle">Distance (km)</text>
<text x="35.5" y="512" font-size="16.5" fill="#000" text-anchor="middle" transform="rotate(-90 35.5 512)">Depth (km)</text>
<text x="322" y="345" font-size="23" fill="#000" font-weight="bold" stroke="#000" stroke-width="0.6">d</text>
<text x="376.5" y="349.4" font-size="16.5" fill="#000">WNW</text>
<text x="644.5" y="349" font-size="16.5" fill="#000">ESE</text>
<rect x="398.8" y="355.9" width="262.90000000000003" height="210.70000000000005" fill="none" stroke="#111" stroke-width="1.6"/>
<line x1="457.8" y1="566.6" x2="457.8" y2="570.5" stroke="#111" stroke-width="1.2"/>
<text x="457.8" y="590" font-size="16.5" fill="#000" text-anchor="middle">3</text>
<line x1="543.9" y1="566.6" x2="543.9" y2="570.5" stroke="#111" stroke-width="1.2"/>
<text x="543.9" y="590" font-size="16.5" fill="#000" text-anchor="middle">4</text>
<line x1="630.0" y1="566.6" x2="630.0" y2="570.5" stroke="#111" stroke-width="1.2"/>
<text x="630.0" y="590" font-size="16.5" fill="#000" text-anchor="middle">5</text>
<line x1="414.75" y1="566.6" x2="414.75" y2="569" stroke="#111" stroke-width="1"/>
<line x1="500.85" y1="566.6" x2="500.85" y2="569" stroke="#111" stroke-width="1"/>
<line x1="586.95" y1="566.6" x2="586.95" y2="569" stroke="#111" stroke-width="1"/>
<line x1="394.5" y1="389.8" x2="398.8" y2="389.8" stroke="#111" stroke-width="1.2"/>
<text x="389.5" y="398.0" font-size="16.5" fill="#000" text-anchor="end">21.0</text>
<line x1="394.5" y1="433.1" x2="398.8" y2="433.1" stroke="#111" stroke-width="1.2"/>
<text x="389.5" y="441.3" font-size="16.5" fill="#000" text-anchor="end">21.5</text>
<line x1="394.5" y1="476.4" x2="398.8" y2="476.4" stroke="#111" stroke-width="1.2"/>
<text x="389.5" y="484.59999999999997" font-size="16.5" fill="#000" text-anchor="end">22.0</text>
<line x1="394.5" y1="519.7" x2="398.8" y2="519.7" stroke="#111" stroke-width="1.2"/>
<text x="389.5" y="527.9000000000001" font-size="16.5" fill="#000" text-anchor="end">22.5</text>
<line x1="394.5" y1="563.0" x2="398.8" y2="563.0" stroke="#111" stroke-width="1.2"/>
<text x="389.5" y="571.2" font-size="16.5" fill="#000" text-anchor="end">23.0</text>
<text x="532" y="610.8" font-size="16.5" fill="#000" text-anchor="middle">Distance (km)</text>
<text x="337.8" y="476.2" font-size="16.5" fill="#000" text-anchor="middle" transform="rotate(-90 337.8 476.2)">Depth (km)</text>
<text x="-0.5" y="641" font-size="23" fill="#000" font-weight="bold" stroke="#000" stroke-width="0.6">e</text>
<text x="84.5" y="639.9" font-size="16.5" fill="#000">SSW</text>
<text x="574" y="639.9" font-size="16.5" fill="#000">NNE</text>
<rect x="100.8" y="650.2" width="493.2" height="119.59999999999991" fill="none" stroke="#111" stroke-width="1.6"/>
<line x1="130.98" y1="769.8" x2="130.98" y2="773.5" stroke="#111" stroke-width="1.2"/>
<text x="130.98" y="793.8" font-size="16.5" fill="#000" text-anchor="middle">&#8722;6</text>
<line x1="190.82" y1="769.8" x2="190.82" y2="773.5" stroke="#111" stroke-width="1.2"/>
<text x="190.82" y="793.8" font-size="16.5" fill="#000" text-anchor="middle">&#8722;4</text>
<line x1="250.66" y1="769.8" x2="250.66" y2="773.5" stroke="#111" stroke-width="1.2"/>
<text x="250.66" y="793.8" font-size="16.5" fill="#000" text-anchor="middle">&#8722;2</text>
<line x1="310.5" y1="769.8" x2="310.5" y2="773.5" stroke="#111" stroke-width="1.2"/>
<text x="310.5" y="793.8" font-size="16.5" fill="#000" text-anchor="middle">0</text>
<line x1="370.34000000000003" y1="769.8" x2="370.34000000000003" y2="773.5" stroke="#111" stroke-width="1.2"/>
<text x="370.34000000000003" y="793.8" font-size="16.5" fill="#000" text-anchor="middle">2</text>
<line x1="430.18" y1="769.8" x2="430.18" y2="773.5" stroke="#111" stroke-width="1.2"/>
<text x="430.18" y="793.8" font-size="16.5" fill="#000" text-anchor="middle">4</text>
<line x1="490.02" y1="769.8" x2="490.02" y2="773.5" stroke="#111" stroke-width="1.2"/>
<text x="490.02" y="793.8" font-size="16.5" fill="#000" text-anchor="middle">6</text>
<line x1="549.86" y1="769.8" x2="549.86" y2="773.5" stroke="#111" stroke-width="1.2"/>
<text x="549.86" y="793.8" font-size="16.5" fill="#000" text-anchor="middle">8</text>
<line x1="97" y1="650.05" x2="100.8" y2="650.05" stroke="#111" stroke-width="1.2"/>
<text x="91.5" y="655.7" font-size="16.5" fill="#000" text-anchor="end">1</text>
<line x1="97" y1="680.0" x2="100.8" y2="680.0" stroke="#111" stroke-width="1.2"/>
<text x="91.5" y="688.5" font-size="16.5" fill="#000" text-anchor="end">0</text>
<line x1="97" y1="709.95" x2="100.8" y2="709.95" stroke="#111" stroke-width="1.2"/>
<text x="91.5" y="716.2" font-size="16.5" fill="#000" text-anchor="end">&#8722;1</text>
<line x1="97" y1="739.9" x2="100.8" y2="739.9" stroke="#111" stroke-width="1.2"/>
<text x="91.5" y="747.7" font-size="16.5" fill="#000" text-anchor="end">&#8722;2</text>
<line x1="97" y1="769.85" x2="100.8" y2="769.85" stroke="#111" stroke-width="1.2"/>
<text x="91.5" y="777.9" font-size="16.5" fill="#000" text-anchor="end">&#8722;3</text>
<line x1="100.8" y1="680" x2="594" y2="680" stroke="#bbb" stroke-width="1"/>
<text x="344" y="817.5" font-size="16.5" fill="#000" text-anchor="middle">Distance along strike (km)</text>
<text x="33.4" y="708.1" font-size="16.5" fill="#000" text-anchor="middle" transform="rotate(-90 33.4 708.1)">Distance to</text>
<text x="53" y="708.8" font-size="16.5" fill="#000" text-anchor="middle" transform="rotate(-90 53 708.8)">plane (km)</text>
<path d="M601,665.2H602.6V667.15H601ZM601,667.1H603.9V668.45H601ZM601,668.4H610.2V670.35H601ZM601,670.3H615.2V671.55H601ZM601,671.5H622.8V673.45H601ZM601,673.4H631.6V675.35H601ZM601,675.3H634.7V677.25H601ZM601,677.2H632.9V679.15H601ZM601,679.1H626.6V681.05H601ZM601,681H638.5V682.95H601ZM601,682.9H620.3V684.75H601ZM601,684.7H627.8V686.05H601ZM601,686H619.6V687.95H601ZM601,687.9H611.4V689.25H601ZM601,689.2H607.6V690.45H601ZM601,690.4H606.4V692.35H601ZM601,692.3H602.6V693.65H601ZM601,693.6H602V694.85H601ZM601,694.8H613.3V696.15H601ZM601,696.1H602.6V698.05H601ZM601,698H601.8V699.25H601ZM601,705.5H603.2V706.85H601ZM601,706.8H602V708.75H601ZM601,717.5H601.7V718.85H601ZM601,720.7H603.2V721.95H601Z" fill="#1f77b4"/>
<rect x="600.3" y="650.2" width="40.200000000000045" height="119.59999999999991" fill="none" stroke="#111" stroke-width="1.6"/>
<line x1="597.5" y1="680.0" x2="600.3" y2="680.0" stroke="#111" stroke-width="1"/>
<line x1="597.5" y1="709.95" x2="600.3" y2="709.95" stroke="#111" stroke-width="1"/>
<line x1="597.5" y1="739.9" x2="600.3" y2="739.9" stroke="#111" stroke-width="1"/>
<line x1="640.5" y1="769.8" x2="640.5" y2="773" stroke="#111" stroke-width="1"/>
<text x="598.8" y="793.8" font-size="16.5" fill="#000" text-anchor="middle">0</text>
<text x="640.5" y="793.8" font-size="16.5" fill="#000" text-anchor="middle">100</text>
<text x="607" y="812.6" font-size="16.5" fill="#000" font-style="italic">N</text>
<text x="619.2" y="817.2" font-size="12.5" fill="#000">ev</text>
<text x="-0.5" y="857.8" font-size="23" fill="#000" font-weight="bold" stroke="#000" stroke-width="0.6">f</text>
<path d="M47,1058 V976.5 H63.2 V935.5 H80.8 V894.4 H97.3 V1016.4 H115.1 V1058 Z M132.3,1058 V1016.4 H149 V1058 Z M305,1058 V1016.4 H321.8 V1058 Z" fill="#1f77b4"/>
<line x1="82.4" y1="1015.9" x2="82.4" y2="1058" stroke="#ff0000" stroke-width="2.2"/>
<line x1="47" y1="887" x2="240.4" y2="887" stroke="#111" stroke-width="1.6"/>
<line x1="47" y1="887" x2="47" y2="1058" stroke="#111" stroke-width="1.6"/>
<line x1="47" y1="1058" x2="322.2" y2="1058" stroke="#111" stroke-width="1.6"/>
<line x1="322.2" y1="1021" x2="322.2" y2="1058" stroke="#111" stroke-width="1.6"/>
<line x1="47.0" y1="1058" x2="47.0" y2="1062" stroke="#111" stroke-width="1.2"/>
<text x="47.0" y="1081.3" font-size="16.5" fill="#000" text-anchor="middle">0</text>
<line x1="132.8" y1="1058" x2="132.8" y2="1062" stroke="#111" stroke-width="1.2"/>
<text x="132.8" y="1081.3" font-size="16.5" fill="#000" text-anchor="middle">50</text>
<line x1="218.6" y1="1058" x2="218.6" y2="1062" stroke="#111" stroke-width="1.2"/>
<text x="218.6" y="1081.3" font-size="16.5" fill="#000" text-anchor="middle">100</text>
<line x1="304.4" y1="1058" x2="304.4" y2="1062" stroke="#111" stroke-width="1.2"/>
<text x="304.4" y="1081.3" font-size="16.5" fill="#000" text-anchor="middle">150</text>
<line x1="43" y1="1058.0" x2="47" y2="1058.0" stroke="#111" stroke-width="1.2"/>
<text x="38.3" y="1064.2" font-size="16.5" fill="#000" text-anchor="end">0</text>
<line x1="43" y1="976.2" x2="47" y2="976.2" stroke="#111" stroke-width="1.2"/>
<text x="38.3" y="982.4000000000001" font-size="16.5" fill="#000" text-anchor="end">2</text>
<line x1="43" y1="894.4" x2="47" y2="894.4" stroke="#111" stroke-width="1.2"/>
<text x="38.3" y="900.6" font-size="16.5" fill="#000" text-anchor="end">4</text>
<text x="182" y="1108.5" font-size="16.5" fill="#000" text-anchor="middle">Family plane thickness (m)</text>
<text x="15.4" y="976.5" font-size="16.5" fill="#000" text-anchor="middle" transform="rotate(-90 15.4 976.5)">Number of families</text>
<rect x="240.4" y="830" width="95" height="191" fill="#fff"/>
<circle cx="324.2" cy="928.9" r="91.2" fill="#fff"/>
<clipPath id="sc"><circle cx="324.2" cy="928.9" r="89.2"/></clipPath>
<circle cx="324.2" cy="928.9" r="89.2" fill="#fde6e3"/>
<g clip-path="url(#sc)">
<ellipse cx="308.5" cy="923.5" rx="54.6" ry="53.8" fill="#fcd0cc"/>
<ellipse cx="304" cy="922.8" rx="43.4" ry="43.6" fill="#fbb5bc"/>
<ellipse cx="303" cy="923.2" rx="34.5" ry="35.2" fill="#f993b0"/>
<ellipse cx="302.8" cy="923.2" rx="27.2" ry="28.4" fill="#f768a1"/>
<ellipse cx="303.2" cy="924" rx="19.6" ry="20.8" fill="#dd3497"/>
<ellipse cx="303.2" cy="923.2" rx="12.6" ry="11.6" fill="#ae017e"/>
<path d="M301.11,1015.06 L301.30,1014.48 L301.54,1013.92 L301.85,1013.37 L302.20,1012.83 L302.61,1012.31 L303.07,1011.81 L303.58,1011.32 L304.14,1010.85 L304.74,1010.41 L305.39,1009.97 L306.07,1009.56 L306.80,1009.17 L307.56,1008.80 L308.36,1008.45 L309.19,1008.12 L310.05,1007.81 L310.94,1007.52 L311.86,1007.25 L312.80,1007.00 L313.77,1006.77 L314.75,1006.57 L315.76,1006.39 L316.78,1006.22 L317.81,1006.08 L318.86,1005.96 L319.91,1005.87 L320.98,1005.79 L322.05,1005.74 L323.12,1005.70 L324.20,1005.69 L325.28,1005.70 L326.35,1005.74 L327.42,1005.79 L328.49,1005.87 L329.54,1005.96 L330.59,1006.08 L331.62,1006.22 L332.64,1006.39 L333.65,1006.57 L334.63,1006.77 L335.60,1007.00 L336.54,1007.25 L337.46,1007.52 L338.35,1007.81 L339.21,1008.12 L340.04,1008.45 L340.84,1008.80 L341.60,1009.17 L342.33,1009.56 L343.01,1009.97 L343.66,1010.41 L344.26,1010.85 L344.82,1011.32 L345.33,1011.81 L345.79,1012.31 L346.20,1012.83 L346.55,1013.37 L346.86,1013.92 L347.10,1014.48 L347.29,1015.06 M279.60,1006.15 L280.23,1005.16 L280.96,1004.21 L281.78,1003.29 L282.68,1002.42 L283.66,1001.59 L284.72,1000.79 L285.86,1000.04 L287.06,999.32 L288.32,998.64 L289.65,997.99 L291.04,997.39 L292.48,996.81 L293.97,996.27 L295.51,995.77 L297.09,995.30 L298.72,994.86 L300.38,994.46 L302.08,994.08 L303.81,993.74 L305.57,993.43 L307.36,993.15 L309.17,992.90 L311.00,992.68 L312.85,992.49 L314.72,992.34 L316.60,992.20 L318.49,992.10 L320.39,992.03 L322.29,991.99 L324.20,991.97 L326.11,991.99 L328.01,992.03 L329.91,992.10 L331.80,992.20 L333.68,992.34 L335.55,992.49 L337.40,992.68 L339.23,992.90 L341.04,993.15 L342.83,993.43 L344.59,993.74 L346.32,994.08 L348.02,994.46 L349.68,994.86 L351.31,995.30 L352.89,995.77 L354.43,996.27 L355.92,996.81 L357.36,997.39 L358.75,997.99 L360.08,998.64 L361.34,999.32 L362.54,1000.04 L363.68,1000.79 L364.74,1001.59 L365.72,1002.42 L366.62,1003.29 L367.44,1004.21 L368.17,1005.16 L368.80,1006.15 M261.13,991.97 L262.35,990.84 L263.67,989.76 L265.09,988.75 L266.59,987.79 L268.19,986.89 L269.86,986.04 L271.60,985.24 L273.42,984.49 L275.30,983.78 L277.25,983.11 L279.25,982.49 L281.31,981.91 L283.42,981.37 L285.58,980.87 L287.78,980.40 L290.03,979.97 L292.31,979.57 L294.63,979.21 L296.98,978.87 L299.36,978.57 L301.77,978.30 L304.20,978.06 L306.66,977.85 L309.13,977.67 L311.62,977.52 L314.12,977.39 L316.63,977.30 L319.15,977.23 L321.67,977.19 L324.20,977.17 L326.73,977.19 L329.25,977.23 L331.77,977.30 L334.28,977.39 L336.78,977.52 L339.27,977.67 L341.74,977.85 L344.20,978.06 L346.63,978.30 L349.04,978.57 L351.42,978.87 L353.77,979.21 L356.09,979.57 L358.37,979.97 L360.62,980.40 L362.82,980.87 L364.98,981.37 L367.09,981.91 L369.15,982.49 L371.15,983.11 L373.10,983.78 L374.98,984.49 L376.80,985.24 L378.54,986.04 L380.21,986.89 L381.81,987.79 L383.31,988.75 L384.73,989.76 L386.05,990.84 L387.27,991.97 M246.95,973.50 L248.75,972.52 L250.63,971.61 L252.60,970.75 L254.64,969.96 L256.76,969.21 L258.95,968.51 L261.20,967.86 L263.51,967.25 L265.89,966.69 L268.31,966.16 L270.80,965.66 L273.33,965.21 L275.90,964.78 L278.52,964.39 L281.18,964.02 L283.88,963.69 L286.61,963.38 L289.38,963.10 L292.18,962.84 L295.00,962.61 L297.85,962.41 L300.72,962.22 L303.61,962.06 L306.52,961.93 L309.45,961.81 L312.38,961.72 L315.33,961.64 L318.28,961.59 L321.24,961.56 L324.20,961.55 L327.16,961.56 L330.12,961.59 L333.07,961.64 L336.02,961.72 L338.95,961.81 L341.88,961.93 L344.79,962.06 L347.68,962.22 L350.55,962.41 L353.40,962.61 L356.22,962.84 L359.02,963.10 L361.79,963.38 L364.52,963.69 L367.22,964.02 L369.88,964.39 L372.50,964.78 L375.07,965.21 L377.60,965.66 L380.09,966.16 L382.51,966.69 L384.89,967.25 L387.20,967.86 L389.45,968.51 L391.64,969.21 L393.76,969.96 L395.80,970.75 L397.77,971.61 L399.65,972.52 L401.45,973.50 M238.04,951.99 L240.25,951.42 L242.54,950.90 L244.88,950.42 L247.29,949.97 L249.76,949.55 L252.29,949.16 L254.87,948.80 L257.51,948.46 L260.19,948.15 L262.93,947.86 L265.71,947.59 L268.53,947.34 L271.39,947.11 L274.30,946.89 L277.24,946.70 L280.21,946.51 L283.22,946.35 L286.26,946.20 L289.32,946.06 L292.41,945.94 L295.52,945.83 L298.66,945.73 L301.81,945.64 L304.98,945.57 L308.16,945.51 L311.35,945.45 L314.56,945.42 L317.77,945.39 L320.98,945.37 L324.20,945.37 L327.42,945.37 L330.63,945.39 L333.84,945.42 L337.05,945.45 L340.24,945.51 L343.42,945.57 L346.59,945.64 L349.74,945.73 L352.88,945.83 L355.99,945.94 L359.08,946.06 L362.14,946.20 L365.18,946.35 L368.19,946.51 L371.16,946.70 L374.10,946.89 L377.01,947.11 L379.87,947.34 L382.69,947.59 L385.47,947.86 L388.21,948.15 L390.89,948.46 L393.53,948.80 L396.11,949.16 L398.64,949.55 L401.11,949.97 L403.52,950.42 L405.86,950.90 L408.15,951.42 L410.36,951.99 M235.00,928.90 L237.37,928.90 L239.79,928.90 L242.27,928.90 L244.81,928.90 L247.41,928.90 L250.05,928.90 L252.75,928.90 L255.49,928.90 L258.29,928.90 L261.13,928.90 L264.01,928.90 L266.93,928.90 L269.89,928.90 L272.89,928.90 L275.93,928.90 L278.99,928.90 L282.09,928.90 L285.22,928.90 L288.37,928.90 L291.55,928.90 L294.75,928.90 L297.97,928.90 L301.21,928.90 L304.47,928.90 L307.73,928.90 L311.01,928.90 L314.30,928.90 L317.60,928.90 L320.90,928.90 L324.20,928.90 L327.50,928.90 L330.80,928.90 L334.10,928.90 L337.39,928.90 L340.67,928.90 L343.93,928.90 L347.19,928.90 L350.43,928.90 L353.65,928.90 L356.85,928.90 L360.03,928.90 L363.18,928.90 L366.31,928.90 L369.41,928.90 L372.47,928.90 L375.51,928.90 L378.51,928.90 L381.47,928.90 L384.39,928.90 L387.27,928.90 L390.11,928.90 L392.91,928.90 L395.65,928.90 L398.35,928.90 L400.99,928.90 L403.59,928.90 L406.13,928.90 L408.61,928.90 L411.03,928.90 L413.40,928.90 M238.04,905.81 L240.25,906.38 L242.54,906.90 L244.88,907.38 L247.29,907.83 L249.76,908.25 L252.29,908.64 L254.87,909.00 L257.51,909.34 L260.19,909.65 L262.93,909.94 L265.71,910.21 L268.53,910.46 L271.39,910.69 L274.30,910.91 L277.24,911.10 L280.21,911.29 L283.22,911.45 L286.26,911.60 L289.32,911.74 L292.41,911.86 L295.52,911.97 L298.66,912.07 L301.81,912.16 L304.98,912.23 L308.16,912.29 L311.35,912.35 L314.56,912.38 L317.77,912.41 L320.98,912.43 L324.20,912.43 L327.42,912.43 L330.63,912.41 L333.84,912.38 L337.05,912.35 L340.24,912.29 L343.42,912.23 L346.59,912.16 L349.74,912.07 L352.88,911.97 L355.99,911.86 L359.08,911.74 L362.14,911.60 L365.18,911.45 L368.19,911.29 L371.16,911.10 L374.10,910.91 L377.01,910.69 L379.87,910.46 L382.69,910.21 L385.47,909.94 L388.21,909.65 L390.89,909.34 L393.53,909.00 L396.11,908.64 L398.64,908.25 L401.11,907.83 L403.52,907.38 L405.86,906.90 L408.15,906.38 L410.36,905.81 M246.95,884.30 L248.75,885.28 L250.63,886.19 L252.60,887.05 L254.64,887.84 L256.76,888.59 L258.95,889.29 L261.20,889.94 L263.51,890.55 L265.89,891.11 L268.31,891.64 L270.80,892.14 L273.33,892.59 L275.90,893.02 L278.52,893.41 L281.18,893.78 L283.88,894.11 L286.61,894.42 L289.38,894.70 L292.18,894.96 L295.00,895.19 L297.85,895.39 L300.72,895.58 L303.61,895.74 L306.52,895.87 L309.45,895.99 L312.38,896.08 L315.33,896.16 L318.28,896.21 L321.24,896.24 L324.20,896.25 L327.16,896.24 L330.12,896.21 L333.07,896.16 L336.02,896.08 L338.95,895.99 L341.88,895.87 L344.79,895.74 L347.68,895.58 L350.55,895.39 L353.40,895.19 L356.22,894.96 L359.02,894.70 L361.79,894.42 L364.52,894.11 L367.22,893.78 L369.88,893.41 L372.50,893.02 L375.07,892.59 L377.60,892.14 L380.09,891.64 L382.51,891.11 L384.89,890.55 L387.20,889.94 L389.45,889.29 L391.64,888.59 L393.76,887.84 L395.80,887.05 L397.77,886.19 L399.65,885.28 L401.45,884.30 M261.13,865.83 L262.35,866.96 L263.67,868.04 L265.09,869.05 L266.59,870.01 L268.19,870.91 L269.86,871.76 L271.60,872.56 L273.42,873.31 L275.30,874.02 L277.25,874.69 L279.25,875.31 L281.31,875.89 L283.42,876.43 L285.58,876.93 L287.78,877.40 L290.03,877.83 L292.31,878.23 L294.63,878.59 L296.98,878.93 L299.36,879.23 L301.77,879.50 L304.20,879.74 L306.66,879.95 L309.13,880.13 L311.62,880.28 L314.12,880.41 L316.63,880.50 L319.15,880.57 L321.67,880.61 L324.20,880.63 L326.73,880.61 L329.25,880.57 L331.77,880.50 L334.28,880.41 L336.78,880.28 L339.27,880.13 L341.74,879.95 L344.20,879.74 L346.63,879.50 L349.04,879.23 L351.42,878.93 L353.77,878.59 L356.09,878.23 L358.37,877.83 L360.62,877.40 L362.82,876.93 L364.98,876.43 L367.09,875.89 L369.15,875.31 L371.15,874.69 L373.10,874.02 L374.98,873.31 L376.80,872.56 L378.54,871.76 L380.21,870.91 L381.81,870.01 L383.31,869.05 L384.73,868.04 L386.05,866.96 L387.27,865.83 M279.60,851.65 L280.23,852.64 L280.96,853.59 L281.78,854.51 L282.68,855.38 L283.66,856.21 L284.72,857.01 L285.86,857.76 L287.06,858.48 L288.32,859.16 L289.65,859.81 L291.04,860.41 L292.48,860.99 L293.97,861.53 L295.51,862.03 L297.09,862.50 L298.72,862.94 L300.38,863.34 L302.08,863.72 L303.81,864.06 L305.57,864.37 L307.36,864.65 L309.17,864.90 L311.00,865.12 L312.85,865.31 L314.72,865.46 L316.60,865.60 L318.49,865.70 L320.39,865.77 L322.29,865.81 L324.20,865.83 L326.11,865.81 L328.01,865.77 L329.91,865.70 L331.80,865.60 L333.68,865.46 L335.55,865.31 L337.40,865.12 L339.23,864.90 L341.04,864.65 L342.83,864.37 L344.59,864.06 L346.32,863.72 L348.02,863.34 L349.68,862.94 L351.31,862.50 L352.89,862.03 L354.43,861.53 L355.92,860.99 L357.36,860.41 L358.75,859.81 L360.08,859.16 L361.34,858.48 L362.54,857.76 L363.68,857.01 L364.74,856.21 L365.72,855.38 L366.62,854.51 L367.44,853.59 L368.17,852.64 L368.80,851.65 M301.11,842.74 L301.30,843.32 L301.54,843.88 L301.85,844.43 L302.20,844.97 L302.61,845.49 L303.07,845.99 L303.58,846.48 L304.14,846.95 L304.74,847.39 L305.39,847.83 L306.07,848.24 L306.80,848.63 L307.56,849.00 L308.36,849.35 L309.19,849.68 L310.05,849.99 L310.94,850.28 L311.86,850.55 L312.80,850.80 L313.77,851.03 L314.75,851.23 L315.76,851.41 L316.78,851.58 L317.81,851.72 L318.86,851.84 L319.91,851.93 L320.98,852.01 L322.05,852.06 L323.12,852.10 L324.20,852.11 L325.28,852.10 L326.35,852.06 L327.42,852.01 L328.49,851.93 L329.54,851.84 L330.59,851.72 L331.62,851.58 L332.64,851.41 L333.65,851.23 L334.63,851.03 L335.60,850.80 L336.54,850.55 L337.46,850.28 L338.35,849.99 L339.21,849.68 L340.04,849.35 L340.84,849.00 L341.60,848.63 L342.33,848.24 L343.01,847.83 L343.66,847.39 L344.26,846.95 L344.82,846.48 L345.33,845.99 L345.79,845.49 L346.20,844.97 L346.55,844.43 L346.86,843.88 L347.10,843.32 L347.29,842.74 M305.39,1009.97 L301.98,1007.85 L298.71,1005.59 L295.56,1003.18 L292.54,1000.65 L289.65,997.99 L286.90,995.22 L284.28,992.34 L281.80,989.36 L279.46,986.28 L277.25,983.11 L275.18,979.86 L273.25,976.54 L271.47,973.14 L269.82,969.68 L268.31,966.16 L266.95,962.58 L265.73,958.96 L264.65,955.29 L263.72,951.59 L262.93,947.86 L262.28,944.10 L261.77,940.32 L261.41,936.52 L261.20,932.71 L261.13,928.90 L261.20,925.09 L261.41,921.28 L261.77,917.48 L262.28,913.70 L262.93,909.94 L263.72,906.21 L264.65,902.51 L265.73,898.84 L266.95,895.22 L268.31,891.64 L269.82,888.12 L271.47,884.66 L273.25,881.26 L275.18,877.94 L277.25,874.69 L279.46,871.52 L281.80,868.44 L284.28,865.46 L286.90,862.58 L289.65,859.81 L292.54,857.15 L295.56,854.62 L298.71,852.21 L301.98,849.95 L305.39,847.83 M313.77,1006.77 L311.96,1004.25 L310.24,1001.65 L308.60,998.98 L307.05,996.24 L305.57,993.43 L304.18,990.57 L302.86,987.65 L301.62,984.67 L300.45,981.64 L299.36,978.57 L298.35,975.46 L297.40,972.30 L296.53,969.10 L295.73,965.88 L295.00,962.61 L294.34,959.32 L293.76,956.01 L293.24,952.67 L292.79,949.31 L292.41,945.94 L292.10,942.55 L291.86,939.14 L291.69,935.73 L291.58,932.32 L291.55,928.90 L291.58,925.48 L291.69,922.07 L291.86,918.66 L292.10,915.25 L292.41,911.86 L292.79,908.49 L293.24,905.13 L293.76,901.79 L294.34,898.48 L295.00,895.19 L295.73,891.92 L296.53,888.70 L297.40,885.50 L298.35,882.34 L299.36,879.23 L300.45,876.16 L301.62,873.13 L302.86,870.15 L304.18,867.23 L305.57,864.37 L307.05,861.56 L308.60,858.82 L310.24,856.15 L311.96,853.55 L313.77,851.03 M334.63,1006.77 L336.44,1004.25 L338.16,1001.65 L339.80,998.98 L341.35,996.24 L342.83,993.43 L344.22,990.57 L345.54,987.65 L346.78,984.67 L347.95,981.64 L349.04,978.57 L350.05,975.46 L351.00,972.30 L351.87,969.10 L352.67,965.88 L353.40,962.61 L354.06,959.32 L354.64,956.01 L355.16,952.67 L355.61,949.31 L355.99,945.94 L356.30,942.55 L356.54,939.14 L356.71,935.73 L356.82,932.32 L356.85,928.90 L356.82,925.48 L356.71,922.07 L356.54,918.66 L356.30,915.25 L355.99,911.86 L355.61,908.49 L355.16,905.13 L354.64,901.79 L354.06,898.48 L353.40,895.19 L352.67,891.92 L351.87,888.70 L351.00,885.50 L350.05,882.34 L349.04,879.23 L347.95,876.16 L346.78,873.13 L345.54,870.15 L344.22,867.23 L342.83,864.37 L341.35,861.56 L339.80,858.82 L338.16,856.15 L336.44,853.55 L334.63,851.03 M343.01,1009.97 L346.42,1007.85 L349.69,1005.59 L352.84,1003.18 L355.86,1000.65 L358.75,997.99 L361.50,995.22 L364.12,992.34 L366.60,989.36 L368.94,986.28 L371.15,983.11 L373.22,979.86 L375.15,976.54 L376.93,973.14 L378.58,969.68 L380.09,966.16 L381.45,962.58 L382.67,958.96 L383.75,955.29 L384.68,951.59 L385.47,947.86 L386.12,944.10 L386.63,940.32 L386.99,936.52 L387.20,932.71 L387.27,928.90 L387.20,925.09 L386.99,921.28 L386.63,917.48 L386.12,913.70 L385.47,909.94 L384.68,906.21 L383.75,902.51 L382.67,898.84 L381.45,895.22 L380.09,891.64 L378.58,888.12 L376.93,884.66 L375.15,881.26 L373.22,877.94 L371.15,874.69 L368.94,871.52 L366.60,868.44 L364.12,865.46 L361.50,862.58 L358.75,859.81 L355.86,857.15 L352.84,854.62 L349.69,852.21 L346.42,849.95 L343.01,847.83 M324.2,839.6999999999999 L324.2,1018.1" fill="none" stroke="#a0a0a0" stroke-width="0.75"/>
</g>
<circle cx="324.2" cy="928.9" r="89.2" fill="none" stroke="#444" stroke-width="1"/>
<line x1="283.7" y1="897.2" x2="297.6" y2="917.9" stroke="#111" stroke-width="0.8"/>
<line x1="296.3" y1="892.9" x2="299.8" y2="909.3" stroke="#111" stroke-width="0.8"/>
<line x1="320" y1="893.7" x2="303.6" y2="919.7" stroke="#111" stroke-width="0.8"/>
<line x1="325.2" y1="896.3" x2="305.3" y2="919.7" stroke="#111" stroke-width="0.8"/>
<line x1="317.4" y1="916.2" x2="306.2" y2="920.2" stroke="#111" stroke-width="0.8"/>
<line x1="274.2" y1="908.4" x2="297.6" y2="919.7" stroke="#111" stroke-width="0.8"/>
<line x1="269" y1="923.6" x2="297.6" y2="923.6" stroke="#111" stroke-width="0.8"/>
<line x1="332.1" y1="928.3" x2="307.1" y2="924.8" stroke="#111" stroke-width="0.8"/>
<line x1="330.4" y1="940.4" x2="307.1" y2="935.2" stroke="#111" stroke-width="0.8"/>
<line x1="277.7" y1="949.9" x2="298.4" y2="925.7" stroke="#111" stroke-width="0.8"/>
<line x1="287.2" y1="954.2" x2="299.3" y2="936.1" stroke="#111" stroke-width="0.8"/>
<line x1="313.1" y1="958.6" x2="303.6" y2="934" stroke="#111" stroke-width="0.8"/>
<circle cx="302.7" cy="890.3" r="1.9" fill="#000"/>
<circle cx="300.1" cy="909.3" r="1.9" fill="#000"/>
<circle cx="328.7" cy="907.6" r="1.9" fill="#000"/>
<circle cx="297.6" cy="917.9" r="1.9" fill="#000"/>
<circle cx="298.4" cy="925.7" r="1.9" fill="#000"/>
<circle cx="299.3" cy="936.1" r="1.9" fill="#000"/>
<circle cx="303.6" cy="934" r="1.9" fill="#000"/>
<circle cx="307.1" cy="935.2" r="1.9" fill="#000"/>
<circle cx="301.9" cy="949.1" r="1.9" fill="#000"/>
<circle cx="273.3" cy="939.2" r="1.9" fill="#000"/>
<circle cx="325.2" cy="952.9" r="1.9" fill="#000"/>
<circle cx="363.3" cy="930.9" r="1.9" fill="#000"/>
<circle cx="369.6" cy="869.8" r="1.9" fill="#000"/>
<circle cx="306.2" cy="920.5" r="1.9" fill="#000"/>
<circle cx="297.8" cy="921" r="1.9" fill="#000"/>
<circle cx="304.6" cy="919.8" r="1.9" fill="#000"/>
<polygon points="299.8,918.16 296.8,923.56 302.8,923.56" fill="#a2e82c"/>
<polygon points="309.7,919.06 306.7,924.46 312.7,924.46" fill="#ffcc00"/>
<polygon points="305,921.56 302.0,926.96 308.0,926.96" fill="#a3b9d9"/>
<text x="274.70000000000005" y="894.6" font-size="16.5" fill="#1fb8c4">m</text>
<text x="293.70000000000005" y="887.7" font-size="16.5" fill="#1fb8c4">i</text>
<text x="303.6" y="887.7" font-size="16.5" fill="#1fb8c4">r</text>
<text x="318.3" y="887.7" font-size="16.5" fill="#1fb8c4">l</text>
<text x="326.1" y="891.5" font-size="16.5" fill="#1fb8c4">j</text>
<text x="331.20000000000005" y="906.7" font-size="16.5" fill="#1fb8c4">a</text>
<text x="262.90000000000003" y="906.5" font-size="16.5" fill="#1fb8c4">p</text>
<text x="318.3" y="921.4" font-size="16.5" fill="#1fb8c4">k</text>
<text x="257.70000000000005" y="929.2" font-size="16.5" fill="#1fb8c4">b</text>
<text x="333.8" y="932.6" font-size="16.5" fill="#1fb8c4">d</text>
<text x="261.20000000000005" y="944.7" font-size="16.5" fill="#1fb8c4">c</text>
<text x="331.8" y="945.6" font-size="16.5" fill="#1fb8c4">o</text>
<text x="267.3" y="957.7" font-size="16.5" fill="#1fb8c4">h</text>
<text x="279.40000000000003" y="963.8" font-size="16.5" fill="#1fb8c4">e</text>
<text x="298.40000000000003" y="962" font-size="16.5" fill="#1fb8c4">q</text>
<text x="311.70000000000005" y="969.8" font-size="16.5" fill="#1fb8c4">f</text>
<text x="327.8" y="963.8" font-size="16.5" fill="#ff2020">n</text>
<text x="365.1" y="946" font-size="16.5" fill="#ff2020">g</text>
<text x="371.40000000000003" y="882.9" font-size="16.5" fill="#ff2020">s</text>
<rect x="423.6" y="999.3571428571429" width="10" height="28.442857142857143" fill="#fde6e3" stroke="none" stroke-width="0"/>
<rect x="423.6" y="971.2142857142857" width="10" height="28.442857142857143" fill="#fcd0cc" stroke="none" stroke-width="0"/>
<rect x="423.6" y="943.0714285714286" width="10" height="28.442857142857143" fill="#fbb5bc" stroke="none" stroke-width="0"/>
<rect x="423.6" y="914.9285714285714" width="10" height="28.442857142857143" fill="#f993b0" stroke="none" stroke-width="0"/>
<rect x="423.6" y="886.7857142857142" width="10" height="28.442857142857143" fill="#f768a1" stroke="none" stroke-width="0"/>
<rect x="423.6" y="858.6428571428571" width="10" height="28.442857142857143" fill="#dd3497" stroke="none" stroke-width="0"/>
<rect x="423.6" y="830.5" width="10" height="28.442857142857143" fill="#ae017e" stroke="none" stroke-width="0"/>
<rect x="423.6" y="830.5" width="10" height="197.0" fill="none" stroke="#555" stroke-width="0.8"/>
<line x1="433.6" y1="1027.5" x2="437.5" y2="1027.5" stroke="#111" stroke-width="1"/>
<text x="439.5" y="1033.5" font-size="16.5" fill="#000">0</text>
<line x1="433.6" y1="999.3571428571429" x2="436" y2="999.3571428571429" stroke="#111" stroke-width="1"/>
<line x1="433.6" y1="971.2142857142857" x2="437.5" y2="971.2142857142857" stroke="#111" stroke-width="1"/>
<text x="439.5" y="977.2142857142857" font-size="16.5" fill="#000">4</text>
<line x1="433.6" y1="943.0714285714286" x2="436" y2="943.0714285714286" stroke="#111" stroke-width="1"/>
<line x1="433.6" y1="914.9285714285714" x2="437.5" y2="914.9285714285714" stroke="#111" stroke-width="1"/>
<text x="439.5" y="920.9285714285714" font-size="16.5" fill="#000">8</text>
<line x1="433.6" y1="886.7857142857142" x2="436" y2="886.7857142857142" stroke="#111" stroke-width="1"/>
<line x1="433.6" y1="858.6428571428571" x2="437.5" y2="858.6428571428571" stroke="#111" stroke-width="1"/>
<text x="439.5" y="864.6428571428571" font-size="16.5" fill="#000">12</text>
<text x="478" y="935.8" font-size="16.5" fill="#000" text-anchor="middle" transform="rotate(-90 478 935.8)">Pole density</text>
<circle cx="506.2" cy="887.8" r="5.9" fill="#000" stroke="none" stroke-width="1"/>
<polygon points="506.2,912.3 498.45,926.1 513.95,926.1" fill="#a3b9d9"/>
<polygon points="506.2,945.2 498.45,959.4 513.95,959.4" fill="#a2e82c"/>
<polygon points="506.2,993.7 498.45,1007.2 513.95,1007.2" fill="#ffcc00"/>
<text x="519.8" y="892.9" font-size="16.9" fill="#000">Individual family planes</text>
<text x="519.8" y="927" font-size="16.9" fill="#000">Average family plane</text>
<text x="519.8" y="960.5" font-size="16.9" fill="#000">Best-fit plane for all</text>
<text x="519.8" y="980.7" font-size="16.9" fill="#000">seismicity</text>
<text x="519.8" y="1008.4" font-size="16.9" fill="#000">Font slab model</text>
</svg></body></html>
